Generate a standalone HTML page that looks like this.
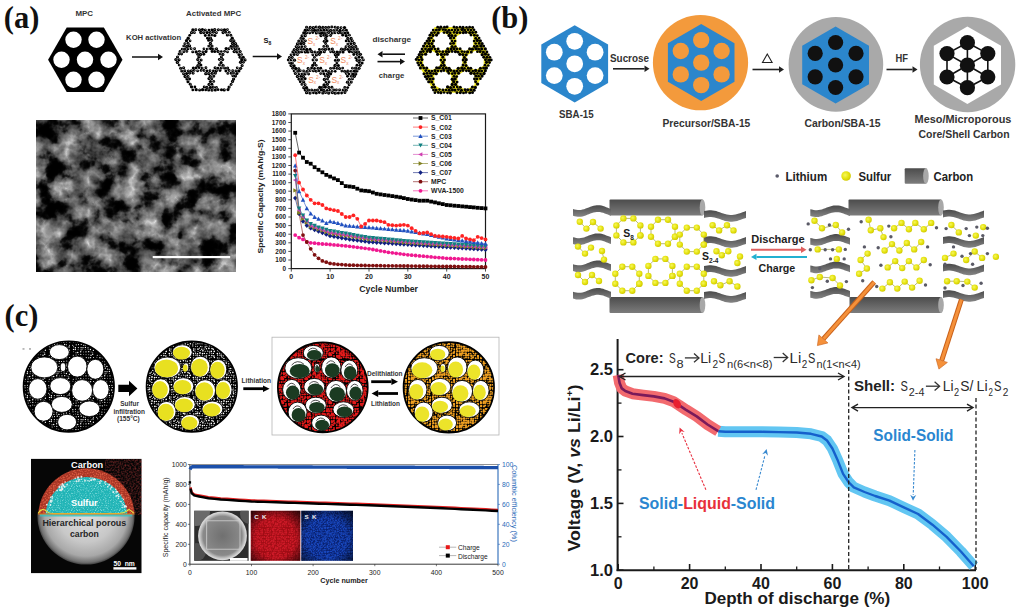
<!DOCTYPE html>
<html><head><meta charset="utf-8"><style>
html,body{margin:0;padding:0;background:#fff;width:1021px;height:613px;overflow:hidden;}
svg{display:block}
</style></head><body>
<svg width="1021" height="613" viewBox="0 0 1021 613">
<defs><pattern id="pdots" width="3.2" height="5.54" patternUnits="userSpaceOnUse"><g fill="#000"><circle cx="1.6" cy="1.38" r="1.45"/><circle cx="0" cy="4.15" r="1.45"/><circle cx="3.2" cy="4.15" r="1.45"/></g><g fill="#fff"><circle cx="1.6" cy="1.38" r="0.35"/><circle cx="0" cy="4.15" r="0.35"/><circle cx="3.2" cy="4.15" r="0.35"/></g></pattern><pattern id="ydots" width="3.2" height="5.54" patternUnits="userSpaceOnUse"><rect width="3.2" height="5.54" fill="#e8e000"/><g fill="#000"><circle cx="1.6" cy="1.38" r="1.3"/><circle cx="0" cy="4.15" r="1.3"/><circle cx="3.2" cy="4.15" r="1.3"/></g></pattern><filter id="sem" x="0" y="0" width="100%" height="100%" color-interpolation-filters="sRGB"><feTurbulence type="fractalNoise" baseFrequency="0.05" numOctaves="4" seed="11" result="n"/><feTurbulence type="turbulence" baseFrequency="0.045" numOctaves="3" seed="12" result="t"/><feColorMatrix in="n" type="matrix" values="1 0 0 0 0  1 0 0 0 0  1 0 0 0 0  0 0 0 0 1" result="ng"/><feComponentTransfer in="ng" result="base"><feFuncR type="table" tableValues="0 0 0 0 0 0 0.01 0.03 0.1 0.2 0.27 0.32 0.37 0.42 0.47 0.52 0.52 0.52 0.52 0.52 0.52"/><feFuncG type="table" tableValues="0 0 0 0 0 0 0.01 0.03 0.1 0.2 0.27 0.32 0.37 0.42 0.47 0.52 0.52 0.52 0.52 0.52 0.52"/><feFuncB type="table" tableValues="0 0 0 0 0 0 0.01 0.03 0.1 0.2 0.27 0.32 0.37 0.42 0.47 0.52 0.52 0.52 0.52 0.52 0.52"/></feComponentTransfer><feColorMatrix in="t" type="matrix" values="1 0 0 0 0  1 0 0 0 0  1 0 0 0 0  0 0 0 0 1" result="tg"/><feComponentTransfer in="tg" result="ridge"><feFuncR type="table" tableValues="0.5 0.25 0.1 0 0 0"/><feFuncG type="table" tableValues="0.5 0.25 0.1 0 0 0"/><feFuncB type="table" tableValues="0.5 0.25 0.1 0 0 0"/></feComponentTransfer><feComposite in="base" in2="ridge" operator="arithmetic" k1="1.3" k2="1" k3="0" k4="0"/><feGaussianBlur stdDeviation="0.5"/></filter><pattern id="specW" width="24" height="24" patternUnits="userSpaceOnUse"><rect width="24" height="24" fill="#000"/><circle cx="0.8" cy="1.7" r="0.65" fill="#fff"/><circle cx="1.0" cy="3.7" r="0.55" fill="#fff"/><circle cx="1.4" cy="6.6" r="0.45" fill="#fff"/><circle cx="0.7" cy="9.2" r="0.55" fill="#fff"/><circle cx="1.6" cy="10.7" r="0.55" fill="#fff"/><circle cx="1.5" cy="13.4" r="0.70" fill="#fff"/><circle cx="1.7" cy="15.7" r="0.43" fill="#fff"/><circle cx="1.3" cy="19.3" r="0.53" fill="#fff"/><circle cx="0.9" cy="21.2" r="0.43" fill="#fff"/><circle cx="3.4" cy="1.2" r="0.57" fill="#fff"/><circle cx="3.4" cy="3.4" r="0.49" fill="#fff"/><circle cx="3.7" cy="6.0" r="0.43" fill="#fff"/><circle cx="4.2" cy="8.8" r="0.61" fill="#fff"/><circle cx="3.4" cy="11.8" r="0.68" fill="#fff"/><circle cx="3.3" cy="13.5" r="0.64" fill="#fff"/><circle cx="4.0" cy="16.8" r="0.55" fill="#fff"/><circle cx="4.1" cy="19.0" r="0.51" fill="#fff"/><circle cx="3.9" cy="21.7" r="0.67" fill="#fff"/><circle cx="6.3" cy="1.4" r="0.43" fill="#fff"/><circle cx="5.9" cy="4.1" r="0.54" fill="#fff"/><circle cx="5.9" cy="6.3" r="0.63" fill="#fff"/><circle cx="6.5" cy="8.6" r="0.55" fill="#fff"/><circle cx="6.3" cy="11.6" r="0.58" fill="#fff"/><circle cx="6.1" cy="13.7" r="0.43" fill="#fff"/><circle cx="5.7" cy="16.5" r="0.71" fill="#fff"/><circle cx="6.4" cy="18.6" r="0.47" fill="#fff"/><circle cx="6.3" cy="21.8" r="0.65" fill="#fff"/><circle cx="8.8" cy="1.7" r="0.49" fill="#fff"/><circle cx="8.8" cy="4.3" r="0.59" fill="#fff"/><circle cx="8.7" cy="6.0" r="0.58" fill="#fff"/><circle cx="9.3" cy="8.2" r="0.66" fill="#fff"/><circle cx="9.1" cy="11.7" r="0.64" fill="#fff"/><circle cx="9.1" cy="13.8" r="0.59" fill="#fff"/><circle cx="8.7" cy="15.7" r="0.68" fill="#fff"/><circle cx="8.8" cy="18.4" r="0.57" fill="#fff"/><circle cx="8.7" cy="21.1" r="0.52" fill="#fff"/><circle cx="11.3" cy="1.4" r="0.60" fill="#fff"/><circle cx="11.2" cy="3.2" r="0.49" fill="#fff"/><circle cx="10.9" cy="6.4" r="0.68" fill="#fff"/><circle cx="11.6" cy="9.1" r="0.66" fill="#fff"/><circle cx="11.0" cy="11.7" r="0.62" fill="#fff"/><circle cx="10.7" cy="13.2" r="0.42" fill="#fff"/><circle cx="11.6" cy="15.9" r="0.45" fill="#fff"/><circle cx="11.4" cy="18.6" r="0.44" fill="#fff"/><circle cx="10.8" cy="21.3" r="0.47" fill="#fff"/><circle cx="13.5" cy="1.5" r="0.56" fill="#fff"/><circle cx="13.5" cy="3.7" r="0.43" fill="#fff"/><circle cx="13.6" cy="6.2" r="0.48" fill="#fff"/><circle cx="13.3" cy="9.2" r="0.57" fill="#fff"/><circle cx="13.4" cy="11.4" r="0.67" fill="#fff"/><circle cx="13.2" cy="13.2" r="0.46" fill="#fff"/><circle cx="14.0" cy="15.8" r="0.63" fill="#fff"/><circle cx="14.0" cy="18.8" r="0.49" fill="#fff"/><circle cx="14.3" cy="21.6" r="0.57" fill="#fff"/><circle cx="15.9" cy="1.4" r="0.54" fill="#fff"/><circle cx="16.3" cy="3.5" r="0.61" fill="#fff"/><circle cx="15.7" cy="6.0" r="0.71" fill="#fff"/><circle cx="16.7" cy="8.5" r="0.68" fill="#fff"/><circle cx="16.0" cy="11.8" r="0.64" fill="#fff"/><circle cx="16.1" cy="13.5" r="0.42" fill="#fff"/><circle cx="16.7" cy="15.7" r="0.67" fill="#fff"/><circle cx="16.8" cy="18.8" r="0.47" fill="#fff"/><circle cx="16.7" cy="21.8" r="0.63" fill="#fff"/><circle cx="18.8" cy="1.1" r="0.52" fill="#fff"/><circle cx="18.4" cy="4.0" r="0.55" fill="#fff"/><circle cx="18.4" cy="5.8" r="0.62" fill="#fff"/><circle cx="18.5" cy="8.7" r="0.52" fill="#fff"/><circle cx="19.2" cy="11.7" r="0.43" fill="#fff"/><circle cx="18.4" cy="13.5" r="0.72" fill="#fff"/><circle cx="19.1" cy="16.1" r="0.48" fill="#fff"/><circle cx="19.0" cy="19.2" r="0.70" fill="#fff"/><circle cx="18.6" cy="21.7" r="0.63" fill="#fff"/><circle cx="21.2" cy="1.8" r="0.49" fill="#fff"/><circle cx="21.5" cy="3.3" r="0.47" fill="#fff"/><circle cx="21.7" cy="5.9" r="0.65" fill="#fff"/><circle cx="21.4" cy="9.2" r="0.53" fill="#fff"/><circle cx="21.1" cy="11.0" r="0.68" fill="#fff"/><circle cx="21.4" cy="14.3" r="0.69" fill="#fff"/><circle cx="20.8" cy="16.3" r="0.45" fill="#fff"/><circle cx="20.7" cy="18.2" r="0.68" fill="#fff"/><circle cx="21.6" cy="21.6" r="0.52" fill="#fff"/></pattern><pattern id="specR" width="24" height="24" patternUnits="userSpaceOnUse"><rect width="24" height="24" fill="#000"/><circle cx="1.7" cy="1.7" r="0.87" fill="#e41a1a"/><circle cx="0.7" cy="3.9" r="1.28" fill="#e41a1a"/><circle cx="1.4" cy="5.5" r="1.20" fill="#e41a1a"/><circle cx="1.3" cy="8.1" r="0.94" fill="#e41a1a"/><circle cx="1.1" cy="10.2" r="1.27" fill="#e41a1a"/><circle cx="1.7" cy="13.2" r="1.17" fill="#e41a1a"/><circle cx="1.1" cy="14.7" r="0.86" fill="#e41a1a"/><circle cx="0.6" cy="17.2" r="1.03" fill="#e41a1a"/><circle cx="1.0" cy="20.0" r="1.16" fill="#e41a1a"/><circle cx="1.2" cy="21.5" r="0.85" fill="#e41a1a"/><circle cx="3.2" cy="0.7" r="1.15" fill="#e41a1a"/><circle cx="4.0" cy="3.7" r="0.95" fill="#e41a1a"/><circle cx="3.9" cy="6.1" r="1.28" fill="#e41a1a"/><circle cx="3.9" cy="8.4" r="1.31" fill="#e41a1a"/><circle cx="3.3" cy="10.9" r="1.42" fill="#e41a1a"/><circle cx="3.0" cy="13.0" r="1.27" fill="#e41a1a"/><circle cx="3.4" cy="15.0" r="1.13" fill="#e41a1a"/><circle cx="4.0" cy="17.3" r="1.34" fill="#e41a1a"/><circle cx="3.3" cy="20.0" r="1.38" fill="#e41a1a"/><circle cx="3.4" cy="21.9" r="1.39" fill="#e41a1a"/><circle cx="6.0" cy="1.1" r="0.97" fill="#e41a1a"/><circle cx="5.5" cy="3.7" r="0.94" fill="#e41a1a"/><circle cx="6.2" cy="5.5" r="1.39" fill="#e41a1a"/><circle cx="5.5" cy="8.6" r="1.26" fill="#e41a1a"/><circle cx="5.8" cy="10.4" r="1.23" fill="#e41a1a"/><circle cx="5.9" cy="12.4" r="0.96" fill="#e41a1a"/><circle cx="5.8" cy="15.5" r="1.21" fill="#e41a1a"/><circle cx="5.2" cy="17.6" r="1.28" fill="#e41a1a"/><circle cx="6.2" cy="19.2" r="1.29" fill="#e41a1a"/><circle cx="5.2" cy="22.0" r="1.00" fill="#e41a1a"/><circle cx="7.7" cy="1.6" r="0.90" fill="#e41a1a"/><circle cx="8.1" cy="3.9" r="0.99" fill="#e41a1a"/><circle cx="7.7" cy="6.2" r="1.09" fill="#e41a1a"/><circle cx="8.3" cy="7.5" r="1.06" fill="#e41a1a"/><circle cx="7.7" cy="10.6" r="0.89" fill="#e41a1a"/><circle cx="8.6" cy="12.1" r="1.28" fill="#e41a1a"/><circle cx="7.5" cy="14.7" r="1.33" fill="#e41a1a"/><circle cx="7.6" cy="16.9" r="1.25" fill="#e41a1a"/><circle cx="7.9" cy="19.0" r="1.43" fill="#e41a1a"/><circle cx="7.6" cy="21.3" r="1.05" fill="#e41a1a"/><circle cx="10.5" cy="1.4" r="0.91" fill="#e41a1a"/><circle cx="10.2" cy="2.9" r="1.11" fill="#e41a1a"/><circle cx="10.7" cy="6.0" r="1.38" fill="#e41a1a"/><circle cx="10.7" cy="8.5" r="1.26" fill="#e41a1a"/><circle cx="10.3" cy="10.0" r="1.24" fill="#e41a1a"/><circle cx="10.1" cy="12.2" r="1.11" fill="#e41a1a"/><circle cx="10.8" cy="14.5" r="1.19" fill="#e41a1a"/><circle cx="10.2" cy="17.3" r="0.93" fill="#e41a1a"/><circle cx="10.9" cy="19.3" r="1.20" fill="#e41a1a"/><circle cx="10.3" cy="21.3" r="1.17" fill="#e41a1a"/><circle cx="12.2" cy="0.6" r="0.86" fill="#e41a1a"/><circle cx="12.2" cy="3.0" r="1.22" fill="#e41a1a"/><circle cx="12.7" cy="6.3" r="1.40" fill="#e41a1a"/><circle cx="13.2" cy="7.7" r="1.11" fill="#e41a1a"/><circle cx="12.4" cy="10.5" r="1.21" fill="#e41a1a"/><circle cx="13.0" cy="12.9" r="0.99" fill="#e41a1a"/><circle cx="12.6" cy="15.0" r="0.84" fill="#e41a1a"/><circle cx="12.1" cy="17.1" r="0.91" fill="#e41a1a"/><circle cx="12.9" cy="19.2" r="0.90" fill="#e41a1a"/><circle cx="12.3" cy="21.5" r="0.97" fill="#e41a1a"/><circle cx="15.0" cy="1.1" r="1.03" fill="#e41a1a"/><circle cx="15.1" cy="3.1" r="1.38" fill="#e41a1a"/><circle cx="15.5" cy="6.0" r="1.10" fill="#e41a1a"/><circle cx="15.0" cy="8.1" r="0.87" fill="#e41a1a"/><circle cx="14.9" cy="10.4" r="0.95" fill="#e41a1a"/><circle cx="14.5" cy="13.0" r="1.06" fill="#e41a1a"/><circle cx="15.0" cy="15.5" r="1.21" fill="#e41a1a"/><circle cx="14.7" cy="17.8" r="1.06" fill="#e41a1a"/><circle cx="14.4" cy="19.8" r="0.90" fill="#e41a1a"/><circle cx="14.7" cy="22.3" r="1.24" fill="#e41a1a"/><circle cx="16.7" cy="1.1" r="1.09" fill="#e41a1a"/><circle cx="17.2" cy="3.1" r="1.19" fill="#e41a1a"/><circle cx="16.7" cy="5.5" r="1.06" fill="#e41a1a"/><circle cx="17.8" cy="7.5" r="1.29" fill="#e41a1a"/><circle cx="16.9" cy="10.4" r="1.08" fill="#e41a1a"/><circle cx="17.2" cy="13.0" r="1.08" fill="#e41a1a"/><circle cx="16.8" cy="14.5" r="0.89" fill="#e41a1a"/><circle cx="17.7" cy="17.4" r="1.42" fill="#e41a1a"/><circle cx="17.5" cy="19.0" r="1.24" fill="#e41a1a"/><circle cx="17.6" cy="22.1" r="1.14" fill="#e41a1a"/><circle cx="19.4" cy="1.1" r="1.32" fill="#e41a1a"/><circle cx="19.3" cy="3.5" r="1.13" fill="#e41a1a"/><circle cx="20.1" cy="6.1" r="1.40" fill="#e41a1a"/><circle cx="20.0" cy="7.8" r="0.98" fill="#e41a1a"/><circle cx="19.5" cy="10.1" r="1.10" fill="#e41a1a"/><circle cx="19.8" cy="13.2" r="1.19" fill="#e41a1a"/><circle cx="19.9" cy="14.5" r="1.05" fill="#e41a1a"/><circle cx="20.1" cy="16.8" r="1.09" fill="#e41a1a"/><circle cx="19.0" cy="19.1" r="1.38" fill="#e41a1a"/><circle cx="20.1" cy="22.0" r="0.92" fill="#e41a1a"/><circle cx="21.6" cy="0.8" r="1.24" fill="#e41a1a"/><circle cx="22.1" cy="3.4" r="1.15" fill="#e41a1a"/><circle cx="21.4" cy="5.8" r="1.41" fill="#e41a1a"/><circle cx="22.2" cy="7.6" r="1.15" fill="#e41a1a"/><circle cx="22.1" cy="10.1" r="1.38" fill="#e41a1a"/><circle cx="21.8" cy="12.9" r="1.08" fill="#e41a1a"/><circle cx="22.4" cy="15.3" r="1.18" fill="#e41a1a"/><circle cx="21.4" cy="17.2" r="0.86" fill="#e41a1a"/><circle cx="22.0" cy="20.0" r="0.95" fill="#e41a1a"/><circle cx="21.9" cy="21.8" r="1.08" fill="#e41a1a"/></pattern><pattern id="specO" width="24" height="24" patternUnits="userSpaceOnUse"><rect width="24" height="24" fill="#000"/><circle cx="0.8" cy="1.2" r="0.97" fill="#f0a020"/><circle cx="1.3" cy="3.6" r="0.81" fill="#f0a020"/><circle cx="0.6" cy="6.2" r="0.91" fill="#f0a020"/><circle cx="0.8" cy="8.6" r="1.03" fill="#f0a020"/><circle cx="1.6" cy="10.3" r="1.12" fill="#f0a020"/><circle cx="0.7" cy="12.8" r="1.25" fill="#f0a020"/><circle cx="1.2" cy="15.2" r="1.14" fill="#f0a020"/><circle cx="0.6" cy="17.6" r="1.10" fill="#f0a020"/><circle cx="0.9" cy="19.0" r="1.25" fill="#f0a020"/><circle cx="1.1" cy="22.1" r="1.25" fill="#f0a020"/><circle cx="3.7" cy="1.7" r="0.99" fill="#f0a020"/><circle cx="3.8" cy="3.4" r="1.28" fill="#f0a020"/><circle cx="3.9" cy="5.3" r="0.84" fill="#f0a020"/><circle cx="3.1" cy="8.6" r="1.01" fill="#f0a020"/><circle cx="3.6" cy="10.1" r="1.05" fill="#f0a020"/><circle cx="3.3" cy="12.5" r="1.09" fill="#f0a020"/><circle cx="3.6" cy="15.4" r="1.15" fill="#f0a020"/><circle cx="4.0" cy="17.7" r="1.32" fill="#f0a020"/><circle cx="3.7" cy="19.1" r="1.24" fill="#f0a020"/><circle cx="4.0" cy="22.3" r="1.08" fill="#f0a020"/><circle cx="6.0" cy="0.8" r="1.23" fill="#f0a020"/><circle cx="5.8" cy="3.2" r="0.80" fill="#f0a020"/><circle cx="6.2" cy="6.3" r="0.82" fill="#f0a020"/><circle cx="6.1" cy="7.9" r="0.85" fill="#f0a020"/><circle cx="5.5" cy="10.7" r="1.25" fill="#f0a020"/><circle cx="5.2" cy="12.8" r="0.79" fill="#f0a020"/><circle cx="6.0" cy="14.7" r="1.25" fill="#f0a020"/><circle cx="6.3" cy="17.3" r="1.32" fill="#f0a020"/><circle cx="5.5" cy="19.0" r="1.10" fill="#f0a020"/><circle cx="5.2" cy="21.5" r="0.99" fill="#f0a020"/><circle cx="8.2" cy="0.7" r="0.79" fill="#f0a020"/><circle cx="8.5" cy="3.2" r="1.30" fill="#f0a020"/><circle cx="8.5" cy="5.6" r="1.02" fill="#f0a020"/><circle cx="8.1" cy="8.2" r="1.10" fill="#f0a020"/><circle cx="8.1" cy="10.5" r="1.29" fill="#f0a020"/><circle cx="8.1" cy="12.6" r="1.17" fill="#f0a020"/><circle cx="7.7" cy="14.7" r="1.31" fill="#f0a020"/><circle cx="8.1" cy="17.3" r="0.78" fill="#f0a020"/><circle cx="7.9" cy="19.6" r="0.78" fill="#f0a020"/><circle cx="8.2" cy="22.0" r="0.80" fill="#f0a020"/><circle cx="10.5" cy="1.1" r="1.14" fill="#f0a020"/><circle cx="10.2" cy="3.7" r="1.18" fill="#f0a020"/><circle cx="9.8" cy="5.2" r="1.14" fill="#f0a020"/><circle cx="10.9" cy="7.8" r="1.02" fill="#f0a020"/><circle cx="10.5" cy="10.1" r="0.97" fill="#f0a020"/><circle cx="10.1" cy="12.5" r="1.10" fill="#f0a020"/><circle cx="10.1" cy="14.8" r="1.19" fill="#f0a020"/><circle cx="9.8" cy="17.3" r="1.17" fill="#f0a020"/><circle cx="10.1" cy="19.2" r="1.21" fill="#f0a020"/><circle cx="10.0" cy="21.5" r="1.01" fill="#f0a020"/><circle cx="12.9" cy="0.7" r="0.95" fill="#f0a020"/><circle cx="12.5" cy="3.9" r="1.01" fill="#f0a020"/><circle cx="13.1" cy="5.4" r="0.96" fill="#f0a020"/><circle cx="12.8" cy="8.5" r="1.02" fill="#f0a020"/><circle cx="12.3" cy="9.9" r="1.06" fill="#f0a020"/><circle cx="12.3" cy="13.0" r="1.23" fill="#f0a020"/><circle cx="12.3" cy="14.7" r="1.21" fill="#f0a020"/><circle cx="12.8" cy="17.6" r="0.96" fill="#f0a020"/><circle cx="12.2" cy="19.3" r="1.21" fill="#f0a020"/><circle cx="12.4" cy="21.7" r="1.00" fill="#f0a020"/><circle cx="14.9" cy="1.0" r="1.28" fill="#f0a020"/><circle cx="14.5" cy="2.9" r="1.29" fill="#f0a020"/><circle cx="15.4" cy="6.3" r="1.01" fill="#f0a020"/><circle cx="15.5" cy="8.6" r="0.89" fill="#f0a020"/><circle cx="15.2" cy="10.8" r="1.13" fill="#f0a020"/><circle cx="15.0" cy="12.4" r="0.96" fill="#f0a020"/><circle cx="14.6" cy="14.4" r="1.09" fill="#f0a020"/><circle cx="14.7" cy="17.6" r="0.79" fill="#f0a020"/><circle cx="15.4" cy="19.8" r="1.28" fill="#f0a020"/><circle cx="15.4" cy="22.3" r="1.09" fill="#f0a020"/><circle cx="16.7" cy="1.4" r="0.86" fill="#f0a020"/><circle cx="17.0" cy="3.6" r="1.06" fill="#f0a020"/><circle cx="17.1" cy="6.3" r="1.11" fill="#f0a020"/><circle cx="17.1" cy="7.8" r="1.24" fill="#f0a020"/><circle cx="17.2" cy="10.7" r="0.96" fill="#f0a020"/><circle cx="16.9" cy="12.7" r="1.22" fill="#f0a020"/><circle cx="16.9" cy="15.3" r="1.28" fill="#f0a020"/><circle cx="17.6" cy="17.6" r="0.77" fill="#f0a020"/><circle cx="17.4" cy="20.0" r="0.80" fill="#f0a020"/><circle cx="17.0" cy="21.6" r="1.06" fill="#f0a020"/><circle cx="19.5" cy="1.1" r="1.20" fill="#f0a020"/><circle cx="19.0" cy="2.9" r="0.84" fill="#f0a020"/><circle cx="19.1" cy="5.2" r="1.31" fill="#f0a020"/><circle cx="20.0" cy="7.6" r="1.05" fill="#f0a020"/><circle cx="19.3" cy="10.1" r="0.96" fill="#f0a020"/><circle cx="19.7" cy="12.8" r="0.97" fill="#f0a020"/><circle cx="19.2" cy="14.7" r="0.84" fill="#f0a020"/><circle cx="19.6" cy="17.5" r="0.98" fill="#f0a020"/><circle cx="19.0" cy="19.2" r="0.98" fill="#f0a020"/><circle cx="19.7" cy="22.2" r="0.98" fill="#f0a020"/><circle cx="22.2" cy="1.3" r="1.01" fill="#f0a020"/><circle cx="21.7" cy="3.4" r="1.16" fill="#f0a020"/><circle cx="21.8" cy="6.0" r="1.02" fill="#f0a020"/><circle cx="21.5" cy="8.1" r="1.15" fill="#f0a020"/><circle cx="21.3" cy="10.3" r="1.00" fill="#f0a020"/><circle cx="22.3" cy="13.2" r="0.98" fill="#f0a020"/><circle cx="22.3" cy="15.3" r="0.91" fill="#f0a020"/><circle cx="21.8" cy="16.8" r="1.22" fill="#f0a020"/><circle cx="22.0" cy="20.0" r="1.21" fill="#f0a020"/><circle cx="22.1" cy="22.1" r="1.08" fill="#f0a020"/></pattern><pattern id="specW2" width="24" height="24" patternUnits="userSpaceOnUse"><rect width="24" height="24" fill="#000"/><circle cx="0.8" cy="0.7" r="0.65" fill="#fff"/><circle cx="0.7" cy="2.9" r="0.65" fill="#fff"/><circle cx="1.7" cy="6.1" r="0.78" fill="#fff"/><circle cx="0.8" cy="8.1" r="0.60" fill="#fff"/><circle cx="0.8" cy="9.9" r="0.58" fill="#fff"/><circle cx="1.7" cy="13.0" r="0.79" fill="#fff"/><circle cx="1.5" cy="14.6" r="0.62" fill="#fff"/><circle cx="1.3" cy="17.5" r="0.81" fill="#fff"/><circle cx="1.6" cy="19.1" r="0.72" fill="#fff"/><circle cx="1.4" cy="21.9" r="0.57" fill="#fff"/><circle cx="3.4" cy="0.7" r="0.84" fill="#fff"/><circle cx="3.9" cy="3.5" r="0.61" fill="#fff"/><circle cx="3.9" cy="5.8" r="0.82" fill="#fff"/><circle cx="3.9" cy="8.1" r="0.65" fill="#fff"/><circle cx="3.6" cy="10.3" r="0.56" fill="#fff"/><circle cx="3.2" cy="13.0" r="0.52" fill="#fff"/><circle cx="2.9" cy="15.1" r="0.60" fill="#fff"/><circle cx="3.5" cy="17.2" r="0.63" fill="#fff"/><circle cx="4.0" cy="19.2" r="0.65" fill="#fff"/><circle cx="3.1" cy="22.0" r="0.60" fill="#fff"/><circle cx="5.6" cy="1.4" r="0.62" fill="#fff"/><circle cx="5.8" cy="3.9" r="0.54" fill="#fff"/><circle cx="5.2" cy="5.4" r="0.78" fill="#fff"/><circle cx="5.9" cy="7.7" r="0.62" fill="#fff"/><circle cx="5.4" cy="10.3" r="0.52" fill="#fff"/><circle cx="6.0" cy="13.1" r="0.85" fill="#fff"/><circle cx="6.0" cy="15.5" r="0.51" fill="#fff"/><circle cx="5.5" cy="17.8" r="0.78" fill="#fff"/><circle cx="5.6" cy="20.1" r="0.73" fill="#fff"/><circle cx="6.1" cy="21.6" r="0.57" fill="#fff"/><circle cx="8.0" cy="0.7" r="0.64" fill="#fff"/><circle cx="8.6" cy="3.2" r="0.51" fill="#fff"/><circle cx="7.5" cy="5.4" r="0.79" fill="#fff"/><circle cx="7.9" cy="7.8" r="0.54" fill="#fff"/><circle cx="8.6" cy="10.3" r="0.58" fill="#fff"/><circle cx="7.5" cy="12.1" r="0.56" fill="#fff"/><circle cx="8.3" cy="14.5" r="0.52" fill="#fff"/><circle cx="8.0" cy="16.9" r="0.86" fill="#fff"/><circle cx="7.6" cy="19.6" r="0.78" fill="#fff"/><circle cx="7.9" cy="22.4" r="0.68" fill="#fff"/><circle cx="10.0" cy="1.0" r="0.52" fill="#fff"/><circle cx="10.3" cy="3.1" r="0.82" fill="#fff"/><circle cx="10.7" cy="5.7" r="0.52" fill="#fff"/><circle cx="10.1" cy="7.7" r="0.58" fill="#fff"/><circle cx="10.0" cy="10.8" r="0.56" fill="#fff"/><circle cx="9.8" cy="13.2" r="0.71" fill="#fff"/><circle cx="10.9" cy="14.8" r="0.83" fill="#fff"/><circle cx="10.5" cy="17.6" r="0.77" fill="#fff"/><circle cx="10.3" cy="19.1" r="0.58" fill="#fff"/><circle cx="10.8" cy="22.3" r="0.84" fill="#fff"/><circle cx="12.5" cy="1.3" r="0.79" fill="#fff"/><circle cx="12.8" cy="3.8" r="0.69" fill="#fff"/><circle cx="12.8" cy="6.0" r="0.60" fill="#fff"/><circle cx="13.2" cy="8.6" r="0.53" fill="#fff"/><circle cx="13.2" cy="10.9" r="0.74" fill="#fff"/><circle cx="12.1" cy="13.1" r="0.55" fill="#fff"/><circle cx="13.2" cy="15.2" r="0.53" fill="#fff"/><circle cx="12.3" cy="17.4" r="0.71" fill="#fff"/><circle cx="12.9" cy="20.1" r="0.58" fill="#fff"/><circle cx="12.1" cy="22.4" r="0.51" fill="#fff"/><circle cx="15.4" cy="0.7" r="0.80" fill="#fff"/><circle cx="15.3" cy="3.9" r="0.70" fill="#fff"/><circle cx="15.4" cy="5.4" r="0.75" fill="#fff"/><circle cx="14.7" cy="8.5" r="0.78" fill="#fff"/><circle cx="14.9" cy="10.4" r="0.51" fill="#fff"/><circle cx="14.4" cy="12.8" r="0.68" fill="#fff"/><circle cx="15.4" cy="15.1" r="0.55" fill="#fff"/><circle cx="14.8" cy="17.6" r="0.69" fill="#fff"/><circle cx="14.4" cy="20.0" r="0.80" fill="#fff"/><circle cx="14.5" cy="21.9" r="0.64" fill="#fff"/><circle cx="17.6" cy="0.9" r="0.59" fill="#fff"/><circle cx="17.2" cy="4.0" r="0.54" fill="#fff"/><circle cx="16.8" cy="5.9" r="0.82" fill="#fff"/><circle cx="17.3" cy="8.0" r="0.81" fill="#fff"/><circle cx="17.6" cy="9.8" r="0.82" fill="#fff"/><circle cx="16.9" cy="12.4" r="0.81" fill="#fff"/><circle cx="17.2" cy="15.3" r="0.56" fill="#fff"/><circle cx="17.7" cy="16.9" r="0.56" fill="#fff"/><circle cx="17.2" cy="19.4" r="0.70" fill="#fff"/><circle cx="17.7" cy="22.1" r="0.51" fill="#fff"/><circle cx="19.3" cy="1.2" r="0.68" fill="#fff"/><circle cx="19.8" cy="3.4" r="0.53" fill="#fff"/><circle cx="19.2" cy="6.2" r="0.63" fill="#fff"/><circle cx="19.9" cy="8.6" r="0.73" fill="#fff"/><circle cx="19.8" cy="10.5" r="0.62" fill="#fff"/><circle cx="20.0" cy="12.6" r="0.83" fill="#fff"/><circle cx="19.3" cy="15.4" r="0.79" fill="#fff"/><circle cx="19.7" cy="17.2" r="0.55" fill="#fff"/><circle cx="19.9" cy="19.4" r="0.74" fill="#fff"/><circle cx="19.1" cy="21.3" r="0.56" fill="#fff"/><circle cx="22.2" cy="0.8" r="0.83" fill="#fff"/><circle cx="21.7" cy="3.5" r="0.63" fill="#fff"/><circle cx="22.0" cy="5.3" r="0.65" fill="#fff"/><circle cx="22.4" cy="7.7" r="0.74" fill="#fff"/><circle cx="21.6" cy="10.1" r="0.51" fill="#fff"/><circle cx="21.3" cy="13.2" r="0.80" fill="#fff"/><circle cx="22.2" cy="15.3" r="0.85" fill="#fff"/><circle cx="21.4" cy="17.4" r="0.68" fill="#fff"/><circle cx="21.9" cy="20.1" r="0.78" fill="#fff"/><circle cx="22.4" cy="21.4" r="0.74" fill="#fff"/></pattern><radialGradient id="sph" cx="0.5" cy="0.5" r="0.5" fx="0.5" fy="0.42"><stop offset="0" stop-color="#e2e2e2"/><stop offset="0.6" stop-color="#c8c8c8"/><stop offset="0.85" stop-color="#a8a8a8"/><stop offset="0.96" stop-color="#707070"/><stop offset="1" stop-color="#404040"/></radialGradient><clipPath id="tophalf"><rect x="30" y="440" width="115" height="74"/></clipPath><clipPath id="bothalf"><rect x="30" y="514" width="115" height="70"/></clipPath><pattern id="specT" width="24" height="24" patternUnits="userSpaceOnUse"><rect width="24" height="24" fill="#20b4b6"/><circle cx="1.1" cy="1.3" r="0.55" fill="#8ae0e0"/><circle cx="1.5" cy="3.3" r="0.58" fill="#8ae0e0"/><circle cx="0.4" cy="5.0" r="0.59" fill="#8ae0e0"/><circle cx="1.2" cy="7.5" r="0.38" fill="#8ae0e0"/><circle cx="1.0" cy="8.7" r="0.49" fill="#8ae0e0"/><circle cx="1.1" cy="10.4" r="0.40" fill="#8ae0e0"/><circle cx="0.7" cy="13.5" r="0.54" fill="#8ae0e0"/><circle cx="0.6" cy="15.4" r="0.38" fill="#8ae0e0"/><circle cx="1.1" cy="16.6" r="0.35" fill="#8ae0e0"/><circle cx="1.4" cy="18.7" r="0.40" fill="#8ae0e0"/><circle cx="1.6" cy="21.4" r="0.42" fill="#8ae0e0"/><circle cx="1.6" cy="23.0" r="0.52" fill="#8ae0e0"/><circle cx="2.6" cy="1.5" r="0.52" fill="#8ae0e0"/><circle cx="3.6" cy="3.5" r="0.42" fill="#8ae0e0"/><circle cx="2.8" cy="4.6" r="0.39" fill="#8ae0e0"/><circle cx="2.5" cy="6.8" r="0.50" fill="#8ae0e0"/><circle cx="2.4" cy="9.2" r="0.43" fill="#8ae0e0"/><circle cx="2.8" cy="11.4" r="0.47" fill="#8ae0e0"/><circle cx="2.8" cy="13.0" r="0.53" fill="#8ae0e0"/><circle cx="2.5" cy="15.6" r="0.36" fill="#8ae0e0"/><circle cx="3.3" cy="17.4" r="0.35" fill="#8ae0e0"/><circle cx="3.3" cy="18.8" r="0.49" fill="#8ae0e0"/><circle cx="2.4" cy="20.5" r="0.40" fill="#8ae0e0"/><circle cx="3.5" cy="22.6" r="0.54" fill="#8ae0e0"/><circle cx="5.5" cy="1.5" r="0.44" fill="#8ae0e0"/><circle cx="4.8" cy="3.0" r="0.54" fill="#8ae0e0"/><circle cx="4.5" cy="5.3" r="0.55" fill="#8ae0e0"/><circle cx="5.4" cy="6.4" r="0.59" fill="#8ae0e0"/><circle cx="4.5" cy="8.8" r="0.50" fill="#8ae0e0"/><circle cx="5.5" cy="10.8" r="0.58" fill="#8ae0e0"/><circle cx="5.1" cy="12.8" r="0.43" fill="#8ae0e0"/><circle cx="4.6" cy="14.5" r="0.39" fill="#8ae0e0"/><circle cx="5.2" cy="17.6" r="0.39" fill="#8ae0e0"/><circle cx="4.5" cy="19.6" r="0.48" fill="#8ae0e0"/><circle cx="4.9" cy="20.7" r="0.50" fill="#8ae0e0"/><circle cx="5.4" cy="22.9" r="0.46" fill="#8ae0e0"/><circle cx="6.5" cy="1.5" r="0.36" fill="#8ae0e0"/><circle cx="7.0" cy="3.4" r="0.38" fill="#8ae0e0"/><circle cx="7.3" cy="5.5" r="0.51" fill="#8ae0e0"/><circle cx="7.3" cy="6.5" r="0.46" fill="#8ae0e0"/><circle cx="6.6" cy="9.4" r="0.42" fill="#8ae0e0"/><circle cx="6.9" cy="11.6" r="0.56" fill="#8ae0e0"/><circle cx="7.6" cy="12.9" r="0.47" fill="#8ae0e0"/><circle cx="7.3" cy="15.0" r="0.42" fill="#8ae0e0"/><circle cx="6.9" cy="16.6" r="0.44" fill="#8ae0e0"/><circle cx="7.6" cy="19.6" r="0.51" fill="#8ae0e0"/><circle cx="7.0" cy="20.8" r="0.37" fill="#8ae0e0"/><circle cx="6.7" cy="23.3" r="0.57" fill="#8ae0e0"/><circle cx="8.8" cy="1.3" r="0.54" fill="#8ae0e0"/><circle cx="9.2" cy="3.2" r="0.54" fill="#8ae0e0"/><circle cx="8.8" cy="5.2" r="0.42" fill="#8ae0e0"/><circle cx="9.0" cy="7.3" r="0.52" fill="#8ae0e0"/><circle cx="8.8" cy="9.5" r="0.51" fill="#8ae0e0"/><circle cx="9.1" cy="10.4" r="0.49" fill="#8ae0e0"/><circle cx="8.7" cy="13.2" r="0.47" fill="#8ae0e0"/><circle cx="9.4" cy="15.2" r="0.55" fill="#8ae0e0"/><circle cx="8.8" cy="17.2" r="0.53" fill="#8ae0e0"/><circle cx="9.4" cy="18.8" r="0.56" fill="#8ae0e0"/><circle cx="9.4" cy="21.2" r="0.59" fill="#8ae0e0"/><circle cx="9.5" cy="23.0" r="0.48" fill="#8ae0e0"/><circle cx="10.6" cy="1.4" r="0.58" fill="#8ae0e0"/><circle cx="11.0" cy="3.2" r="0.53" fill="#8ae0e0"/><circle cx="11.3" cy="4.6" r="0.55" fill="#8ae0e0"/><circle cx="11.1" cy="7.2" r="0.46" fill="#8ae0e0"/><circle cx="11.1" cy="9.3" r="0.51" fill="#8ae0e0"/><circle cx="11.3" cy="10.4" r="0.39" fill="#8ae0e0"/><circle cx="10.9" cy="13.2" r="0.40" fill="#8ae0e0"/><circle cx="11.2" cy="15.2" r="0.36" fill="#8ae0e0"/><circle cx="11.0" cy="16.7" r="0.36" fill="#8ae0e0"/><circle cx="10.6" cy="18.8" r="0.40" fill="#8ae0e0"/><circle cx="10.6" cy="20.4" r="0.47" fill="#8ae0e0"/><circle cx="10.9" cy="23.1" r="0.50" fill="#8ae0e0"/><circle cx="12.7" cy="1.5" r="0.35" fill="#8ae0e0"/><circle cx="12.9" cy="2.7" r="0.45" fill="#8ae0e0"/><circle cx="12.5" cy="5.4" r="0.44" fill="#8ae0e0"/><circle cx="12.4" cy="7.1" r="0.37" fill="#8ae0e0"/><circle cx="13.1" cy="8.8" r="0.50" fill="#8ae0e0"/><circle cx="13.5" cy="11.4" r="0.45" fill="#8ae0e0"/><circle cx="13.4" cy="13.2" r="0.44" fill="#8ae0e0"/><circle cx="12.6" cy="15.1" r="0.49" fill="#8ae0e0"/><circle cx="13.5" cy="17.6" r="0.50" fill="#8ae0e0"/><circle cx="12.8" cy="19.5" r="0.35" fill="#8ae0e0"/><circle cx="12.5" cy="21.1" r="0.50" fill="#8ae0e0"/><circle cx="12.6" cy="23.2" r="0.57" fill="#8ae0e0"/><circle cx="14.9" cy="0.9" r="0.41" fill="#8ae0e0"/><circle cx="14.7" cy="3.6" r="0.44" fill="#8ae0e0"/><circle cx="15.6" cy="5.5" r="0.50" fill="#8ae0e0"/><circle cx="14.7" cy="7.6" r="0.47" fill="#8ae0e0"/><circle cx="14.9" cy="8.8" r="0.60" fill="#8ae0e0"/><circle cx="15.0" cy="10.7" r="0.47" fill="#8ae0e0"/><circle cx="14.5" cy="13.1" r="0.46" fill="#8ae0e0"/><circle cx="14.8" cy="15.3" r="0.56" fill="#8ae0e0"/><circle cx="14.4" cy="17.0" r="0.42" fill="#8ae0e0"/><circle cx="15.5" cy="19.3" r="0.41" fill="#8ae0e0"/><circle cx="14.7" cy="20.6" r="0.60" fill="#8ae0e0"/><circle cx="14.8" cy="23.1" r="0.47" fill="#8ae0e0"/><circle cx="17.2" cy="1.1" r="0.54" fill="#8ae0e0"/><circle cx="16.5" cy="3.3" r="0.43" fill="#8ae0e0"/><circle cx="17.0" cy="4.8" r="0.42" fill="#8ae0e0"/><circle cx="17.0" cy="7.0" r="0.44" fill="#8ae0e0"/><circle cx="17.3" cy="9.1" r="0.36" fill="#8ae0e0"/><circle cx="16.7" cy="10.9" r="0.58" fill="#8ae0e0"/><circle cx="17.5" cy="13.1" r="0.35" fill="#8ae0e0"/><circle cx="17.3" cy="14.9" r="0.49" fill="#8ae0e0"/><circle cx="17.2" cy="17.2" r="0.47" fill="#8ae0e0"/><circle cx="17.5" cy="18.9" r="0.45" fill="#8ae0e0"/><circle cx="17.4" cy="20.6" r="0.42" fill="#8ae0e0"/><circle cx="17.4" cy="22.5" r="0.56" fill="#8ae0e0"/><circle cx="19.2" cy="0.9" r="0.42" fill="#8ae0e0"/><circle cx="19.3" cy="3.5" r="0.39" fill="#8ae0e0"/><circle cx="19.0" cy="5.1" r="0.47" fill="#8ae0e0"/><circle cx="18.8" cy="6.6" r="0.50" fill="#8ae0e0"/><circle cx="19.4" cy="8.5" r="0.41" fill="#8ae0e0"/><circle cx="19.4" cy="11.4" r="0.52" fill="#8ae0e0"/><circle cx="18.4" cy="13.3" r="0.59" fill="#8ae0e0"/><circle cx="19.6" cy="15.2" r="0.36" fill="#8ae0e0"/><circle cx="19.4" cy="16.7" r="0.51" fill="#8ae0e0"/><circle cx="19.5" cy="19.3" r="0.38" fill="#8ae0e0"/><circle cx="18.8" cy="21.5" r="0.39" fill="#8ae0e0"/><circle cx="19.1" cy="22.9" r="0.39" fill="#8ae0e0"/><circle cx="21.1" cy="0.5" r="0.38" fill="#8ae0e0"/><circle cx="20.9" cy="2.5" r="0.36" fill="#8ae0e0"/><circle cx="21.1" cy="5.3" r="0.57" fill="#8ae0e0"/><circle cx="20.6" cy="6.9" r="0.43" fill="#8ae0e0"/><circle cx="21.1" cy="9.0" r="0.58" fill="#8ae0e0"/><circle cx="20.8" cy="10.5" r="0.52" fill="#8ae0e0"/><circle cx="20.6" cy="13.2" r="0.48" fill="#8ae0e0"/><circle cx="21.5" cy="15.1" r="0.51" fill="#8ae0e0"/><circle cx="20.7" cy="17.1" r="0.41" fill="#8ae0e0"/><circle cx="21.3" cy="19.0" r="0.38" fill="#8ae0e0"/><circle cx="20.7" cy="20.8" r="0.53" fill="#8ae0e0"/><circle cx="20.6" cy="23.3" r="0.51" fill="#8ae0e0"/><circle cx="22.5" cy="1.2" r="0.37" fill="#8ae0e0"/><circle cx="22.5" cy="3.1" r="0.41" fill="#8ae0e0"/><circle cx="23.5" cy="5.0" r="0.43" fill="#8ae0e0"/><circle cx="23.4" cy="6.4" r="0.53" fill="#8ae0e0"/><circle cx="22.5" cy="8.6" r="0.59" fill="#8ae0e0"/><circle cx="23.2" cy="10.7" r="0.38" fill="#8ae0e0"/><circle cx="23.6" cy="13.2" r="0.56" fill="#8ae0e0"/><circle cx="22.6" cy="15.1" r="0.44" fill="#8ae0e0"/><circle cx="22.7" cy="16.8" r="0.50" fill="#8ae0e0"/><circle cx="22.8" cy="18.9" r="0.38" fill="#8ae0e0"/><circle cx="23.4" cy="21.2" r="0.55" fill="#8ae0e0"/><circle cx="22.9" cy="23.4" r="0.48" fill="#8ae0e0"/></pattern><pattern id="specRed" width="24" height="24" patternUnits="userSpaceOnUse"><rect width="24" height="24" fill="#a83424"/><circle cx="1.4" cy="1.4" r="0.66" fill="#d85a40"/><circle cx="0.7" cy="2.4" r="0.72" fill="#d85a40"/><circle cx="1.0" cy="5.3" r="0.62" fill="#d85a40"/><circle cx="1.3" cy="6.7" r="0.77" fill="#d85a40"/><circle cx="1.3" cy="8.9" r="0.68" fill="#d85a40"/><circle cx="1.2" cy="10.6" r="0.68" fill="#d85a40"/><circle cx="1.4" cy="12.7" r="0.77" fill="#d85a40"/><circle cx="1.2" cy="15.4" r="0.61" fill="#d85a40"/><circle cx="0.5" cy="17.4" r="0.77" fill="#d85a40"/><circle cx="0.9" cy="18.5" r="0.56" fill="#d85a40"/><circle cx="1.2" cy="20.7" r="0.82" fill="#d85a40"/><circle cx="1.1" cy="22.6" r="0.72" fill="#d85a40"/><circle cx="2.8" cy="1.5" r="0.81" fill="#d85a40"/><circle cx="3.0" cy="3.2" r="0.73" fill="#d85a40"/><circle cx="3.4" cy="5.6" r="0.50" fill="#d85a40"/><circle cx="2.8" cy="7.1" r="0.60" fill="#d85a40"/><circle cx="3.1" cy="8.5" r="0.80" fill="#d85a40"/><circle cx="3.0" cy="10.5" r="0.72" fill="#d85a40"/><circle cx="2.8" cy="12.6" r="0.66" fill="#d85a40"/><circle cx="2.6" cy="14.7" r="0.79" fill="#d85a40"/><circle cx="3.2" cy="16.4" r="0.76" fill="#d85a40"/><circle cx="2.4" cy="18.8" r="0.81" fill="#d85a40"/><circle cx="3.1" cy="20.8" r="0.62" fill="#d85a40"/><circle cx="2.9" cy="22.6" r="0.84" fill="#d85a40"/><circle cx="4.5" cy="0.9" r="0.75" fill="#d85a40"/><circle cx="4.9" cy="3.6" r="0.58" fill="#d85a40"/><circle cx="5.6" cy="5.5" r="0.72" fill="#d85a40"/><circle cx="5.5" cy="6.9" r="0.78" fill="#d85a40"/><circle cx="5.4" cy="9.0" r="0.65" fill="#d85a40"/><circle cx="5.2" cy="10.9" r="0.52" fill="#d85a40"/><circle cx="5.3" cy="12.7" r="0.66" fill="#d85a40"/><circle cx="5.3" cy="14.6" r="0.50" fill="#d85a40"/><circle cx="4.5" cy="17.1" r="0.62" fill="#d85a40"/><circle cx="4.7" cy="18.9" r="0.81" fill="#d85a40"/><circle cx="4.7" cy="20.9" r="0.80" fill="#d85a40"/><circle cx="5.1" cy="22.7" r="0.66" fill="#d85a40"/><circle cx="7.0" cy="0.6" r="0.62" fill="#d85a40"/><circle cx="6.8" cy="3.4" r="0.60" fill="#d85a40"/><circle cx="7.2" cy="5.6" r="0.81" fill="#d85a40"/><circle cx="6.9" cy="7.1" r="0.60" fill="#d85a40"/><circle cx="6.9" cy="9.0" r="0.77" fill="#d85a40"/><circle cx="7.5" cy="10.7" r="0.49" fill="#d85a40"/><circle cx="6.9" cy="12.5" r="0.50" fill="#d85a40"/><circle cx="7.3" cy="14.5" r="0.74" fill="#d85a40"/><circle cx="6.8" cy="17.5" r="0.79" fill="#d85a40"/><circle cx="6.5" cy="18.6" r="0.82" fill="#d85a40"/><circle cx="7.1" cy="20.9" r="0.76" fill="#d85a40"/><circle cx="7.4" cy="23.0" r="0.65" fill="#d85a40"/><circle cx="8.5" cy="0.8" r="0.54" fill="#d85a40"/><circle cx="9.2" cy="3.1" r="0.54" fill="#d85a40"/><circle cx="9.2" cy="4.5" r="0.53" fill="#d85a40"/><circle cx="9.2" cy="7.0" r="0.80" fill="#d85a40"/><circle cx="9.2" cy="9.2" r="0.53" fill="#d85a40"/><circle cx="9.4" cy="10.5" r="0.71" fill="#d85a40"/><circle cx="9.5" cy="13.5" r="0.80" fill="#d85a40"/><circle cx="8.9" cy="15.2" r="0.77" fill="#d85a40"/><circle cx="8.6" cy="17.5" r="0.81" fill="#d85a40"/><circle cx="8.9" cy="19.3" r="0.65" fill="#d85a40"/><circle cx="8.7" cy="21.3" r="0.51" fill="#d85a40"/><circle cx="9.4" cy="23.6" r="0.59" fill="#d85a40"/><circle cx="11.5" cy="0.5" r="0.79" fill="#d85a40"/><circle cx="10.7" cy="3.6" r="0.64" fill="#d85a40"/><circle cx="11.5" cy="4.4" r="0.52" fill="#d85a40"/><circle cx="11.4" cy="7.2" r="0.68" fill="#d85a40"/><circle cx="10.4" cy="8.6" r="0.62" fill="#d85a40"/><circle cx="10.5" cy="11.6" r="0.76" fill="#d85a40"/><circle cx="11.5" cy="13.2" r="0.61" fill="#d85a40"/><circle cx="10.5" cy="15.3" r="0.53" fill="#d85a40"/><circle cx="11.1" cy="17.0" r="0.66" fill="#d85a40"/><circle cx="10.5" cy="18.5" r="0.67" fill="#d85a40"/><circle cx="10.4" cy="21.0" r="0.54" fill="#d85a40"/><circle cx="10.7" cy="22.6" r="0.69" fill="#d85a40"/><circle cx="12.9" cy="0.7" r="0.57" fill="#d85a40"/><circle cx="13.1" cy="3.5" r="0.64" fill="#d85a40"/><circle cx="12.6" cy="4.8" r="0.57" fill="#d85a40"/><circle cx="13.1" cy="7.3" r="0.69" fill="#d85a40"/><circle cx="12.6" cy="8.8" r="0.62" fill="#d85a40"/><circle cx="12.9" cy="10.9" r="0.84" fill="#d85a40"/><circle cx="13.1" cy="13.2" r="0.74" fill="#d85a40"/><circle cx="13.2" cy="15.4" r="0.62" fill="#d85a40"/><circle cx="13.2" cy="17.6" r="0.55" fill="#d85a40"/><circle cx="13.2" cy="18.9" r="0.51" fill="#d85a40"/><circle cx="12.4" cy="21.3" r="0.53" fill="#d85a40"/><circle cx="13.3" cy="22.5" r="0.62" fill="#d85a40"/><circle cx="14.4" cy="1.1" r="0.77" fill="#d85a40"/><circle cx="14.7" cy="3.1" r="0.81" fill="#d85a40"/><circle cx="14.8" cy="5.0" r="0.74" fill="#d85a40"/><circle cx="15.4" cy="6.6" r="0.72" fill="#d85a40"/><circle cx="14.5" cy="8.5" r="0.83" fill="#d85a40"/><circle cx="14.5" cy="11.5" r="0.75" fill="#d85a40"/><circle cx="15.2" cy="13.3" r="0.72" fill="#d85a40"/><circle cx="14.7" cy="14.9" r="0.56" fill="#d85a40"/><circle cx="15.4" cy="17.3" r="0.77" fill="#d85a40"/><circle cx="14.7" cy="19.1" r="0.58" fill="#d85a40"/><circle cx="15.3" cy="21.3" r="0.84" fill="#d85a40"/><circle cx="15.2" cy="23.2" r="0.76" fill="#d85a40"/><circle cx="16.5" cy="1.1" r="0.50" fill="#d85a40"/><circle cx="16.8" cy="2.5" r="0.82" fill="#d85a40"/><circle cx="16.4" cy="5.5" r="0.82" fill="#d85a40"/><circle cx="16.9" cy="7.4" r="0.51" fill="#d85a40"/><circle cx="16.6" cy="8.4" r="0.51" fill="#d85a40"/><circle cx="16.4" cy="11.4" r="0.52" fill="#d85a40"/><circle cx="17.1" cy="12.7" r="0.54" fill="#d85a40"/><circle cx="16.9" cy="14.6" r="0.83" fill="#d85a40"/><circle cx="16.9" cy="17.1" r="0.69" fill="#d85a40"/><circle cx="17.2" cy="19.0" r="0.58" fill="#d85a40"/><circle cx="16.6" cy="21.5" r="0.56" fill="#d85a40"/><circle cx="16.9" cy="23.4" r="0.69" fill="#d85a40"/><circle cx="19.5" cy="1.4" r="0.67" fill="#d85a40"/><circle cx="18.5" cy="3.1" r="0.66" fill="#d85a40"/><circle cx="19.4" cy="5.0" r="0.73" fill="#d85a40"/><circle cx="19.4" cy="7.0" r="0.78" fill="#d85a40"/><circle cx="19.5" cy="8.6" r="0.81" fill="#d85a40"/><circle cx="19.4" cy="11.4" r="0.61" fill="#d85a40"/><circle cx="18.7" cy="12.6" r="0.62" fill="#d85a40"/><circle cx="19.4" cy="14.8" r="0.49" fill="#d85a40"/><circle cx="18.8" cy="16.5" r="0.71" fill="#d85a40"/><circle cx="19.3" cy="19.5" r="0.52" fill="#d85a40"/><circle cx="18.9" cy="20.6" r="0.81" fill="#d85a40"/><circle cx="19.4" cy="23.0" r="0.82" fill="#d85a40"/><circle cx="21.0" cy="1.3" r="0.66" fill="#d85a40"/><circle cx="20.8" cy="3.6" r="0.78" fill="#d85a40"/><circle cx="21.1" cy="5.4" r="0.72" fill="#d85a40"/><circle cx="21.4" cy="6.5" r="0.54" fill="#d85a40"/><circle cx="20.5" cy="9.1" r="0.74" fill="#d85a40"/><circle cx="20.6" cy="11.0" r="0.53" fill="#d85a40"/><circle cx="21.2" cy="13.3" r="0.52" fill="#d85a40"/><circle cx="21.6" cy="15.2" r="0.53" fill="#d85a40"/><circle cx="20.8" cy="16.6" r="0.74" fill="#d85a40"/><circle cx="21.5" cy="18.6" r="0.55" fill="#d85a40"/><circle cx="21.2" cy="21.4" r="0.75" fill="#d85a40"/><circle cx="20.9" cy="22.5" r="0.70" fill="#d85a40"/><circle cx="22.9" cy="1.4" r="0.69" fill="#d85a40"/><circle cx="23.3" cy="3.6" r="0.71" fill="#d85a40"/><circle cx="23.5" cy="4.7" r="0.49" fill="#d85a40"/><circle cx="23.5" cy="6.4" r="0.84" fill="#d85a40"/><circle cx="22.9" cy="8.5" r="0.59" fill="#d85a40"/><circle cx="23.3" cy="10.9" r="0.71" fill="#d85a40"/><circle cx="22.5" cy="13.4" r="0.62" fill="#d85a40"/><circle cx="23.4" cy="14.6" r="0.72" fill="#d85a40"/><circle cx="23.0" cy="16.9" r="0.50" fill="#d85a40"/><circle cx="23.0" cy="19.4" r="0.53" fill="#d85a40"/><circle cx="22.9" cy="20.4" r="0.84" fill="#d85a40"/><circle cx="23.6" cy="23.2" r="0.66" fill="#d85a40"/></pattern><filter id="redn" x="0" y="0" width="100%" height="100%"><feTurbulence type="fractalNoise" baseFrequency="0.6" numOctaves="1" seed="5"/><feColorMatrix type="matrix" values="0 0 0 0 0.55  0 0 0 0 0.05  0 0 0 0 0.05  1.6 0 0 0 -0.6"/></filter><radialGradient id="semc" cx="0.5" cy="0.5" r="0.5"><stop offset="0" stop-color="#707070"/><stop offset="0.8" stop-color="#8a8a8a"/><stop offset="0.93" stop-color="#c8c8c8"/><stop offset="1" stop-color="#e0e0e0"/></radialGradient><radialGradient id="vig" cx="0.5" cy="0.55" r="0.72"><stop offset="0.55" stop-color="#000" stop-opacity="0"/><stop offset="1" stop-color="#000" stop-opacity="0.75"/></radialGradient><clipPath id="semin"><rect x="194.2" y="510.8" width="54.4" height="50"/></clipPath><pattern id="specCK" width="24" height="24" patternUnits="userSpaceOnUse"><rect width="24" height="24" fill="#a00c14"/><circle cx="0.6" cy="1.5" r="0.61" fill="#d01a28"/><circle cx="1.1" cy="2.2" r="0.66" fill="#d01a28"/><circle cx="1.5" cy="4.2" r="0.82" fill="#d01a28"/><circle cx="0.9" cy="6.2" r="0.76" fill="#d01a28"/><circle cx="0.5" cy="8.5" r="0.60" fill="#d01a28"/><circle cx="0.6" cy="9.3" r="0.67" fill="#d01a28"/><circle cx="0.8" cy="12.2" r="0.71" fill="#d01a28"/><circle cx="0.4" cy="13.2" r="0.96" fill="#d01a28"/><circle cx="0.4" cy="15.4" r="0.71" fill="#d01a28"/><circle cx="1.1" cy="16.9" r="0.84" fill="#d01a28"/><circle cx="0.9" cy="19.1" r="0.92" fill="#d01a28"/><circle cx="1.0" cy="20.3" r="0.59" fill="#d01a28"/><circle cx="1.4" cy="22.5" r="0.64" fill="#d01a28"/><circle cx="3.2" cy="1.0" r="0.85" fill="#d01a28"/><circle cx="3.2" cy="2.4" r="0.70" fill="#d01a28"/><circle cx="3.2" cy="4.1" r="0.87" fill="#d01a28"/><circle cx="2.2" cy="6.5" r="0.84" fill="#d01a28"/><circle cx="3.2" cy="8.5" r="0.76" fill="#d01a28"/><circle cx="2.3" cy="9.5" r="0.77" fill="#d01a28"/><circle cx="2.7" cy="11.2" r="0.92" fill="#d01a28"/><circle cx="2.7" cy="13.7" r="0.65" fill="#d01a28"/><circle cx="2.4" cy="14.7" r="0.70" fill="#d01a28"/><circle cx="2.4" cy="17.0" r="0.71" fill="#d01a28"/><circle cx="3.1" cy="19.4" r="0.63" fill="#d01a28"/><circle cx="2.6" cy="20.3" r="0.83" fill="#d01a28"/><circle cx="3.3" cy="22.1" r="0.87" fill="#d01a28"/><circle cx="4.3" cy="0.3" r="0.87" fill="#d01a28"/><circle cx="4.3" cy="2.3" r="0.73" fill="#d01a28"/><circle cx="4.2" cy="4.4" r="0.74" fill="#d01a28"/><circle cx="4.4" cy="6.4" r="0.68" fill="#d01a28"/><circle cx="4.0" cy="7.6" r="0.60" fill="#d01a28"/><circle cx="4.5" cy="9.7" r="0.88" fill="#d01a28"/><circle cx="4.5" cy="11.9" r="0.95" fill="#d01a28"/><circle cx="4.0" cy="12.9" r="0.62" fill="#d01a28"/><circle cx="4.4" cy="15.4" r="0.86" fill="#d01a28"/><circle cx="4.3" cy="17.7" r="0.56" fill="#d01a28"/><circle cx="4.9" cy="18.6" r="0.91" fill="#d01a28"/><circle cx="3.9" cy="21.3" r="0.86" fill="#d01a28"/><circle cx="5.1" cy="22.6" r="0.63" fill="#d01a28"/><circle cx="6.9" cy="0.8" r="0.59" fill="#d01a28"/><circle cx="6.4" cy="2.7" r="0.75" fill="#d01a28"/><circle cx="5.9" cy="4.0" r="0.79" fill="#d01a28"/><circle cx="6.2" cy="5.9" r="0.74" fill="#d01a28"/><circle cx="6.6" cy="8.4" r="0.75" fill="#d01a28"/><circle cx="6.2" cy="9.7" r="0.65" fill="#d01a28"/><circle cx="5.9" cy="11.6" r="0.60" fill="#d01a28"/><circle cx="6.6" cy="13.7" r="0.80" fill="#d01a28"/><circle cx="5.7" cy="15.1" r="0.73" fill="#d01a28"/><circle cx="5.8" cy="17.7" r="0.86" fill="#d01a28"/><circle cx="6.3" cy="19.1" r="0.64" fill="#d01a28"/><circle cx="6.0" cy="20.7" r="0.86" fill="#d01a28"/><circle cx="6.5" cy="21.9" r="0.81" fill="#d01a28"/><circle cx="8.6" cy="1.2" r="0.93" fill="#d01a28"/><circle cx="8.7" cy="2.4" r="0.68" fill="#d01a28"/><circle cx="8.2" cy="5.1" r="0.71" fill="#d01a28"/><circle cx="8.6" cy="6.7" r="0.77" fill="#d01a28"/><circle cx="8.3" cy="8.6" r="0.87" fill="#d01a28"/><circle cx="7.9" cy="10.3" r="0.64" fill="#d01a28"/><circle cx="7.9" cy="12.3" r="0.90" fill="#d01a28"/><circle cx="7.9" cy="13.2" r="0.81" fill="#d01a28"/><circle cx="8.5" cy="15.5" r="0.93" fill="#d01a28"/><circle cx="8.4" cy="17.5" r="0.80" fill="#d01a28"/><circle cx="7.9" cy="18.8" r="0.76" fill="#d01a28"/><circle cx="8.1" cy="21.1" r="0.67" fill="#d01a28"/><circle cx="7.6" cy="22.8" r="0.67" fill="#d01a28"/><circle cx="9.8" cy="0.4" r="0.89" fill="#d01a28"/><circle cx="9.6" cy="2.4" r="0.88" fill="#d01a28"/><circle cx="9.9" cy="4.2" r="0.92" fill="#d01a28"/><circle cx="9.8" cy="6.1" r="0.95" fill="#d01a28"/><circle cx="10.2" cy="8.4" r="0.66" fill="#d01a28"/><circle cx="10.3" cy="10.0" r="0.89" fill="#d01a28"/><circle cx="9.7" cy="12.0" r="0.88" fill="#d01a28"/><circle cx="9.8" cy="13.7" r="0.87" fill="#d01a28"/><circle cx="10.5" cy="15.8" r="0.87" fill="#d01a28"/><circle cx="9.5" cy="17.2" r="0.83" fill="#d01a28"/><circle cx="9.4" cy="18.9" r="0.91" fill="#d01a28"/><circle cx="10.4" cy="21.2" r="0.60" fill="#d01a28"/><circle cx="10.0" cy="22.9" r="0.82" fill="#d01a28"/><circle cx="11.5" cy="0.3" r="0.93" fill="#d01a28"/><circle cx="12.1" cy="2.9" r="0.71" fill="#d01a28"/><circle cx="12.1" cy="4.9" r="0.85" fill="#d01a28"/><circle cx="11.8" cy="6.1" r="0.68" fill="#d01a28"/><circle cx="11.5" cy="7.9" r="0.77" fill="#d01a28"/><circle cx="11.2" cy="10.2" r="0.70" fill="#d01a28"/><circle cx="11.3" cy="11.4" r="0.72" fill="#d01a28"/><circle cx="11.6" cy="13.8" r="0.60" fill="#d01a28"/><circle cx="11.4" cy="15.1" r="0.63" fill="#d01a28"/><circle cx="12.0" cy="16.6" r="0.58" fill="#d01a28"/><circle cx="11.8" cy="19.2" r="0.89" fill="#d01a28"/><circle cx="11.8" cy="20.5" r="0.91" fill="#d01a28"/><circle cx="12.0" cy="22.5" r="0.79" fill="#d01a28"/><circle cx="14.0" cy="1.5" r="0.93" fill="#d01a28"/><circle cx="13.1" cy="2.5" r="0.72" fill="#d01a28"/><circle cx="13.1" cy="4.8" r="0.58" fill="#d01a28"/><circle cx="14.0" cy="6.4" r="0.81" fill="#d01a28"/><circle cx="13.4" cy="8.6" r="0.79" fill="#d01a28"/><circle cx="14.0" cy="10.4" r="0.84" fill="#d01a28"/><circle cx="14.1" cy="11.7" r="0.71" fill="#d01a28"/><circle cx="13.9" cy="13.5" r="0.68" fill="#d01a28"/><circle cx="13.7" cy="15.3" r="0.61" fill="#d01a28"/><circle cx="13.9" cy="17.1" r="0.95" fill="#d01a28"/><circle cx="13.5" cy="19.4" r="0.68" fill="#d01a28"/><circle cx="13.2" cy="20.7" r="0.87" fill="#d01a28"/><circle cx="13.9" cy="22.7" r="0.61" fill="#d01a28"/><circle cx="15.2" cy="0.3" r="0.71" fill="#d01a28"/><circle cx="15.8" cy="2.5" r="0.84" fill="#d01a28"/><circle cx="15.4" cy="4.1" r="0.84" fill="#d01a28"/><circle cx="14.8" cy="5.9" r="0.79" fill="#d01a28"/><circle cx="14.9" cy="8.7" r="0.73" fill="#d01a28"/><circle cx="15.5" cy="10.5" r="0.60" fill="#d01a28"/><circle cx="15.9" cy="11.1" r="0.80" fill="#d01a28"/><circle cx="15.5" cy="14.1" r="0.70" fill="#d01a28"/><circle cx="15.8" cy="15.5" r="0.75" fill="#d01a28"/><circle cx="14.9" cy="16.8" r="0.71" fill="#d01a28"/><circle cx="15.1" cy="18.7" r="0.88" fill="#d01a28"/><circle cx="15.1" cy="20.9" r="0.58" fill="#d01a28"/><circle cx="14.9" cy="22.8" r="0.92" fill="#d01a28"/><circle cx="16.9" cy="0.3" r="0.65" fill="#d01a28"/><circle cx="16.9" cy="2.5" r="0.78" fill="#d01a28"/><circle cx="16.9" cy="4.7" r="0.87" fill="#d01a28"/><circle cx="17.4" cy="6.6" r="0.79" fill="#d01a28"/><circle cx="16.8" cy="8.5" r="0.68" fill="#d01a28"/><circle cx="17.5" cy="9.8" r="0.81" fill="#d01a28"/><circle cx="17.1" cy="11.9" r="0.70" fill="#d01a28"/><circle cx="17.2" cy="13.8" r="0.70" fill="#d01a28"/><circle cx="17.2" cy="15.2" r="0.75" fill="#d01a28"/><circle cx="17.0" cy="17.2" r="0.84" fill="#d01a28"/><circle cx="16.7" cy="18.5" r="0.89" fill="#d01a28"/><circle cx="16.6" cy="21.1" r="0.86" fill="#d01a28"/><circle cx="16.8" cy="22.7" r="0.66" fill="#d01a28"/><circle cx="19.4" cy="0.5" r="0.61" fill="#d01a28"/><circle cx="18.3" cy="3.0" r="0.64" fill="#d01a28"/><circle cx="18.7" cy="5.1" r="0.85" fill="#d01a28"/><circle cx="19.2" cy="6.4" r="0.82" fill="#d01a28"/><circle cx="18.3" cy="8.5" r="0.69" fill="#d01a28"/><circle cx="19.3" cy="9.8" r="0.92" fill="#d01a28"/><circle cx="18.3" cy="12.3" r="0.60" fill="#d01a28"/><circle cx="18.9" cy="13.5" r="0.95" fill="#d01a28"/><circle cx="19.2" cy="15.9" r="0.92" fill="#d01a28"/><circle cx="18.8" cy="16.7" r="0.62" fill="#d01a28"/><circle cx="19.2" cy="19.4" r="0.83" fill="#d01a28"/><circle cx="18.7" cy="20.8" r="0.82" fill="#d01a28"/><circle cx="18.6" cy="22.7" r="0.64" fill="#d01a28"/><circle cx="20.1" cy="0.4" r="0.76" fill="#d01a28"/><circle cx="20.9" cy="2.4" r="0.72" fill="#d01a28"/><circle cx="20.9" cy="4.2" r="0.77" fill="#d01a28"/><circle cx="20.8" cy="6.2" r="0.64" fill="#d01a28"/><circle cx="20.9" cy="8.3" r="0.64" fill="#d01a28"/><circle cx="21.1" cy="10.1" r="0.91" fill="#d01a28"/><circle cx="21.0" cy="11.7" r="0.85" fill="#d01a28"/><circle cx="20.5" cy="13.7" r="0.59" fill="#d01a28"/><circle cx="20.5" cy="15.3" r="0.91" fill="#d01a28"/><circle cx="20.9" cy="17.6" r="0.91" fill="#d01a28"/><circle cx="21.3" cy="19.0" r="0.81" fill="#d01a28"/><circle cx="20.7" cy="20.4" r="0.88" fill="#d01a28"/><circle cx="20.8" cy="22.1" r="0.66" fill="#d01a28"/><circle cx="22.2" cy="1.2" r="0.80" fill="#d01a28"/><circle cx="22.1" cy="2.9" r="0.79" fill="#d01a28"/><circle cx="22.2" cy="4.4" r="0.96" fill="#d01a28"/><circle cx="22.1" cy="6.0" r="0.80" fill="#d01a28"/><circle cx="22.9" cy="8.6" r="0.72" fill="#d01a28"/><circle cx="22.8" cy="9.4" r="0.71" fill="#d01a28"/><circle cx="22.9" cy="11.9" r="0.74" fill="#d01a28"/><circle cx="22.6" cy="13.5" r="0.78" fill="#d01a28"/><circle cx="23.0" cy="15.9" r="0.64" fill="#d01a28"/><circle cx="22.8" cy="17.6" r="0.80" fill="#d01a28"/><circle cx="22.5" cy="18.7" r="0.75" fill="#d01a28"/><circle cx="22.6" cy="20.8" r="0.61" fill="#d01a28"/><circle cx="23.1" cy="22.2" r="0.78" fill="#d01a28"/></pattern><pattern id="specSK" width="24" height="24" patternUnits="userSpaceOnUse"><rect width="24" height="24" fill="#082070"/><circle cx="0.8" cy="0.6" r="0.58" fill="#1848c0"/><circle cx="1.2" cy="1.8" r="0.71" fill="#1848c0"/><circle cx="1.3" cy="3.5" r="0.73" fill="#1848c0"/><circle cx="0.9" cy="5.0" r="0.67" fill="#1848c0"/><circle cx="1.0" cy="7.1" r="0.80" fill="#1848c0"/><circle cx="0.4" cy="8.5" r="0.57" fill="#1848c0"/><circle cx="0.8" cy="10.9" r="0.75" fill="#1848c0"/><circle cx="1.1" cy="11.9" r="0.80" fill="#1848c0"/><circle cx="0.3" cy="13.3" r="0.78" fill="#1848c0"/><circle cx="1.1" cy="15.1" r="0.56" fill="#1848c0"/><circle cx="0.5" cy="16.5" r="0.63" fill="#1848c0"/><circle cx="1.2" cy="18.0" r="0.86" fill="#1848c0"/><circle cx="1.3" cy="19.5" r="0.67" fill="#1848c0"/><circle cx="0.8" cy="21.0" r="0.68" fill="#1848c0"/><circle cx="1.3" cy="22.7" r="0.75" fill="#1848c0"/><circle cx="1.9" cy="0.9" r="0.86" fill="#1848c0"/><circle cx="2.0" cy="1.8" r="0.56" fill="#1848c0"/><circle cx="2.4" cy="3.4" r="0.56" fill="#1848c0"/><circle cx="2.4" cy="6.1" r="0.68" fill="#1848c0"/><circle cx="2.3" cy="7.4" r="0.56" fill="#1848c0"/><circle cx="2.5" cy="8.4" r="0.75" fill="#1848c0"/><circle cx="2.9" cy="9.9" r="0.73" fill="#1848c0"/><circle cx="2.5" cy="11.6" r="0.63" fill="#1848c0"/><circle cx="3.0" cy="14.2" r="0.57" fill="#1848c0"/><circle cx="2.6" cy="15.7" r="0.61" fill="#1848c0"/><circle cx="2.5" cy="16.3" r="0.66" fill="#1848c0"/><circle cx="2.6" cy="18.5" r="0.82" fill="#1848c0"/><circle cx="1.9" cy="19.8" r="0.85" fill="#1848c0"/><circle cx="2.5" cy="21.5" r="0.68" fill="#1848c0"/><circle cx="3.0" cy="23.3" r="0.53" fill="#1848c0"/><circle cx="4.4" cy="0.6" r="0.69" fill="#1848c0"/><circle cx="3.7" cy="2.3" r="0.65" fill="#1848c0"/><circle cx="3.5" cy="4.2" r="0.56" fill="#1848c0"/><circle cx="4.3" cy="5.0" r="0.82" fill="#1848c0"/><circle cx="4.4" cy="7.2" r="0.79" fill="#1848c0"/><circle cx="3.7" cy="9.1" r="0.68" fill="#1848c0"/><circle cx="3.7" cy="11.0" r="0.68" fill="#1848c0"/><circle cx="3.8" cy="12.4" r="0.66" fill="#1848c0"/><circle cx="4.2" cy="13.2" r="0.84" fill="#1848c0"/><circle cx="3.7" cy="14.7" r="0.89" fill="#1848c0"/><circle cx="3.6" cy="17.3" r="0.89" fill="#1848c0"/><circle cx="4.1" cy="17.8" r="0.55" fill="#1848c0"/><circle cx="3.7" cy="19.9" r="0.75" fill="#1848c0"/><circle cx="4.6" cy="21.4" r="0.58" fill="#1848c0"/><circle cx="4.1" cy="22.8" r="0.56" fill="#1848c0"/><circle cx="5.7" cy="1.0" r="0.55" fill="#1848c0"/><circle cx="5.5" cy="2.6" r="0.81" fill="#1848c0"/><circle cx="5.5" cy="4.5" r="0.59" fill="#1848c0"/><circle cx="5.9" cy="5.9" r="0.86" fill="#1848c0"/><circle cx="5.6" cy="6.7" r="0.54" fill="#1848c0"/><circle cx="5.6" cy="8.4" r="0.76" fill="#1848c0"/><circle cx="5.1" cy="10.7" r="0.61" fill="#1848c0"/><circle cx="5.0" cy="11.6" r="0.70" fill="#1848c0"/><circle cx="5.7" cy="13.5" r="0.59" fill="#1848c0"/><circle cx="5.6" cy="15.7" r="0.73" fill="#1848c0"/><circle cx="6.1" cy="16.2" r="0.90" fill="#1848c0"/><circle cx="6.1" cy="18.5" r="0.72" fill="#1848c0"/><circle cx="5.6" cy="20.5" r="0.55" fill="#1848c0"/><circle cx="5.8" cy="21.7" r="0.64" fill="#1848c0"/><circle cx="5.9" cy="23.5" r="0.56" fill="#1848c0"/><circle cx="7.4" cy="0.7" r="0.71" fill="#1848c0"/><circle cx="7.4" cy="1.9" r="0.75" fill="#1848c0"/><circle cx="7.0" cy="4.5" r="0.61" fill="#1848c0"/><circle cx="7.6" cy="5.9" r="0.76" fill="#1848c0"/><circle cx="7.7" cy="6.6" r="0.75" fill="#1848c0"/><circle cx="7.3" cy="9.0" r="0.68" fill="#1848c0"/><circle cx="6.7" cy="10.0" r="0.75" fill="#1848c0"/><circle cx="6.8" cy="11.5" r="0.66" fill="#1848c0"/><circle cx="7.2" cy="13.6" r="0.53" fill="#1848c0"/><circle cx="7.5" cy="15.0" r="0.82" fill="#1848c0"/><circle cx="6.6" cy="17.3" r="0.75" fill="#1848c0"/><circle cx="7.8" cy="19.0" r="0.84" fill="#1848c0"/><circle cx="6.7" cy="19.8" r="0.61" fill="#1848c0"/><circle cx="7.5" cy="21.2" r="0.61" fill="#1848c0"/><circle cx="6.7" cy="22.7" r="0.88" fill="#1848c0"/><circle cx="9.4" cy="0.6" r="0.80" fill="#1848c0"/><circle cx="8.8" cy="2.4" r="0.66" fill="#1848c0"/><circle cx="9.0" cy="3.7" r="0.62" fill="#1848c0"/><circle cx="8.8" cy="5.2" r="0.69" fill="#1848c0"/><circle cx="9.3" cy="6.6" r="0.56" fill="#1848c0"/><circle cx="9.2" cy="8.3" r="0.62" fill="#1848c0"/><circle cx="9.2" cy="10.5" r="0.61" fill="#1848c0"/><circle cx="8.3" cy="11.7" r="0.64" fill="#1848c0"/><circle cx="9.2" cy="14.2" r="0.82" fill="#1848c0"/><circle cx="9.3" cy="15.7" r="0.85" fill="#1848c0"/><circle cx="9.3" cy="17.4" r="0.56" fill="#1848c0"/><circle cx="8.6" cy="18.1" r="0.75" fill="#1848c0"/><circle cx="8.8" cy="19.8" r="0.84" fill="#1848c0"/><circle cx="8.7" cy="21.3" r="0.63" fill="#1848c0"/><circle cx="8.8" cy="23.3" r="0.74" fill="#1848c0"/><circle cx="10.3" cy="0.4" r="0.68" fill="#1848c0"/><circle cx="10.2" cy="2.0" r="0.73" fill="#1848c0"/><circle cx="10.0" cy="4.3" r="0.77" fill="#1848c0"/><circle cx="10.0" cy="5.8" r="0.65" fill="#1848c0"/><circle cx="10.3" cy="7.3" r="0.81" fill="#1848c0"/><circle cx="10.9" cy="9.1" r="0.60" fill="#1848c0"/><circle cx="10.5" cy="10.2" r="0.53" fill="#1848c0"/><circle cx="10.5" cy="12.0" r="0.85" fill="#1848c0"/><circle cx="10.2" cy="14.0" r="0.72" fill="#1848c0"/><circle cx="9.9" cy="15.5" r="0.63" fill="#1848c0"/><circle cx="10.4" cy="16.3" r="0.53" fill="#1848c0"/><circle cx="10.9" cy="17.9" r="0.58" fill="#1848c0"/><circle cx="10.0" cy="19.5" r="0.83" fill="#1848c0"/><circle cx="11.0" cy="21.8" r="0.67" fill="#1848c0"/><circle cx="10.9" cy="23.2" r="0.58" fill="#1848c0"/><circle cx="12.2" cy="0.6" r="0.63" fill="#1848c0"/><circle cx="11.8" cy="2.3" r="0.59" fill="#1848c0"/><circle cx="12.1" cy="4.4" r="0.74" fill="#1848c0"/><circle cx="11.4" cy="5.8" r="0.53" fill="#1848c0"/><circle cx="12.0" cy="7.6" r="0.78" fill="#1848c0"/><circle cx="12.5" cy="9.1" r="0.63" fill="#1848c0"/><circle cx="11.6" cy="10.3" r="0.78" fill="#1848c0"/><circle cx="11.7" cy="11.8" r="0.81" fill="#1848c0"/><circle cx="11.8" cy="13.7" r="0.73" fill="#1848c0"/><circle cx="12.5" cy="14.6" r="0.59" fill="#1848c0"/><circle cx="12.3" cy="17.0" r="0.56" fill="#1848c0"/><circle cx="11.6" cy="18.1" r="0.73" fill="#1848c0"/><circle cx="12.5" cy="19.7" r="0.60" fill="#1848c0"/><circle cx="12.2" cy="21.5" r="0.84" fill="#1848c0"/><circle cx="12.6" cy="23.7" r="0.79" fill="#1848c0"/><circle cx="13.6" cy="0.3" r="0.83" fill="#1848c0"/><circle cx="13.5" cy="2.4" r="0.76" fill="#1848c0"/><circle cx="14.2" cy="4.1" r="0.87" fill="#1848c0"/><circle cx="14.2" cy="5.1" r="0.66" fill="#1848c0"/><circle cx="14.1" cy="7.5" r="0.89" fill="#1848c0"/><circle cx="13.2" cy="8.8" r="0.87" fill="#1848c0"/><circle cx="13.6" cy="10.6" r="0.89" fill="#1848c0"/><circle cx="13.2" cy="11.5" r="0.85" fill="#1848c0"/><circle cx="13.7" cy="13.2" r="0.84" fill="#1848c0"/><circle cx="13.3" cy="14.8" r="0.64" fill="#1848c0"/><circle cx="13.0" cy="16.7" r="0.82" fill="#1848c0"/><circle cx="13.5" cy="19.0" r="0.54" fill="#1848c0"/><circle cx="13.2" cy="19.6" r="0.74" fill="#1848c0"/><circle cx="13.2" cy="21.8" r="0.72" fill="#1848c0"/><circle cx="13.7" cy="23.6" r="0.82" fill="#1848c0"/><circle cx="15.7" cy="0.4" r="0.67" fill="#1848c0"/><circle cx="15.8" cy="2.3" r="0.63" fill="#1848c0"/><circle cx="15.2" cy="3.6" r="0.84" fill="#1848c0"/><circle cx="15.4" cy="5.1" r="0.89" fill="#1848c0"/><circle cx="15.2" cy="6.9" r="0.75" fill="#1848c0"/><circle cx="15.7" cy="8.6" r="0.53" fill="#1848c0"/><circle cx="14.8" cy="9.9" r="0.72" fill="#1848c0"/><circle cx="15.0" cy="12.4" r="0.60" fill="#1848c0"/><circle cx="14.6" cy="13.6" r="0.57" fill="#1848c0"/><circle cx="15.0" cy="14.9" r="0.59" fill="#1848c0"/><circle cx="15.4" cy="17.3" r="0.66" fill="#1848c0"/><circle cx="15.4" cy="18.2" r="0.87" fill="#1848c0"/><circle cx="15.3" cy="19.4" r="0.80" fill="#1848c0"/><circle cx="14.9" cy="21.1" r="0.53" fill="#1848c0"/><circle cx="15.6" cy="23.5" r="0.66" fill="#1848c0"/><circle cx="16.9" cy="1.0" r="0.55" fill="#1848c0"/><circle cx="17.0" cy="2.7" r="0.88" fill="#1848c0"/><circle cx="16.3" cy="4.1" r="0.72" fill="#1848c0"/><circle cx="17.2" cy="5.4" r="0.77" fill="#1848c0"/><circle cx="17.3" cy="7.0" r="0.72" fill="#1848c0"/><circle cx="17.3" cy="8.2" r="0.89" fill="#1848c0"/><circle cx="16.6" cy="10.3" r="0.63" fill="#1848c0"/><circle cx="17.2" cy="12.0" r="0.81" fill="#1848c0"/><circle cx="16.3" cy="14.1" r="0.83" fill="#1848c0"/><circle cx="17.0" cy="14.9" r="0.62" fill="#1848c0"/><circle cx="16.7" cy="16.3" r="0.88" fill="#1848c0"/><circle cx="16.7" cy="18.9" r="0.59" fill="#1848c0"/><circle cx="17.0" cy="20.4" r="0.77" fill="#1848c0"/><circle cx="16.7" cy="21.0" r="0.69" fill="#1848c0"/><circle cx="16.7" cy="23.7" r="0.89" fill="#1848c0"/><circle cx="18.9" cy="1.4" r="0.59" fill="#1848c0"/><circle cx="17.8" cy="2.2" r="0.53" fill="#1848c0"/><circle cx="17.9" cy="4.1" r="0.60" fill="#1848c0"/><circle cx="18.5" cy="5.5" r="0.63" fill="#1848c0"/><circle cx="19.0" cy="6.8" r="0.86" fill="#1848c0"/><circle cx="18.4" cy="9.0" r="0.58" fill="#1848c0"/><circle cx="18.7" cy="10.9" r="0.60" fill="#1848c0"/><circle cx="18.4" cy="12.2" r="0.70" fill="#1848c0"/><circle cx="18.7" cy="13.8" r="0.64" fill="#1848c0"/><circle cx="18.6" cy="15.5" r="0.70" fill="#1848c0"/><circle cx="18.5" cy="17.0" r="0.70" fill="#1848c0"/><circle cx="17.9" cy="18.3" r="0.82" fill="#1848c0"/><circle cx="18.7" cy="19.5" r="0.70" fill="#1848c0"/><circle cx="18.5" cy="21.6" r="0.58" fill="#1848c0"/><circle cx="18.6" cy="23.4" r="0.73" fill="#1848c0"/><circle cx="20.5" cy="0.9" r="0.53" fill="#1848c0"/><circle cx="19.7" cy="2.6" r="0.55" fill="#1848c0"/><circle cx="20.6" cy="4.2" r="0.81" fill="#1848c0"/><circle cx="19.6" cy="5.0" r="0.85" fill="#1848c0"/><circle cx="20.0" cy="7.1" r="0.72" fill="#1848c0"/><circle cx="20.3" cy="8.6" r="0.81" fill="#1848c0"/><circle cx="19.6" cy="11.0" r="0.79" fill="#1848c0"/><circle cx="19.8" cy="12.0" r="0.86" fill="#1848c0"/><circle cx="19.8" cy="13.8" r="0.87" fill="#1848c0"/><circle cx="20.6" cy="14.9" r="0.82" fill="#1848c0"/><circle cx="20.1" cy="17.2" r="0.55" fill="#1848c0"/><circle cx="19.9" cy="18.3" r="0.83" fill="#1848c0"/><circle cx="19.9" cy="19.5" r="0.60" fill="#1848c0"/><circle cx="20.4" cy="22.1" r="0.74" fill="#1848c0"/><circle cx="19.5" cy="23.5" r="0.85" fill="#1848c0"/><circle cx="21.3" cy="0.8" r="0.63" fill="#1848c0"/><circle cx="21.1" cy="2.7" r="0.58" fill="#1848c0"/><circle cx="21.1" cy="4.5" r="0.56" fill="#1848c0"/><circle cx="21.9" cy="6.0" r="0.62" fill="#1848c0"/><circle cx="21.4" cy="6.9" r="0.79" fill="#1848c0"/><circle cx="22.2" cy="9.1" r="0.71" fill="#1848c0"/><circle cx="21.6" cy="10.3" r="0.79" fill="#1848c0"/><circle cx="21.3" cy="11.7" r="0.79" fill="#1848c0"/><circle cx="21.3" cy="14.2" r="0.80" fill="#1848c0"/><circle cx="21.2" cy="14.6" r="0.75" fill="#1848c0"/><circle cx="21.2" cy="16.8" r="0.75" fill="#1848c0"/><circle cx="22.0" cy="18.3" r="0.73" fill="#1848c0"/><circle cx="22.0" cy="19.6" r="0.65" fill="#1848c0"/><circle cx="22.0" cy="21.4" r="0.87" fill="#1848c0"/><circle cx="21.1" cy="22.7" r="0.66" fill="#1848c0"/><circle cx="23.2" cy="0.6" r="0.61" fill="#1848c0"/><circle cx="23.1" cy="2.9" r="0.88" fill="#1848c0"/><circle cx="23.4" cy="3.7" r="0.74" fill="#1848c0"/><circle cx="22.8" cy="5.1" r="0.82" fill="#1848c0"/><circle cx="22.9" cy="6.8" r="0.83" fill="#1848c0"/><circle cx="22.7" cy="8.5" r="0.58" fill="#1848c0"/><circle cx="23.7" cy="10.6" r="0.59" fill="#1848c0"/><circle cx="22.7" cy="12.5" r="0.57" fill="#1848c0"/><circle cx="23.5" cy="13.8" r="0.75" fill="#1848c0"/><circle cx="23.2" cy="15.1" r="0.63" fill="#1848c0"/><circle cx="23.4" cy="16.4" r="0.70" fill="#1848c0"/><circle cx="22.9" cy="18.2" r="0.86" fill="#1848c0"/><circle cx="23.3" cy="20.2" r="0.77" fill="#1848c0"/><circle cx="22.6" cy="21.9" r="0.85" fill="#1848c0"/><circle cx="23.5" cy="23.2" r="0.84" fill="#1848c0"/></pattern><linearGradient id="cyl" x1="0" y1="0" x2="0" y2="1"><stop offset="0" stop-color="#4c4c4c"/><stop offset="1" stop-color="#7c7c7c"/></linearGradient><linearGradient id="wav" x1="0" y1="0" x2="0" y2="1"><stop offset="0" stop-color="#4a4a4a"/><stop offset="1" stop-color="#858585"/></linearGradient><radialGradient id="ball" cx="0.4" cy="0.4" r="0.65"><stop offset="0" stop-color="#f6f660"/><stop offset="0.55" stop-color="#e6e412"/><stop offset="1" stop-color="#cec600"/></radialGradient></defs>
<rect width="1021" height="613" fill="#fff"/>
<text x="3.8" y="27.7" font-size="30.5" font-weight="bold" font-family="Liberation Serif, serif" fill="#111">(a)</text>
<text x="75.4" y="16.4" font-size="7.6" font-weight="bold" fill="#333" textLength="17.6" lengthAdjust="spacingAndGlyphs" font-family="Liberation Sans, sans-serif" >MPC</text>
<polygon points="122.5,59.8 103.9,92.0 66.7,92.0 48.1,59.8 66.7,27.6 103.9,27.6" fill="#000"/>
<circle cx="73.5" cy="39.8" r="8.2" fill="#fff"/>
<circle cx="96.5" cy="39.8" r="8.2" fill="#fff"/>
<circle cx="61.5" cy="59.8" r="8.2" fill="#fff"/>
<circle cx="85" cy="59.8" r="8.2" fill="#fff"/>
<circle cx="108.5" cy="59.8" r="8.2" fill="#fff"/>
<circle cx="73.5" cy="79.8" r="8.2" fill="#fff"/>
<circle cx="96.5" cy="79.8" r="8.2" fill="#fff"/>
<text x="126.1" y="40.4" font-size="7.6" font-weight="bold" fill="#333" textLength="55.1" lengthAdjust="spacingAndGlyphs" font-family="Liberation Sans, sans-serif" >KOH activation</text>
<line x1="132" y1="57" x2="158.0" y2="57.0" stroke="#111" stroke-width="1.5"/>
<polygon points="163,57 158.0,60.2 158.0,53.8" fill="#111"/>
<text x="186.1" y="16.4" font-size="7.6" font-weight="bold" fill="#333" textLength="55.1" lengthAdjust="spacingAndGlyphs" font-family="Liberation Sans, sans-serif" >Activated MPC</text>
<g fill="#000"><circle cx="192.9" cy="29.9" r="1.70"/><circle cx="195.8" cy="29.7" r="1.48"/><circle cx="199.5" cy="29.8" r="1.59"/><circle cx="202.4" cy="29.5" r="1.59"/><circle cx="205.3" cy="29.9" r="1.52"/><circle cx="208.9" cy="30.1" r="1.36"/><circle cx="211.8" cy="30.0" r="1.41"/><circle cx="214.7" cy="29.7" r="1.69"/><circle cx="218.4" cy="29.8" r="1.51"/><circle cx="221.5" cy="29.9" r="1.42"/><circle cx="224.5" cy="29.8" r="1.67"/><circle cx="227.4" cy="29.7" r="1.39"/><circle cx="191.5" cy="32.7" r="1.58"/><circle cx="194.4" cy="32.7" r="1.39"/><circle cx="200.9" cy="32.5" r="1.69"/><circle cx="203.7" cy="32.8" r="1.46"/><circle cx="207.1" cy="32.6" r="1.70"/><circle cx="210.2" cy="32.5" r="1.51"/><circle cx="213.4" cy="32.3" r="1.49"/><circle cx="216.4" cy="32.7" r="1.48"/><circle cx="223.1" cy="32.6" r="1.61"/><circle cx="225.8" cy="32.3" r="1.47"/><circle cx="229.2" cy="32.3" r="1.40"/><circle cx="189.7" cy="35.3" r="1.38"/><circle cx="205.3" cy="35.5" r="1.46"/><circle cx="209.0" cy="35.3" r="1.39"/><circle cx="212.0" cy="35.1" r="1.42"/><circle cx="214.8" cy="35.5" r="1.60"/><circle cx="227.4" cy="35.0" r="1.62"/><circle cx="230.8" cy="35.3" r="1.44"/><circle cx="188.2" cy="38.2" r="1.69"/><circle cx="207.5" cy="38.2" r="1.49"/><circle cx="210.5" cy="38.2" r="1.58"/><circle cx="232.2" cy="38.2" r="1.63"/><circle cx="186.5" cy="40.7" r="1.64"/><circle cx="190.1" cy="40.8" r="1.36"/><circle cx="208.6" cy="40.4" r="1.45"/><circle cx="211.7" cy="40.5" r="1.45"/><circle cx="230.7" cy="40.6" r="1.61"/><circle cx="233.8" cy="40.9" r="1.66"/><circle cx="184.8" cy="43.7" r="1.36"/><circle cx="188.0" cy="43.3" r="1.52"/><circle cx="210.4" cy="43.5" r="1.68"/><circle cx="232.5" cy="43.5" r="1.65"/><circle cx="235.5" cy="43.7" r="1.59"/><circle cx="183.7" cy="46.0" r="1.36"/><circle cx="186.7" cy="46.4" r="1.65"/><circle cx="189.5" cy="45.9" r="1.70"/><circle cx="208.8" cy="46.1" r="1.45"/><circle cx="211.9" cy="46.1" r="1.65"/><circle cx="230.9" cy="46.4" r="1.35"/><circle cx="233.8" cy="46.2" r="1.59"/><circle cx="237.0" cy="46.2" r="1.66"/><circle cx="182.2" cy="49.2" r="1.37"/><circle cx="184.8" cy="49.1" r="1.65"/><circle cx="187.9" cy="48.9" r="1.47"/><circle cx="191.1" cy="48.7" r="1.42"/><circle cx="194.6" cy="48.7" r="1.43"/><circle cx="203.9" cy="48.8" r="1.36"/><circle cx="207.2" cy="49.1" r="1.43"/><circle cx="210.6" cy="48.6" r="1.63"/><circle cx="213.2" cy="49.1" r="1.40"/><circle cx="216.5" cy="48.8" r="1.56"/><circle cx="226.2" cy="48.6" r="1.68"/><circle cx="229.0" cy="48.7" r="1.44"/><circle cx="232.2" cy="48.6" r="1.44"/><circle cx="235.4" cy="48.9" r="1.66"/><circle cx="238.7" cy="49.1" r="1.49"/><circle cx="180.0" cy="51.4" r="1.41"/><circle cx="183.8" cy="51.8" r="1.40"/><circle cx="186.8" cy="51.4" r="1.38"/><circle cx="192.7" cy="51.9" r="1.46"/><circle cx="196.2" cy="51.9" r="1.67"/><circle cx="199.4" cy="51.3" r="1.42"/><circle cx="202.8" cy="51.8" r="1.42"/><circle cx="205.9" cy="51.6" r="1.65"/><circle cx="212.0" cy="51.5" r="1.39"/><circle cx="214.7" cy="51.5" r="1.56"/><circle cx="218.0" cy="51.4" r="1.65"/><circle cx="221.3" cy="51.5" r="1.37"/><circle cx="224.6" cy="51.3" r="1.38"/><circle cx="227.5" cy="51.9" r="1.40"/><circle cx="234.2" cy="51.6" r="1.67"/><circle cx="237.0" cy="51.9" r="1.55"/><circle cx="240.2" cy="51.5" r="1.50"/><circle cx="179.1" cy="54.0" r="1.46"/><circle cx="181.6" cy="54.0" r="1.48"/><circle cx="197.8" cy="54.3" r="1.50"/><circle cx="200.5" cy="54.5" r="1.65"/><circle cx="203.8" cy="54.2" r="1.46"/><circle cx="220.0" cy="54.1" r="1.47"/><circle cx="222.9" cy="54.4" r="1.56"/><circle cx="238.9" cy="54.7" r="1.44"/><circle cx="241.6" cy="54.5" r="1.36"/><circle cx="177.5" cy="57.0" r="1.59"/><circle cx="198.9" cy="56.9" r="1.66"/><circle cx="221.4" cy="57.0" r="1.51"/><circle cx="240.1" cy="57.2" r="1.61"/><circle cx="243.3" cy="57.3" r="1.50"/><circle cx="175.8" cy="59.6" r="1.56"/><circle cx="179.0" cy="59.8" r="1.63"/><circle cx="197.7" cy="59.6" r="1.54"/><circle cx="201.1" cy="60.0" r="1.52"/><circle cx="219.4" cy="59.6" r="1.48"/><circle cx="222.7" cy="59.5" r="1.52"/><circle cx="241.8" cy="59.7" r="1.64"/><circle cx="245.0" cy="59.9" r="1.60"/><circle cx="177.4" cy="62.4" r="1.68"/><circle cx="199.2" cy="62.8" r="1.69"/><circle cx="221.1" cy="62.6" r="1.61"/><circle cx="240.6" cy="62.3" r="1.69"/><circle cx="243.4" cy="62.3" r="1.40"/><circle cx="179.1" cy="65.1" r="1.37"/><circle cx="197.9" cy="65.5" r="1.62"/><circle cx="200.8" cy="65.0" r="1.60"/><circle cx="219.5" cy="65.0" r="1.43"/><circle cx="223.0" cy="65.2" r="1.57"/><circle cx="242.1" cy="65.5" r="1.55"/><circle cx="180.6" cy="68.3" r="1.50"/><circle cx="183.6" cy="67.7" r="1.54"/><circle cx="193.3" cy="68.0" r="1.52"/><circle cx="196.1" cy="67.7" r="1.56"/><circle cx="199.2" cy="67.7" r="1.39"/><circle cx="202.2" cy="68.1" r="1.38"/><circle cx="205.9" cy="67.8" r="1.46"/><circle cx="215.1" cy="67.8" r="1.57"/><circle cx="218.0" cy="68.3" r="1.46"/><circle cx="221.3" cy="68.0" r="1.44"/><circle cx="224.6" cy="68.0" r="1.55"/><circle cx="227.6" cy="68.1" r="1.62"/><circle cx="237.2" cy="67.8" r="1.37"/><circle cx="240.6" cy="68.3" r="1.64"/><circle cx="181.8" cy="71.0" r="1.59"/><circle cx="184.8" cy="70.8" r="1.56"/><circle cx="188.4" cy="71.0" r="1.51"/><circle cx="191.4" cy="70.8" r="1.59"/><circle cx="194.2" cy="70.4" r="1.36"/><circle cx="197.6" cy="70.9" r="1.41"/><circle cx="201.1" cy="70.4" r="1.47"/><circle cx="204.0" cy="70.5" r="1.40"/><circle cx="207.0" cy="71.0" r="1.44"/><circle cx="210.0" cy="70.8" r="1.45"/><circle cx="213.4" cy="70.9" r="1.41"/><circle cx="216.3" cy="70.8" r="1.64"/><circle cx="220.0" cy="70.6" r="1.47"/><circle cx="225.9" cy="71.0" r="1.48"/><circle cx="229.1" cy="70.5" r="1.44"/><circle cx="232.7" cy="70.7" r="1.39"/><circle cx="235.8" cy="70.9" r="1.35"/><circle cx="238.8" cy="70.9" r="1.70"/><circle cx="183.6" cy="73.7" r="1.50"/><circle cx="186.6" cy="73.6" r="1.57"/><circle cx="189.6" cy="73.2" r="1.45"/><circle cx="193.1" cy="73.2" r="1.44"/><circle cx="205.8" cy="73.7" r="1.67"/><circle cx="208.8" cy="73.7" r="1.62"/><circle cx="212.1" cy="73.3" r="1.63"/><circle cx="215.4" cy="73.1" r="1.55"/><circle cx="227.8" cy="73.4" r="1.38"/><circle cx="231.1" cy="73.1" r="1.56"/><circle cx="233.6" cy="73.1" r="1.37"/><circle cx="236.9" cy="73.5" r="1.57"/><circle cx="185.1" cy="76.5" r="1.65"/><circle cx="188.1" cy="76.5" r="1.42"/><circle cx="210.3" cy="76.3" r="1.54"/><circle cx="213.8" cy="76.1" r="1.54"/><circle cx="232.7" cy="75.8" r="1.38"/><circle cx="235.4" cy="76.0" r="1.65"/><circle cx="186.9" cy="78.9" r="1.54"/><circle cx="189.6" cy="78.9" r="1.49"/><circle cx="209.0" cy="78.6" r="1.59"/><circle cx="211.8" cy="78.8" r="1.45"/><circle cx="233.6" cy="79.1" r="1.66"/><circle cx="188.0" cy="81.8" r="1.56"/><circle cx="210.4" cy="81.5" r="1.56"/><circle cx="213.7" cy="81.4" r="1.41"/><circle cx="232.5" cy="81.4" r="1.61"/><circle cx="190.2" cy="84.2" r="1.49"/><circle cx="209.0" cy="84.4" r="1.60"/><circle cx="211.9" cy="84.2" r="1.47"/><circle cx="231.1" cy="84.5" r="1.45"/><circle cx="191.5" cy="86.8" r="1.66"/><circle cx="194.9" cy="87.0" r="1.38"/><circle cx="204.2" cy="87.0" r="1.44"/><circle cx="206.8" cy="87.4" r="1.69"/><circle cx="210.4" cy="87.4" r="1.55"/><circle cx="213.2" cy="87.2" r="1.64"/><circle cx="216.4" cy="87.4" r="1.43"/><circle cx="229.1" cy="87.1" r="1.60"/><circle cx="192.8" cy="89.9" r="1.36"/><circle cx="196.2" cy="89.7" r="1.62"/><circle cx="199.6" cy="89.9" r="1.50"/><circle cx="202.6" cy="89.7" r="1.66"/><circle cx="205.7" cy="90.0" r="1.37"/><circle cx="208.7" cy="89.9" r="1.58"/><circle cx="212.0" cy="90.1" r="1.70"/><circle cx="215.3" cy="90.0" r="1.56"/><circle cx="218.1" cy="89.7" r="1.36"/><circle cx="221.5" cy="89.8" r="1.56"/><circle cx="224.2" cy="89.9" r="1.60"/><circle cx="228.0" cy="89.6" r="1.59"/></g>
<g fill="#fff"><circle cx="196.0" cy="29.5" r="0.4"/><circle cx="199.7" cy="29.6" r="0.4"/><circle cx="205.5" cy="29.7" r="0.4"/><circle cx="214.9" cy="29.5" r="0.4"/><circle cx="218.6" cy="29.6" r="0.4"/><circle cx="221.7" cy="29.7" r="0.4"/><circle cx="227.6" cy="29.5" r="0.4"/><circle cx="191.7" cy="32.5" r="0.4"/><circle cx="194.6" cy="32.5" r="0.4"/><circle cx="201.1" cy="32.3" r="0.4"/><circle cx="203.9" cy="32.6" r="0.4"/><circle cx="210.4" cy="32.3" r="0.4"/><circle cx="213.6" cy="32.1" r="0.4"/><circle cx="216.6" cy="32.5" r="0.4"/><circle cx="223.3" cy="32.4" r="0.4"/><circle cx="226.0" cy="32.1" r="0.4"/><circle cx="229.4" cy="32.1" r="0.4"/><circle cx="212.2" cy="34.9" r="0.4"/><circle cx="227.6" cy="34.8" r="0.4"/><circle cx="231.0" cy="35.1" r="0.4"/><circle cx="210.7" cy="38.0" r="0.4"/><circle cx="190.3" cy="40.6" r="0.4"/><circle cx="211.9" cy="40.3" r="0.4"/><circle cx="230.9" cy="40.4" r="0.4"/><circle cx="234.0" cy="40.7" r="0.4"/><circle cx="185.0" cy="43.5" r="0.4"/><circle cx="188.2" cy="43.1" r="0.4"/><circle cx="210.6" cy="43.3" r="0.4"/><circle cx="232.7" cy="43.3" r="0.4"/><circle cx="235.7" cy="43.5" r="0.4"/><circle cx="183.9" cy="45.8" r="0.4"/><circle cx="186.9" cy="46.2" r="0.4"/><circle cx="189.7" cy="45.7" r="0.4"/><circle cx="209.0" cy="45.9" r="0.4"/><circle cx="212.1" cy="45.9" r="0.4"/><circle cx="234.0" cy="46.0" r="0.4"/><circle cx="237.2" cy="46.0" r="0.4"/><circle cx="182.4" cy="49.0" r="0.4"/><circle cx="185.0" cy="48.9" r="0.4"/><circle cx="188.1" cy="48.7" r="0.4"/><circle cx="191.3" cy="48.5" r="0.4"/><circle cx="194.8" cy="48.5" r="0.4"/><circle cx="204.1" cy="48.6" r="0.4"/><circle cx="207.4" cy="48.9" r="0.4"/><circle cx="213.4" cy="48.9" r="0.4"/><circle cx="216.7" cy="48.6" r="0.4"/><circle cx="229.2" cy="48.5" r="0.4"/><circle cx="232.4" cy="48.4" r="0.4"/><circle cx="235.6" cy="48.7" r="0.4"/><circle cx="238.9" cy="48.9" r="0.4"/><circle cx="180.2" cy="51.2" r="0.4"/><circle cx="184.0" cy="51.6" r="0.4"/><circle cx="187.0" cy="51.2" r="0.4"/><circle cx="192.9" cy="51.7" r="0.4"/><circle cx="199.6" cy="51.1" r="0.4"/><circle cx="203.0" cy="51.6" r="0.4"/><circle cx="218.2" cy="51.2" r="0.4"/><circle cx="224.8" cy="51.1" r="0.4"/><circle cx="227.7" cy="51.7" r="0.4"/><circle cx="234.4" cy="51.4" r="0.4"/><circle cx="237.2" cy="51.7" r="0.4"/><circle cx="240.4" cy="51.3" r="0.4"/><circle cx="179.3" cy="53.8" r="0.4"/><circle cx="181.8" cy="53.8" r="0.4"/><circle cx="198.0" cy="54.1" r="0.4"/><circle cx="200.7" cy="54.3" r="0.4"/><circle cx="220.2" cy="53.9" r="0.4"/><circle cx="223.1" cy="54.2" r="0.4"/><circle cx="241.8" cy="54.3" r="0.4"/><circle cx="177.7" cy="56.8" r="0.4"/><circle cx="199.1" cy="56.7" r="0.4"/><circle cx="221.6" cy="56.8" r="0.4"/><circle cx="240.3" cy="57.0" r="0.4"/><circle cx="176.0" cy="59.4" r="0.4"/><circle cx="179.2" cy="59.6" r="0.4"/><circle cx="197.9" cy="59.4" r="0.4"/><circle cx="201.3" cy="59.8" r="0.4"/><circle cx="219.6" cy="59.4" r="0.4"/><circle cx="222.9" cy="59.3" r="0.4"/><circle cx="245.2" cy="59.7" r="0.4"/><circle cx="177.6" cy="62.2" r="0.4"/><circle cx="199.4" cy="62.6" r="0.4"/><circle cx="240.8" cy="62.1" r="0.4"/><circle cx="243.6" cy="62.1" r="0.4"/><circle cx="179.3" cy="64.9" r="0.4"/><circle cx="198.1" cy="65.3" r="0.4"/><circle cx="219.7" cy="64.8" r="0.4"/><circle cx="223.2" cy="65.0" r="0.4"/><circle cx="242.3" cy="65.3" r="0.4"/><circle cx="180.8" cy="68.1" r="0.4"/><circle cx="183.8" cy="67.5" r="0.4"/><circle cx="202.4" cy="67.9" r="0.4"/><circle cx="206.1" cy="67.6" r="0.4"/><circle cx="215.3" cy="67.6" r="0.4"/><circle cx="221.5" cy="67.8" r="0.4"/><circle cx="224.8" cy="67.8" r="0.4"/><circle cx="227.8" cy="67.9" r="0.4"/><circle cx="237.4" cy="67.6" r="0.4"/><circle cx="240.8" cy="68.1" r="0.4"/><circle cx="182.0" cy="70.8" r="0.4"/><circle cx="185.0" cy="70.6" r="0.4"/><circle cx="188.6" cy="70.8" r="0.4"/><circle cx="191.6" cy="70.6" r="0.4"/><circle cx="194.4" cy="70.2" r="0.4"/><circle cx="197.8" cy="70.7" r="0.4"/><circle cx="201.3" cy="70.2" r="0.4"/><circle cx="204.2" cy="70.3" r="0.4"/><circle cx="210.2" cy="70.6" r="0.4"/><circle cx="216.5" cy="70.6" r="0.4"/><circle cx="229.3" cy="70.3" r="0.4"/><circle cx="232.9" cy="70.5" r="0.4"/><circle cx="236.0" cy="70.7" r="0.4"/><circle cx="183.8" cy="73.5" r="0.4"/><circle cx="189.8" cy="73.0" r="0.4"/><circle cx="193.3" cy="73.0" r="0.4"/><circle cx="206.0" cy="73.5" r="0.4"/><circle cx="209.0" cy="73.5" r="0.4"/><circle cx="212.3" cy="73.1" r="0.4"/><circle cx="215.6" cy="72.9" r="0.4"/><circle cx="228.0" cy="73.2" r="0.4"/><circle cx="231.3" cy="72.9" r="0.4"/><circle cx="233.8" cy="72.9" r="0.4"/><circle cx="185.3" cy="76.3" r="0.4"/><circle cx="188.3" cy="76.3" r="0.4"/><circle cx="210.5" cy="76.1" r="0.4"/><circle cx="214.0" cy="75.9" r="0.4"/><circle cx="232.9" cy="75.6" r="0.4"/><circle cx="235.6" cy="75.8" r="0.4"/><circle cx="187.1" cy="78.7" r="0.4"/><circle cx="209.2" cy="78.4" r="0.4"/><circle cx="212.0" cy="78.6" r="0.4"/><circle cx="233.8" cy="78.9" r="0.4"/><circle cx="213.9" cy="81.2" r="0.4"/><circle cx="232.7" cy="81.2" r="0.4"/><circle cx="190.4" cy="84.0" r="0.4"/><circle cx="209.2" cy="84.2" r="0.4"/><circle cx="231.3" cy="84.3" r="0.4"/><circle cx="204.4" cy="86.8" r="0.4"/><circle cx="207.0" cy="87.2" r="0.4"/><circle cx="213.4" cy="87.0" r="0.4"/><circle cx="216.6" cy="87.2" r="0.4"/><circle cx="229.3" cy="86.9" r="0.4"/><circle cx="199.8" cy="89.7" r="0.4"/><circle cx="208.9" cy="89.7" r="0.4"/><circle cx="212.2" cy="89.9" r="0.4"/><circle cx="224.4" cy="89.7" r="0.4"/></g>
<text x="267.5" y="43" font-size="7.5" font-weight="bold" text-anchor="middle" fill="#111" font-family="Liberation Sans, sans-serif" >S<tspan font-size="5" dy="2">8</tspan></text>
<line x1="252.7" y1="56.5" x2="277.0" y2="56.5" stroke="#111" stroke-width="1.5"/>
<polygon points="282,56.5 277.0,59.7 277.0,53.3" fill="#111"/>
<g fill="#000"><circle cx="306.6" cy="27.2" r="1.45"/><circle cx="310.2" cy="27.4" r="1.58"/><circle cx="313.3" cy="27.7" r="1.70"/><circle cx="316.1" cy="27.1" r="1.52"/><circle cx="319.5" cy="27.3" r="1.69"/><circle cx="322.9" cy="27.3" r="1.58"/><circle cx="325.7" cy="27.5" r="1.43"/><circle cx="328.6" cy="27.3" r="1.56"/><circle cx="331.8" cy="27.1" r="1.48"/><circle cx="335.1" cy="27.2" r="1.47"/><circle cx="338.0" cy="27.4" r="1.51"/><circle cx="341.1" cy="27.7" r="1.37"/><circle cx="344.5" cy="27.6" r="1.68"/><circle cx="305.3" cy="30.3" r="1.69"/><circle cx="308.3" cy="29.8" r="1.66"/><circle cx="311.7" cy="30.3" r="1.41"/><circle cx="314.6" cy="30.3" r="1.65"/><circle cx="317.7" cy="30.2" r="1.66"/><circle cx="321.0" cy="29.9" r="1.65"/><circle cx="324.1" cy="30.2" r="1.46"/><circle cx="327.2" cy="30.0" r="1.60"/><circle cx="330.6" cy="30.4" r="1.63"/><circle cx="333.7" cy="30.3" r="1.37"/><circle cx="336.7" cy="30.0" r="1.39"/><circle cx="340.0" cy="30.4" r="1.70"/><circle cx="343.3" cy="30.3" r="1.41"/><circle cx="346.4" cy="30.3" r="1.45"/><circle cx="303.7" cy="32.9" r="1.54"/><circle cx="306.5" cy="32.8" r="1.64"/><circle cx="309.7" cy="32.9" r="1.40"/><circle cx="312.8" cy="32.6" r="1.47"/><circle cx="316.3" cy="32.9" r="1.57"/><circle cx="319.7" cy="32.9" r="1.57"/><circle cx="322.4" cy="32.9" r="1.68"/><circle cx="325.4" cy="33.0" r="1.42"/><circle cx="328.6" cy="32.5" r="1.62"/><circle cx="332.1" cy="33.0" r="1.56"/><circle cx="335.0" cy="32.8" r="1.44"/><circle cx="338.5" cy="32.7" r="1.60"/><circle cx="341.4" cy="33.0" r="1.47"/><circle cx="344.8" cy="33.0" r="1.61"/><circle cx="347.7" cy="32.8" r="1.56"/><circle cx="302.0" cy="35.9" r="1.53"/><circle cx="305.2" cy="35.7" r="1.59"/><circle cx="321.0" cy="35.6" r="1.66"/><circle cx="324.4" cy="35.2" r="1.64"/><circle cx="326.9" cy="35.8" r="1.69"/><circle cx="330.6" cy="35.5" r="1.44"/><circle cx="342.7" cy="35.2" r="1.41"/><circle cx="346.2" cy="35.7" r="1.59"/><circle cx="349.4" cy="35.2" r="1.39"/><circle cx="300.8" cy="38.4" r="1.37"/><circle cx="303.4" cy="38.6" r="1.47"/><circle cx="325.7" cy="38.4" r="1.62"/><circle cx="347.8" cy="38.4" r="1.59"/><circle cx="351.1" cy="38.4" r="1.59"/><circle cx="298.8" cy="41.1" r="1.57"/><circle cx="302.1" cy="41.0" r="1.63"/><circle cx="305.4" cy="40.8" r="1.41"/><circle cx="324.3" cy="41.2" r="1.57"/><circle cx="327.0" cy="41.0" r="1.48"/><circle cx="346.2" cy="40.9" r="1.44"/><circle cx="349.1" cy="40.9" r="1.50"/><circle cx="352.3" cy="40.7" r="1.53"/><circle cx="297.4" cy="43.9" r="1.60"/><circle cx="300.7" cy="43.7" r="1.61"/><circle cx="303.7" cy="43.5" r="1.67"/><circle cx="325.6" cy="43.5" r="1.39"/><circle cx="347.8" cy="44.1" r="1.43"/><circle cx="350.9" cy="43.8" r="1.49"/><circle cx="354.1" cy="43.4" r="1.64"/><circle cx="296.1" cy="46.7" r="1.46"/><circle cx="298.6" cy="46.7" r="1.50"/><circle cx="301.8" cy="46.7" r="1.42"/><circle cx="305.1" cy="46.6" r="1.47"/><circle cx="323.8" cy="46.4" r="1.38"/><circle cx="327.2" cy="46.2" r="1.66"/><circle cx="346.0" cy="46.7" r="1.42"/><circle cx="349.3" cy="46.5" r="1.59"/><circle cx="352.4" cy="46.6" r="1.53"/><circle cx="355.7" cy="46.4" r="1.54"/><circle cx="294.3" cy="49.5" r="1.54"/><circle cx="297.4" cy="49.4" r="1.64"/><circle cx="300.7" cy="48.9" r="1.40"/><circle cx="303.6" cy="49.2" r="1.36"/><circle cx="306.8" cy="49.4" r="1.69"/><circle cx="310.1" cy="49.3" r="1.53"/><circle cx="319.4" cy="49.5" r="1.43"/><circle cx="322.5" cy="49.3" r="1.40"/><circle cx="325.5" cy="49.3" r="1.66"/><circle cx="328.9" cy="49.1" r="1.53"/><circle cx="332.3" cy="49.1" r="1.59"/><circle cx="341.5" cy="49.2" r="1.62"/><circle cx="344.7" cy="49.2" r="1.68"/><circle cx="347.7" cy="49.4" r="1.45"/><circle cx="350.8" cy="48.9" r="1.54"/><circle cx="353.9" cy="49.0" r="1.70"/><circle cx="357.3" cy="49.1" r="1.54"/><circle cx="293.0" cy="51.9" r="1.66"/><circle cx="296.1" cy="52.0" r="1.60"/><circle cx="299.2" cy="52.1" r="1.69"/><circle cx="301.9" cy="51.7" r="1.51"/><circle cx="305.4" cy="51.9" r="1.69"/><circle cx="308.0" cy="51.9" r="1.58"/><circle cx="311.7" cy="51.7" r="1.67"/><circle cx="315.0" cy="52.0" r="1.60"/><circle cx="318.1" cy="52.3" r="1.40"/><circle cx="320.7" cy="52.2" r="1.65"/><circle cx="324.3" cy="51.8" r="1.57"/><circle cx="330.6" cy="51.8" r="1.35"/><circle cx="333.5" cy="51.8" r="1.67"/><circle cx="337.0" cy="52.1" r="1.60"/><circle cx="339.7" cy="52.1" r="1.55"/><circle cx="343.0" cy="51.9" r="1.65"/><circle cx="349.4" cy="51.6" r="1.63"/><circle cx="352.4" cy="51.9" r="1.44"/><circle cx="355.6" cy="51.9" r="1.58"/><circle cx="358.6" cy="52.1" r="1.51"/><circle cx="291.0" cy="54.8" r="1.42"/><circle cx="294.1" cy="54.6" r="1.50"/><circle cx="297.4" cy="54.7" r="1.39"/><circle cx="312.8" cy="54.8" r="1.41"/><circle cx="316.4" cy="54.9" r="1.56"/><circle cx="319.4" cy="54.5" r="1.44"/><circle cx="335.4" cy="54.8" r="1.68"/><circle cx="338.2" cy="54.6" r="1.50"/><circle cx="353.8" cy="54.6" r="1.48"/><circle cx="357.2" cy="54.4" r="1.48"/><circle cx="360.4" cy="54.3" r="1.64"/><circle cx="289.4" cy="57.5" r="1.45"/><circle cx="292.3" cy="57.5" r="1.43"/><circle cx="314.4" cy="57.3" r="1.39"/><circle cx="336.5" cy="57.0" r="1.52"/><circle cx="355.9" cy="57.7" r="1.56"/><circle cx="359.0" cy="57.1" r="1.53"/><circle cx="362.0" cy="57.6" r="1.41"/><circle cx="288.2" cy="60.0" r="1.38"/><circle cx="291.1" cy="59.9" r="1.35"/><circle cx="294.5" cy="60.2" r="1.58"/><circle cx="313.0" cy="60.0" r="1.44"/><circle cx="316.5" cy="60.0" r="1.44"/><circle cx="335.3" cy="60.4" r="1.47"/><circle cx="338.4" cy="60.1" r="1.65"/><circle cx="357.2" cy="60.2" r="1.68"/><circle cx="360.2" cy="60.4" r="1.37"/><circle cx="363.4" cy="59.9" r="1.37"/><circle cx="289.7" cy="62.9" r="1.42"/><circle cx="292.3" cy="63.0" r="1.55"/><circle cx="314.5" cy="63.1" r="1.65"/><circle cx="336.9" cy="63.0" r="1.42"/><circle cx="359.1" cy="62.6" r="1.41"/><circle cx="362.1" cy="63.0" r="1.54"/><circle cx="291.1" cy="65.6" r="1.64"/><circle cx="294.1" cy="65.8" r="1.61"/><circle cx="312.8" cy="65.3" r="1.67"/><circle cx="316.2" cy="65.3" r="1.35"/><circle cx="335.1" cy="65.4" r="1.69"/><circle cx="338.4" cy="65.4" r="1.50"/><circle cx="357.0" cy="65.3" r="1.46"/><circle cx="360.2" cy="65.3" r="1.62"/><circle cx="292.7" cy="68.3" r="1.46"/><circle cx="295.7" cy="68.5" r="1.67"/><circle cx="298.7" cy="68.6" r="1.46"/><circle cx="308.1" cy="68.6" r="1.49"/><circle cx="311.6" cy="68.0" r="1.47"/><circle cx="314.5" cy="68.5" r="1.45"/><circle cx="318.0" cy="68.3" r="1.51"/><circle cx="320.7" cy="68.3" r="1.47"/><circle cx="330.6" cy="68.4" r="1.44"/><circle cx="333.7" cy="68.0" r="1.62"/><circle cx="337.0" cy="68.2" r="1.51"/><circle cx="339.6" cy="68.5" r="1.56"/><circle cx="342.7" cy="68.1" r="1.40"/><circle cx="352.4" cy="68.2" r="1.37"/><circle cx="355.6" cy="68.1" r="1.61"/><circle cx="359.0" cy="68.3" r="1.64"/><circle cx="294.1" cy="71.1" r="1.39"/><circle cx="297.7" cy="71.1" r="1.53"/><circle cx="300.2" cy="70.8" r="1.49"/><circle cx="303.6" cy="71.0" r="1.38"/><circle cx="307.0" cy="71.2" r="1.57"/><circle cx="310.1" cy="70.7" r="1.42"/><circle cx="313.4" cy="70.9" r="1.46"/><circle cx="316.2" cy="71.2" r="1.47"/><circle cx="319.1" cy="70.8" r="1.39"/><circle cx="322.8" cy="71.0" r="1.55"/><circle cx="325.8" cy="70.8" r="1.47"/><circle cx="328.7" cy="71.4" r="1.51"/><circle cx="332.0" cy="71.3" r="1.41"/><circle cx="335.2" cy="71.3" r="1.36"/><circle cx="341.8" cy="71.1" r="1.36"/><circle cx="344.6" cy="71.3" r="1.50"/><circle cx="347.9" cy="71.2" r="1.69"/><circle cx="351.1" cy="71.3" r="1.42"/><circle cx="354.3" cy="71.1" r="1.65"/><circle cx="356.9" cy="70.9" r="1.65"/><circle cx="295.4" cy="73.5" r="1.56"/><circle cx="299.0" cy="73.9" r="1.42"/><circle cx="302.1" cy="74.1" r="1.50"/><circle cx="305.0" cy="73.9" r="1.63"/><circle cx="308.6" cy="74.0" r="1.48"/><circle cx="320.7" cy="73.6" r="1.38"/><circle cx="323.9" cy="73.8" r="1.54"/><circle cx="327.5" cy="73.8" r="1.63"/><circle cx="330.6" cy="73.8" r="1.64"/><circle cx="346.2" cy="73.6" r="1.35"/><circle cx="349.1" cy="74.1" r="1.38"/><circle cx="352.7" cy="74.1" r="1.61"/><circle cx="355.7" cy="74.0" r="1.65"/><circle cx="297.4" cy="76.5" r="1.63"/><circle cx="300.7" cy="76.4" r="1.39"/><circle cx="303.4" cy="76.5" r="1.59"/><circle cx="325.4" cy="76.1" r="1.37"/><circle cx="328.5" cy="76.4" r="1.67"/><circle cx="347.5" cy="76.2" r="1.45"/><circle cx="351.2" cy="76.3" r="1.36"/><circle cx="354.3" cy="76.3" r="1.70"/><circle cx="299.0" cy="79.2" r="1.48"/><circle cx="302.0" cy="79.1" r="1.69"/><circle cx="305.2" cy="78.8" r="1.45"/><circle cx="324.4" cy="79.4" r="1.66"/><circle cx="327.5" cy="79.0" r="1.45"/><circle cx="349.3" cy="79.3" r="1.53"/><circle cx="352.5" cy="78.9" r="1.41"/><circle cx="300.3" cy="81.7" r="1.43"/><circle cx="303.7" cy="81.9" r="1.63"/><circle cx="325.9" cy="82.0" r="1.37"/><circle cx="329.0" cy="82.0" r="1.44"/><circle cx="347.5" cy="82.2" r="1.67"/><circle cx="351.2" cy="82.1" r="1.59"/><circle cx="301.9" cy="84.4" r="1.40"/><circle cx="305.1" cy="84.7" r="1.47"/><circle cx="324.1" cy="84.9" r="1.70"/><circle cx="327.4" cy="84.3" r="1.59"/><circle cx="349.1" cy="84.8" r="1.47"/><circle cx="303.8" cy="87.7" r="1.60"/><circle cx="306.5" cy="87.7" r="1.66"/><circle cx="319.7" cy="87.4" r="1.60"/><circle cx="322.4" cy="87.2" r="1.55"/><circle cx="325.4" cy="87.1" r="1.62"/><circle cx="328.8" cy="87.4" r="1.55"/><circle cx="331.9" cy="87.3" r="1.44"/><circle cx="344.8" cy="87.4" r="1.44"/><circle cx="347.7" cy="87.6" r="1.44"/><circle cx="305.2" cy="90.0" r="1.59"/><circle cx="308.5" cy="90.1" r="1.61"/><circle cx="311.7" cy="90.0" r="1.50"/><circle cx="314.9" cy="90.2" r="1.57"/><circle cx="317.5" cy="90.1" r="1.53"/><circle cx="321.2" cy="89.8" r="1.65"/><circle cx="323.8" cy="90.4" r="1.68"/><circle cx="327.2" cy="90.3" r="1.37"/><circle cx="330.1" cy="90.2" r="1.37"/><circle cx="333.7" cy="90.1" r="1.48"/><circle cx="336.4" cy="90.0" r="1.42"/><circle cx="339.6" cy="89.9" r="1.49"/><circle cx="343.2" cy="90.0" r="1.62"/><circle cx="346.3" cy="90.3" r="1.48"/><circle cx="306.6" cy="92.7" r="1.65"/><circle cx="310.0" cy="93.1" r="1.67"/><circle cx="313.4" cy="92.8" r="1.40"/><circle cx="316.3" cy="93.2" r="1.39"/><circle cx="319.3" cy="92.5" r="1.41"/><circle cx="322.8" cy="93.0" r="1.58"/><circle cx="325.6" cy="92.7" r="1.38"/><circle cx="328.7" cy="93.1" r="1.67"/><circle cx="332.3" cy="92.6" r="1.58"/><circle cx="335.2" cy="93.2" r="1.61"/><circle cx="338.4" cy="93.1" r="1.52"/><circle cx="341.6" cy="93.0" r="1.43"/><circle cx="344.9" cy="92.5" r="1.51"/></g>
<g fill="#fff"><circle cx="306.8" cy="27.0" r="0.4"/><circle cx="310.4" cy="27.2" r="0.4"/><circle cx="313.5" cy="27.5" r="0.4"/><circle cx="316.3" cy="26.9" r="0.4"/><circle cx="319.7" cy="27.1" r="0.4"/><circle cx="323.1" cy="27.1" r="0.4"/><circle cx="325.9" cy="27.3" r="0.4"/><circle cx="328.8" cy="27.1" r="0.4"/><circle cx="332.0" cy="26.9" r="0.4"/><circle cx="335.3" cy="27.0" r="0.4"/><circle cx="338.2" cy="27.2" r="0.4"/><circle cx="341.3" cy="27.5" r="0.4"/><circle cx="308.5" cy="29.6" r="0.4"/><circle cx="311.9" cy="30.1" r="0.4"/><circle cx="317.9" cy="30.0" r="0.4"/><circle cx="321.2" cy="29.7" r="0.4"/><circle cx="327.4" cy="29.8" r="0.4"/><circle cx="330.8" cy="30.2" r="0.4"/><circle cx="333.9" cy="30.1" r="0.4"/><circle cx="336.9" cy="29.8" r="0.4"/><circle cx="343.5" cy="30.1" r="0.4"/><circle cx="306.7" cy="32.6" r="0.4"/><circle cx="309.9" cy="32.7" r="0.4"/><circle cx="316.5" cy="32.7" r="0.4"/><circle cx="319.9" cy="32.7" r="0.4"/><circle cx="325.6" cy="32.8" r="0.4"/><circle cx="328.8" cy="32.3" r="0.4"/><circle cx="332.3" cy="32.8" r="0.4"/><circle cx="335.2" cy="32.6" r="0.4"/><circle cx="338.7" cy="32.5" r="0.4"/><circle cx="341.6" cy="32.8" r="0.4"/><circle cx="302.2" cy="35.7" r="0.4"/><circle cx="305.4" cy="35.5" r="0.4"/><circle cx="321.2" cy="35.4" r="0.4"/><circle cx="324.6" cy="35.0" r="0.4"/><circle cx="327.1" cy="35.6" r="0.4"/><circle cx="330.8" cy="35.3" r="0.4"/><circle cx="349.6" cy="35.0" r="0.4"/><circle cx="301.0" cy="38.2" r="0.4"/><circle cx="325.9" cy="38.2" r="0.4"/><circle cx="348.0" cy="38.2" r="0.4"/><circle cx="351.3" cy="38.2" r="0.4"/><circle cx="299.0" cy="40.9" r="0.4"/><circle cx="302.3" cy="40.8" r="0.4"/><circle cx="305.6" cy="40.6" r="0.4"/><circle cx="324.5" cy="41.0" r="0.4"/><circle cx="349.3" cy="40.7" r="0.4"/><circle cx="352.5" cy="40.5" r="0.4"/><circle cx="297.6" cy="43.7" r="0.4"/><circle cx="303.9" cy="43.3" r="0.4"/><circle cx="325.8" cy="43.3" r="0.4"/><circle cx="348.0" cy="43.9" r="0.4"/><circle cx="354.3" cy="43.2" r="0.4"/><circle cx="296.3" cy="46.5" r="0.4"/><circle cx="298.8" cy="46.5" r="0.4"/><circle cx="305.3" cy="46.4" r="0.4"/><circle cx="324.0" cy="46.2" r="0.4"/><circle cx="327.4" cy="46.0" r="0.4"/><circle cx="346.2" cy="46.5" r="0.4"/><circle cx="349.5" cy="46.3" r="0.4"/><circle cx="352.6" cy="46.4" r="0.4"/><circle cx="355.9" cy="46.2" r="0.4"/><circle cx="294.5" cy="49.3" r="0.4"/><circle cx="297.6" cy="49.2" r="0.4"/><circle cx="300.9" cy="48.7" r="0.4"/><circle cx="322.7" cy="49.1" r="0.4"/><circle cx="325.7" cy="49.1" r="0.4"/><circle cx="332.5" cy="48.9" r="0.4"/><circle cx="341.7" cy="49.0" r="0.4"/><circle cx="344.9" cy="49.0" r="0.4"/><circle cx="351.0" cy="48.7" r="0.4"/><circle cx="354.1" cy="48.8" r="0.4"/><circle cx="357.5" cy="48.9" r="0.4"/><circle cx="293.2" cy="51.7" r="0.4"/><circle cx="296.3" cy="51.8" r="0.4"/><circle cx="299.4" cy="51.9" r="0.4"/><circle cx="302.1" cy="51.5" r="0.4"/><circle cx="305.6" cy="51.7" r="0.4"/><circle cx="308.2" cy="51.7" r="0.4"/><circle cx="311.9" cy="51.5" r="0.4"/><circle cx="315.2" cy="51.8" r="0.4"/><circle cx="318.3" cy="52.1" r="0.4"/><circle cx="324.5" cy="51.6" r="0.4"/><circle cx="330.8" cy="51.6" r="0.4"/><circle cx="333.7" cy="51.6" r="0.4"/><circle cx="339.9" cy="51.9" r="0.4"/><circle cx="352.6" cy="51.7" r="0.4"/><circle cx="355.8" cy="51.7" r="0.4"/><circle cx="358.8" cy="51.9" r="0.4"/><circle cx="291.2" cy="54.6" r="0.4"/><circle cx="297.6" cy="54.5" r="0.4"/><circle cx="313.0" cy="54.6" r="0.4"/><circle cx="316.6" cy="54.7" r="0.4"/><circle cx="319.6" cy="54.3" r="0.4"/><circle cx="335.6" cy="54.6" r="0.4"/><circle cx="357.4" cy="54.2" r="0.4"/><circle cx="360.6" cy="54.1" r="0.4"/><circle cx="289.6" cy="57.3" r="0.4"/><circle cx="292.5" cy="57.3" r="0.4"/><circle cx="314.6" cy="57.1" r="0.4"/><circle cx="336.7" cy="56.8" r="0.4"/><circle cx="356.1" cy="57.5" r="0.4"/><circle cx="291.3" cy="59.7" r="0.4"/><circle cx="294.7" cy="60.0" r="0.4"/><circle cx="313.2" cy="59.8" r="0.4"/><circle cx="316.7" cy="59.8" r="0.4"/><circle cx="338.6" cy="59.9" r="0.4"/><circle cx="357.4" cy="60.0" r="0.4"/><circle cx="360.4" cy="60.2" r="0.4"/><circle cx="363.6" cy="59.7" r="0.4"/><circle cx="289.9" cy="62.7" r="0.4"/><circle cx="292.5" cy="62.8" r="0.4"/><circle cx="314.7" cy="62.9" r="0.4"/><circle cx="337.1" cy="62.8" r="0.4"/><circle cx="291.3" cy="65.4" r="0.4"/><circle cx="316.4" cy="65.1" r="0.4"/><circle cx="335.3" cy="65.2" r="0.4"/><circle cx="360.4" cy="65.1" r="0.4"/><circle cx="292.9" cy="68.1" r="0.4"/><circle cx="298.9" cy="68.4" r="0.4"/><circle cx="308.3" cy="68.4" r="0.4"/><circle cx="318.2" cy="68.1" r="0.4"/><circle cx="330.8" cy="68.2" r="0.4"/><circle cx="333.9" cy="67.8" r="0.4"/><circle cx="337.2" cy="68.0" r="0.4"/><circle cx="339.8" cy="68.3" r="0.4"/><circle cx="342.9" cy="67.9" r="0.4"/><circle cx="352.6" cy="68.0" r="0.4"/><circle cx="355.8" cy="67.9" r="0.4"/><circle cx="359.2" cy="68.1" r="0.4"/><circle cx="294.3" cy="70.9" r="0.4"/><circle cx="297.9" cy="70.9" r="0.4"/><circle cx="300.4" cy="70.6" r="0.4"/><circle cx="303.8" cy="70.8" r="0.4"/><circle cx="307.2" cy="71.0" r="0.4"/><circle cx="310.3" cy="70.5" r="0.4"/><circle cx="313.6" cy="70.7" r="0.4"/><circle cx="316.4" cy="71.0" r="0.4"/><circle cx="323.0" cy="70.8" r="0.4"/><circle cx="328.9" cy="71.2" r="0.4"/><circle cx="332.2" cy="71.1" r="0.4"/><circle cx="342.0" cy="70.9" r="0.4"/><circle cx="344.8" cy="71.1" r="0.4"/><circle cx="348.1" cy="71.0" r="0.4"/><circle cx="351.3" cy="71.1" r="0.4"/><circle cx="357.1" cy="70.7" r="0.4"/><circle cx="295.6" cy="73.3" r="0.4"/><circle cx="299.2" cy="73.7" r="0.4"/><circle cx="302.3" cy="73.9" r="0.4"/><circle cx="305.2" cy="73.7" r="0.4"/><circle cx="308.8" cy="73.8" r="0.4"/><circle cx="320.9" cy="73.4" r="0.4"/><circle cx="327.7" cy="73.6" r="0.4"/><circle cx="346.4" cy="73.4" r="0.4"/><circle cx="355.9" cy="73.8" r="0.4"/><circle cx="297.6" cy="76.3" r="0.4"/><circle cx="303.6" cy="76.3" r="0.4"/><circle cx="325.6" cy="75.9" r="0.4"/><circle cx="328.7" cy="76.2" r="0.4"/><circle cx="351.4" cy="76.1" r="0.4"/><circle cx="354.5" cy="76.1" r="0.4"/><circle cx="299.2" cy="79.0" r="0.4"/><circle cx="302.2" cy="78.9" r="0.4"/><circle cx="324.6" cy="79.2" r="0.4"/><circle cx="327.7" cy="78.8" r="0.4"/><circle cx="349.5" cy="79.1" r="0.4"/><circle cx="352.7" cy="78.7" r="0.4"/><circle cx="303.9" cy="81.7" r="0.4"/><circle cx="326.1" cy="81.8" r="0.4"/><circle cx="329.2" cy="81.8" r="0.4"/><circle cx="347.7" cy="82.0" r="0.4"/><circle cx="351.4" cy="81.9" r="0.4"/><circle cx="302.1" cy="84.2" r="0.4"/><circle cx="305.3" cy="84.5" r="0.4"/><circle cx="327.6" cy="84.1" r="0.4"/><circle cx="349.3" cy="84.6" r="0.4"/><circle cx="304.0" cy="87.5" r="0.4"/><circle cx="322.6" cy="87.0" r="0.4"/><circle cx="329.0" cy="87.2" r="0.4"/><circle cx="332.1" cy="87.1" r="0.4"/><circle cx="345.0" cy="87.2" r="0.4"/><circle cx="305.4" cy="89.8" r="0.4"/><circle cx="308.7" cy="89.9" r="0.4"/><circle cx="311.9" cy="89.8" r="0.4"/><circle cx="315.1" cy="90.0" r="0.4"/><circle cx="317.7" cy="89.9" r="0.4"/><circle cx="324.0" cy="90.2" r="0.4"/><circle cx="330.3" cy="90.0" r="0.4"/><circle cx="333.9" cy="89.9" r="0.4"/><circle cx="336.6" cy="89.8" r="0.4"/><circle cx="339.8" cy="89.7" r="0.4"/><circle cx="343.4" cy="89.8" r="0.4"/><circle cx="346.5" cy="90.1" r="0.4"/><circle cx="306.8" cy="92.5" r="0.4"/><circle cx="310.2" cy="92.9" r="0.4"/><circle cx="323.0" cy="92.8" r="0.4"/><circle cx="325.8" cy="92.5" r="0.4"/><circle cx="328.9" cy="92.9" r="0.4"/><circle cx="332.5" cy="92.4" r="0.4"/><circle cx="335.4" cy="93.0" r="0.4"/><circle cx="345.1" cy="92.3" r="0.4"/></g>
<text x="307.5" y="43.9" font-size="8.4" fill="#f08a5d" font-family="Liberation Sans, sans-serif">S<tspan font-size="4.6" dy="1.8">x</tspan><tspan font-size="4.6" dy="-5.6">2-</tspan></text>
<text x="330.2" y="43.9" font-size="8.4" fill="#f08a5d" font-family="Liberation Sans, sans-serif">S<tspan font-size="4.6" dy="1.8">x</tspan><tspan font-size="4.6" dy="-5.6">2-</tspan></text>
<text x="297.1" y="62.9" font-size="8.4" fill="#f08a5d" font-family="Liberation Sans, sans-serif">S<tspan font-size="4.6" dy="1.8">x</tspan><tspan font-size="4.6" dy="-5.6">2-</tspan></text>
<text x="319.2" y="62.9" font-size="8.4" fill="#f08a5d" font-family="Liberation Sans, sans-serif">S<tspan font-size="4.6" dy="1.8">x</tspan><tspan font-size="4.6" dy="-5.6">2-</tspan></text>
<text x="340.6" y="62.9" font-size="8.4" fill="#f08a5d" font-family="Liberation Sans, sans-serif">S<tspan font-size="4.6" dy="1.8">x</tspan><tspan font-size="4.6" dy="-5.6">2-</tspan></text>
<text x="308.2" y="82.5" font-size="8.4" fill="#f08a5d" font-family="Liberation Sans, sans-serif">S<tspan font-size="4.6" dy="1.8">x</tspan><tspan font-size="4.6" dy="-5.6">2-</tspan></text>
<text x="331.4" y="82.5" font-size="8.4" fill="#f08a5d" font-family="Liberation Sans, sans-serif">S<tspan font-size="4.6" dy="1.8">x</tspan><tspan font-size="4.6" dy="-5.6">2-</tspan></text>
<text x="372.4" y="42.3" font-size="7.6" font-weight="bold" fill="#333" textLength="38.7" lengthAdjust="spacingAndGlyphs" font-family="Liberation Sans, sans-serif" >discharge</text>
<line x1="405" y1="54.2" x2="382.5" y2="54.2" stroke="#111" stroke-width="1.6"/>
<polygon points="377.5,54.2 382.5,51.0 382.5,57.4" fill="#111"/>
<line x1="377.5" y1="61.6" x2="400.0" y2="61.6" stroke="#111" stroke-width="1.6"/>
<polygon points="405,61.6 400.0,64.8 400.0,58.4" fill="#111"/>
<text x="378.8" y="77.6" font-size="7.6" font-weight="bold" fill="#333" textLength="25.4" lengthAdjust="spacingAndGlyphs" font-family="Liberation Sans, sans-serif" >charge</text>
<polygon points="491.7,59.9 472.7,92.8 434.7,92.8 415.7,59.9 434.7,27.0 472.7,27.0" fill="#ebe21a"/>
<polygon points="449.8,46.0 442.1,50.4 434.4,46.0 434.4,37.0 442.1,32.6 449.8,37.0" fill="#fff" stroke="#fff" stroke-width="1.6" stroke-linejoin="round"/>
<polygon points="472.5,46.0 464.8,50.4 457.1,46.0 457.1,37.0 464.8,32.6 472.5,37.0" fill="#fff" stroke="#fff" stroke-width="1.6" stroke-linejoin="round"/>
<polygon points="439.4,65.0 431.7,69.4 424.0,65.0 424.0,56.0 431.7,51.6 439.4,56.0" fill="#fff" stroke="#fff" stroke-width="1.6" stroke-linejoin="round"/>
<polygon points="461.5,65.0 453.8,69.4 446.1,65.0 446.1,56.0 453.8,51.6 461.5,56.0" fill="#fff" stroke="#fff" stroke-width="1.6" stroke-linejoin="round"/>
<polygon points="482.9,65.0 475.2,69.4 467.5,65.0 467.5,56.0 475.2,51.6 482.9,56.0" fill="#fff" stroke="#fff" stroke-width="1.6" stroke-linejoin="round"/>
<polygon points="450.5,84.5 442.8,89.0 435.1,84.5 435.1,75.6 442.8,71.2 450.5,75.6" fill="#fff" stroke="#fff" stroke-width="1.6" stroke-linejoin="round"/>
<polygon points="473.7,84.5 466.0,89.0 458.3,84.5 458.3,75.6 466.0,71.2 473.7,75.6" fill="#fff" stroke="#fff" stroke-width="1.6" stroke-linejoin="round"/>
<g fill="#000"><circle cx="437.7" cy="27.2" r="1.41"/><circle cx="440.8" cy="27.2" r="1.67"/><circle cx="444.5" cy="27.2" r="1.49"/><circle cx="447.1" cy="27.0" r="1.46"/><circle cx="454.0" cy="27.1" r="1.50"/><circle cx="456.7" cy="27.5" r="1.42"/><circle cx="460.0" cy="27.2" r="1.42"/><circle cx="463.0" cy="27.5" r="1.63"/><circle cx="466.5" cy="27.4" r="1.38"/><circle cx="469.6" cy="27.3" r="1.43"/><circle cx="472.6" cy="27.5" r="1.46"/><circle cx="433.2" cy="30.1" r="1.40"/><circle cx="436.4" cy="30.0" r="1.56"/><circle cx="439.3" cy="29.6" r="1.57"/><circle cx="442.9" cy="29.6" r="1.35"/><circle cx="445.5" cy="30.1" r="1.49"/><circle cx="448.9" cy="30.2" r="1.56"/><circle cx="452.0" cy="30.0" r="1.35"/><circle cx="455.1" cy="30.0" r="1.41"/><circle cx="458.1" cy="29.9" r="1.46"/><circle cx="461.9" cy="29.6" r="1.63"/><circle cx="464.6" cy="30.1" r="1.51"/><circle cx="468.0" cy="29.8" r="1.43"/><circle cx="471.0" cy="30.1" r="1.47"/><circle cx="474.0" cy="29.8" r="1.38"/><circle cx="431.5" cy="32.9" r="1.49"/><circle cx="434.5" cy="32.6" r="1.35"/><circle cx="438.1" cy="32.9" r="1.67"/><circle cx="444.1" cy="32.6" r="1.46"/><circle cx="447.3" cy="32.4" r="1.57"/><circle cx="450.3" cy="32.9" r="1.37"/><circle cx="454.0" cy="32.4" r="1.38"/><circle cx="457.0" cy="32.6" r="1.62"/><circle cx="460.0" cy="32.7" r="1.38"/><circle cx="463.3" cy="32.6" r="1.69"/><circle cx="466.0" cy="32.3" r="1.59"/><circle cx="469.7" cy="32.6" r="1.60"/><circle cx="472.6" cy="32.5" r="1.51"/><circle cx="475.8" cy="32.3" r="1.46"/><circle cx="429.9" cy="35.2" r="1.43"/><circle cx="433.0" cy="35.4" r="1.57"/><circle cx="436.5" cy="35.1" r="1.62"/><circle cx="449.1" cy="35.5" r="1.67"/><circle cx="451.9" cy="35.6" r="1.63"/><circle cx="455.4" cy="35.7" r="1.40"/><circle cx="471.0" cy="35.1" r="1.43"/><circle cx="474.4" cy="35.3" r="1.46"/><circle cx="477.3" cy="35.6" r="1.44"/><circle cx="428.8" cy="38.4" r="1.55"/><circle cx="431.4" cy="38.0" r="1.37"/><circle cx="450.5" cy="38.0" r="1.58"/><circle cx="453.8" cy="37.9" r="1.39"/><circle cx="475.7" cy="38.3" r="1.50"/><circle cx="479.1" cy="38.1" r="1.39"/><circle cx="427.2" cy="41.1" r="1.69"/><circle cx="429.8" cy="40.7" r="1.39"/><circle cx="433.4" cy="40.8" r="1.61"/><circle cx="452.0" cy="40.9" r="1.36"/><circle cx="455.1" cy="41.0" r="1.36"/><circle cx="474.2" cy="41.1" r="1.43"/><circle cx="477.4" cy="40.5" r="1.65"/><circle cx="480.4" cy="40.8" r="1.58"/><circle cx="425.2" cy="43.6" r="1.48"/><circle cx="428.8" cy="43.6" r="1.51"/><circle cx="431.8" cy="43.6" r="1.57"/><circle cx="450.5" cy="43.7" r="1.42"/><circle cx="453.5" cy="43.3" r="1.55"/><circle cx="475.7" cy="43.5" r="1.37"/><circle cx="479.1" cy="43.4" r="1.45"/><circle cx="482.1" cy="43.6" r="1.52"/><circle cx="423.6" cy="46.1" r="1.65"/><circle cx="427.1" cy="46.3" r="1.40"/><circle cx="430.0" cy="46.4" r="1.37"/><circle cx="433.5" cy="46.5" r="1.68"/><circle cx="452.1" cy="46.5" r="1.62"/><circle cx="455.4" cy="46.5" r="1.36"/><circle cx="474.3" cy="46.5" r="1.48"/><circle cx="477.2" cy="46.3" r="1.43"/><circle cx="480.7" cy="45.9" r="1.58"/><circle cx="483.6" cy="46.0" r="1.55"/><circle cx="422.1" cy="49.0" r="1.50"/><circle cx="425.5" cy="49.0" r="1.45"/><circle cx="428.8" cy="49.3" r="1.62"/><circle cx="431.5" cy="48.8" r="1.61"/><circle cx="435.0" cy="49.1" r="1.42"/><circle cx="438.1" cy="49.0" r="1.48"/><circle cx="447.7" cy="48.7" r="1.55"/><circle cx="450.9" cy="49.1" r="1.55"/><circle cx="453.9" cy="48.7" r="1.63"/><circle cx="456.9" cy="49.0" r="1.46"/><circle cx="460.1" cy="48.7" r="1.53"/><circle cx="469.6" cy="48.9" r="1.53"/><circle cx="472.4" cy="49.2" r="1.62"/><circle cx="475.9" cy="48.7" r="1.64"/><circle cx="478.6" cy="49.0" r="1.52"/><circle cx="481.7" cy="48.9" r="1.66"/><circle cx="485.3" cy="48.9" r="1.64"/><circle cx="420.6" cy="52.1" r="1.69"/><circle cx="423.4" cy="51.5" r="1.43"/><circle cx="427.1" cy="51.5" r="1.41"/><circle cx="430.3" cy="51.5" r="1.69"/><circle cx="436.6" cy="51.5" r="1.62"/><circle cx="439.5" cy="51.5" r="1.37"/><circle cx="442.8" cy="51.8" r="1.46"/><circle cx="446.1" cy="51.5" r="1.51"/><circle cx="448.7" cy="51.6" r="1.66"/><circle cx="452.1" cy="51.5" r="1.43"/><circle cx="455.4" cy="51.6" r="1.66"/><circle cx="458.1" cy="52.0" r="1.57"/><circle cx="461.8" cy="51.6" r="1.37"/><circle cx="464.5" cy="51.8" r="1.36"/><circle cx="467.6" cy="51.9" r="1.66"/><circle cx="471.3" cy="52.0" r="1.54"/><circle cx="477.4" cy="51.7" r="1.36"/><circle cx="480.2" cy="51.5" r="1.51"/><circle cx="483.4" cy="52.0" r="1.55"/><circle cx="486.9" cy="52.0" r="1.43"/><circle cx="419.3" cy="54.7" r="1.68"/><circle cx="422.2" cy="54.6" r="1.45"/><circle cx="425.6" cy="54.2" r="1.66"/><circle cx="437.6" cy="54.3" r="1.60"/><circle cx="441.4" cy="54.5" r="1.65"/><circle cx="444.5" cy="54.6" r="1.48"/><circle cx="447.2" cy="54.2" r="1.54"/><circle cx="459.8" cy="54.3" r="1.59"/><circle cx="462.9" cy="54.6" r="1.69"/><circle cx="466.2" cy="54.8" r="1.56"/><circle cx="482.2" cy="54.7" r="1.63"/><circle cx="485.4" cy="54.2" r="1.60"/><circle cx="488.4" cy="54.8" r="1.35"/><circle cx="417.6" cy="57.4" r="1.38"/><circle cx="421.0" cy="57.2" r="1.44"/><circle cx="442.8" cy="57.2" r="1.45"/><circle cx="464.4" cy="57.5" r="1.49"/><circle cx="483.7" cy="57.3" r="1.46"/><circle cx="486.9" cy="57.3" r="1.56"/><circle cx="489.9" cy="57.3" r="1.42"/><circle cx="416.2" cy="59.6" r="1.49"/><circle cx="418.8" cy="60.1" r="1.38"/><circle cx="421.9" cy="59.6" r="1.65"/><circle cx="440.9" cy="60.1" r="1.46"/><circle cx="444.5" cy="60.1" r="1.48"/><circle cx="463.2" cy="59.9" r="1.53"/><circle cx="466.2" cy="59.7" r="1.64"/><circle cx="485.5" cy="59.7" r="1.47"/><circle cx="488.7" cy="60.1" r="1.61"/><circle cx="491.2" cy="60.1" r="1.49"/><circle cx="417.7" cy="62.8" r="1.42"/><circle cx="420.8" cy="62.7" r="1.52"/><circle cx="442.9" cy="62.5" r="1.67"/><circle cx="465.0" cy="62.3" r="1.50"/><circle cx="486.5" cy="62.3" r="1.58"/><circle cx="489.6" cy="62.6" r="1.40"/><circle cx="418.8" cy="65.1" r="1.43"/><circle cx="422.5" cy="65.3" r="1.51"/><circle cx="441.3" cy="65.4" r="1.51"/><circle cx="444.2" cy="65.4" r="1.59"/><circle cx="463.1" cy="65.1" r="1.55"/><circle cx="466.1" cy="65.5" r="1.53"/><circle cx="485.0" cy="65.2" r="1.42"/><circle cx="488.3" cy="65.5" r="1.36"/><circle cx="420.4" cy="67.9" r="1.53"/><circle cx="423.7" cy="68.0" r="1.46"/><circle cx="426.7" cy="68.1" r="1.56"/><circle cx="436.7" cy="67.8" r="1.59"/><circle cx="439.4" cy="67.8" r="1.66"/><circle cx="443.0" cy="68.3" r="1.57"/><circle cx="446.2" cy="68.1" r="1.59"/><circle cx="449.1" cy="68.3" r="1.65"/><circle cx="458.3" cy="68.3" r="1.65"/><circle cx="461.7" cy="68.1" r="1.59"/><circle cx="464.5" cy="68.3" r="1.39"/><circle cx="468.2" cy="68.2" r="1.45"/><circle cx="470.8" cy="68.2" r="1.51"/><circle cx="480.4" cy="68.3" r="1.56"/><circle cx="483.6" cy="67.9" r="1.51"/><circle cx="486.4" cy="67.9" r="1.64"/><circle cx="425.7" cy="70.6" r="1.42"/><circle cx="428.8" cy="71.1" r="1.40"/><circle cx="431.8" cy="71.1" r="1.44"/><circle cx="435.0" cy="70.7" r="1.63"/><circle cx="438.0" cy="70.8" r="1.39"/><circle cx="441.2" cy="71.0" r="1.45"/><circle cx="443.9" cy="70.5" r="1.44"/><circle cx="447.7" cy="71.0" r="1.66"/><circle cx="450.7" cy="70.6" r="1.49"/><circle cx="454.0" cy="71.1" r="1.70"/><circle cx="457.1" cy="71.0" r="1.62"/><circle cx="460.3" cy="70.8" r="1.36"/><circle cx="463.0" cy="70.5" r="1.45"/><circle cx="466.4" cy="70.7" r="1.44"/><circle cx="469.2" cy="70.7" r="1.53"/><circle cx="472.7" cy="71.1" r="1.37"/><circle cx="475.6" cy="70.5" r="1.68"/><circle cx="479.0" cy="70.9" r="1.63"/><circle cx="481.7" cy="71.1" r="1.47"/><circle cx="485.3" cy="70.7" r="1.61"/><circle cx="424.0" cy="73.7" r="1.53"/><circle cx="427.0" cy="73.3" r="1.56"/><circle cx="430.4" cy="73.3" r="1.56"/><circle cx="433.5" cy="73.6" r="1.47"/><circle cx="436.2" cy="73.7" r="1.67"/><circle cx="448.9" cy="73.3" r="1.35"/><circle cx="452.3" cy="73.7" r="1.36"/><circle cx="455.0" cy="73.4" r="1.42"/><circle cx="458.6" cy="73.3" r="1.55"/><circle cx="471.0" cy="73.3" r="1.68"/><circle cx="474.4" cy="73.6" r="1.52"/><circle cx="477.4" cy="73.4" r="1.38"/><circle cx="480.5" cy="73.8" r="1.38"/><circle cx="484.0" cy="73.5" r="1.70"/><circle cx="425.5" cy="76.6" r="1.67"/><circle cx="428.3" cy="76.3" r="1.69"/><circle cx="431.4" cy="76.0" r="1.41"/><circle cx="454.0" cy="76.3" r="1.39"/><circle cx="456.7" cy="76.6" r="1.47"/><circle cx="475.8" cy="76.0" r="1.57"/><circle cx="478.6" cy="76.2" r="1.36"/><circle cx="482.0" cy="76.0" r="1.68"/><circle cx="426.9" cy="79.1" r="1.44"/><circle cx="430.1" cy="79.1" r="1.69"/><circle cx="433.1" cy="78.8" r="1.53"/><circle cx="452.3" cy="79.3" r="1.69"/><circle cx="455.1" cy="78.9" r="1.68"/><circle cx="474.5" cy="79.0" r="1.46"/><circle cx="477.1" cy="78.9" r="1.40"/><circle cx="480.4" cy="78.7" r="1.36"/><circle cx="428.7" cy="81.8" r="1.56"/><circle cx="431.7" cy="81.9" r="1.59"/><circle cx="453.7" cy="81.7" r="1.59"/><circle cx="457.1" cy="82.1" r="1.43"/><circle cx="475.6" cy="81.7" r="1.48"/><circle cx="433.5" cy="84.6" r="1.47"/><circle cx="452.2" cy="84.5" r="1.66"/><circle cx="455.5" cy="84.4" r="1.61"/><circle cx="477.6" cy="84.1" r="1.69"/><circle cx="432.0" cy="87.4" r="1.45"/><circle cx="434.6" cy="87.2" r="1.43"/><circle cx="447.6" cy="87.0" r="1.67"/><circle cx="450.6" cy="87.5" r="1.54"/><circle cx="453.7" cy="87.0" r="1.37"/><circle cx="457.2" cy="87.0" r="1.38"/><circle cx="460.3" cy="87.2" r="1.55"/><circle cx="472.4" cy="87.0" r="1.53"/><circle cx="475.4" cy="87.4" r="1.58"/><circle cx="433.4" cy="90.1" r="1.40"/><circle cx="436.1" cy="90.1" r="1.64"/><circle cx="439.5" cy="89.6" r="1.36"/><circle cx="442.9" cy="90.0" r="1.48"/><circle cx="445.9" cy="90.1" r="1.35"/><circle cx="449.1" cy="90.2" r="1.65"/><circle cx="452.4" cy="89.9" r="1.56"/><circle cx="455.0" cy="90.1" r="1.58"/><circle cx="458.4" cy="89.6" r="1.41"/><circle cx="461.5" cy="90.2" r="1.52"/><circle cx="465.0" cy="89.7" r="1.44"/><circle cx="467.7" cy="89.8" r="1.63"/><circle cx="470.9" cy="89.8" r="1.59"/><circle cx="474.1" cy="90.2" r="1.59"/><circle cx="434.9" cy="92.7" r="1.37"/><circle cx="438.2" cy="92.5" r="1.43"/><circle cx="440.9" cy="92.7" r="1.58"/><circle cx="444.1" cy="92.5" r="1.35"/><circle cx="447.5" cy="92.8" r="1.39"/><circle cx="450.4" cy="92.8" r="1.60"/><circle cx="457.0" cy="92.8" r="1.46"/><circle cx="460.3" cy="92.6" r="1.57"/><circle cx="463.5" cy="92.9" r="1.41"/><circle cx="466.0" cy="92.4" r="1.39"/><circle cx="469.7" cy="92.7" r="1.52"/><circle cx="472.5" cy="92.6" r="1.50"/></g>
<rect x="36" y="120" width="199.5" height="152" filter="url(#sem)"/>
<rect x="152.7" y="256" width="77.5" height="2.2" fill="#fff"/>
<rect x="291.3" y="113.9" width="194.2" height="154.7" fill="none" stroke="#1a1a1a" stroke-width="1.2"/>
<line x1="288.3" y1="268.6" x2="291.3" y2="268.6" stroke="#222" stroke-width="0.8"/>
<text x="286" y="270.90000000000003" font-size="6.4" font-weight="bold" text-anchor="end" fill="#222" font-family="Liberation Sans, sans-serif" >0</text>
<line x1="288.3" y1="260.0" x2="291.3" y2="260.0" stroke="#222" stroke-width="0.8"/>
<text x="286" y="262.3055555555556" font-size="6.4" font-weight="bold" text-anchor="end" fill="#222" font-family="Liberation Sans, sans-serif" >100</text>
<line x1="288.3" y1="251.4" x2="291.3" y2="251.4" stroke="#222" stroke-width="0.8"/>
<text x="286" y="253.71111111111114" font-size="6.4" font-weight="bold" text-anchor="end" fill="#222" font-family="Liberation Sans, sans-serif" >200</text>
<line x1="288.3" y1="242.8" x2="291.3" y2="242.8" stroke="#222" stroke-width="0.8"/>
<text x="286" y="245.1166666666667" font-size="6.4" font-weight="bold" text-anchor="end" fill="#222" font-family="Liberation Sans, sans-serif" >300</text>
<line x1="288.3" y1="234.2" x2="291.3" y2="234.2" stroke="#222" stroke-width="0.8"/>
<text x="286" y="236.52222222222224" font-size="6.4" font-weight="bold" text-anchor="end" fill="#222" font-family="Liberation Sans, sans-serif" >400</text>
<line x1="288.3" y1="225.6" x2="291.3" y2="225.6" stroke="#222" stroke-width="0.8"/>
<text x="286" y="227.9277777777778" font-size="6.4" font-weight="bold" text-anchor="end" fill="#222" font-family="Liberation Sans, sans-serif" >500</text>
<line x1="288.3" y1="217.0" x2="291.3" y2="217.0" stroke="#222" stroke-width="0.8"/>
<text x="286" y="219.33333333333337" font-size="6.4" font-weight="bold" text-anchor="end" fill="#222" font-family="Liberation Sans, sans-serif" >600</text>
<line x1="288.3" y1="208.4" x2="291.3" y2="208.4" stroke="#222" stroke-width="0.8"/>
<text x="286" y="210.7388888888889" font-size="6.4" font-weight="bold" text-anchor="end" fill="#222" font-family="Liberation Sans, sans-serif" >700</text>
<line x1="288.3" y1="199.8" x2="291.3" y2="199.8" stroke="#222" stroke-width="0.8"/>
<text x="286" y="202.14444444444447" font-size="6.4" font-weight="bold" text-anchor="end" fill="#222" font-family="Liberation Sans, sans-serif" >800</text>
<line x1="288.3" y1="191.2" x2="291.3" y2="191.2" stroke="#222" stroke-width="0.8"/>
<text x="286" y="193.55" font-size="6.4" font-weight="bold" text-anchor="end" fill="#222" font-family="Liberation Sans, sans-serif" >900</text>
<line x1="288.3" y1="182.7" x2="291.3" y2="182.7" stroke="#222" stroke-width="0.8"/>
<text x="286" y="184.95555555555558" font-size="6.4" font-weight="bold" text-anchor="end" fill="#222" font-family="Liberation Sans, sans-serif" >1000</text>
<line x1="288.3" y1="174.1" x2="291.3" y2="174.1" stroke="#222" stroke-width="0.8"/>
<text x="286" y="176.36111111111114" font-size="6.4" font-weight="bold" text-anchor="end" fill="#222" font-family="Liberation Sans, sans-serif" >1100</text>
<line x1="288.3" y1="165.5" x2="291.3" y2="165.5" stroke="#222" stroke-width="0.8"/>
<text x="286" y="167.76666666666668" font-size="6.4" font-weight="bold" text-anchor="end" fill="#222" font-family="Liberation Sans, sans-serif" >1200</text>
<line x1="288.3" y1="156.9" x2="291.3" y2="156.9" stroke="#222" stroke-width="0.8"/>
<text x="286" y="159.17222222222225" font-size="6.4" font-weight="bold" text-anchor="end" fill="#222" font-family="Liberation Sans, sans-serif" >1300</text>
<line x1="288.3" y1="148.3" x2="291.3" y2="148.3" stroke="#222" stroke-width="0.8"/>
<text x="286" y="150.57777777777778" font-size="6.4" font-weight="bold" text-anchor="end" fill="#222" font-family="Liberation Sans, sans-serif" >1400</text>
<line x1="288.3" y1="139.7" x2="291.3" y2="139.7" stroke="#222" stroke-width="0.8"/>
<text x="286" y="141.98333333333335" font-size="6.4" font-weight="bold" text-anchor="end" fill="#222" font-family="Liberation Sans, sans-serif" >1500</text>
<line x1="288.3" y1="131.1" x2="291.3" y2="131.1" stroke="#222" stroke-width="0.8"/>
<text x="286" y="133.3888888888889" font-size="6.4" font-weight="bold" text-anchor="end" fill="#222" font-family="Liberation Sans, sans-serif" >1600</text>
<line x1="288.3" y1="122.5" x2="291.3" y2="122.5" stroke="#222" stroke-width="0.8"/>
<text x="286" y="124.79444444444447" font-size="6.4" font-weight="bold" text-anchor="end" fill="#222" font-family="Liberation Sans, sans-serif" >1700</text>
<line x1="288.3" y1="113.9" x2="291.3" y2="113.9" stroke="#222" stroke-width="0.8"/>
<text x="286" y="116.19999999999997" font-size="6.4" font-weight="bold" text-anchor="end" fill="#222" font-family="Liberation Sans, sans-serif" >1800</text>
<line x1="291.3" y1="268.6" x2="291.3" y2="271.6" stroke="#222" stroke-width="0.8"/>
<text x="291.3" y="279.4" font-size="7" font-weight="bold" text-anchor="middle" fill="#222" font-family="Liberation Sans, sans-serif" >0</text>
<line x1="330.1" y1="268.6" x2="330.1" y2="271.6" stroke="#222" stroke-width="0.8"/>
<text x="330.14" y="279.4" font-size="7" font-weight="bold" text-anchor="middle" fill="#222" font-family="Liberation Sans, sans-serif" >10</text>
<line x1="369.0" y1="268.6" x2="369.0" y2="271.6" stroke="#222" stroke-width="0.8"/>
<text x="368.98" y="279.4" font-size="7" font-weight="bold" text-anchor="middle" fill="#222" font-family="Liberation Sans, sans-serif" >20</text>
<line x1="407.8" y1="268.6" x2="407.8" y2="271.6" stroke="#222" stroke-width="0.8"/>
<text x="407.82" y="279.4" font-size="7" font-weight="bold" text-anchor="middle" fill="#222" font-family="Liberation Sans, sans-serif" >30</text>
<line x1="446.7" y1="268.6" x2="446.7" y2="271.6" stroke="#222" stroke-width="0.8"/>
<text x="446.66" y="279.4" font-size="7" font-weight="bold" text-anchor="middle" fill="#222" font-family="Liberation Sans, sans-serif" >40</text>
<line x1="485.5" y1="268.6" x2="485.5" y2="271.6" stroke="#222" stroke-width="0.8"/>
<text x="485.5" y="279.4" font-size="7" font-weight="bold" text-anchor="middle" fill="#222" font-family="Liberation Sans, sans-serif" >50</text>
<text x="359.3" y="292.4" font-size="8.4" font-weight="bold" fill="#222" textLength="58.7" lengthAdjust="spacingAndGlyphs" font-family="Liberation Sans, sans-serif" >Cycle Number</text>
<text transform="translate(263,253.4) rotate(-90)" font-size="7.8" font-weight="bold" fill="#222" textLength="114" lengthAdjust="spacingAndGlyphs" font-family="Liberation Sans, sans-serif">Specific Capacity (mAh/g-S)</text>
<polyline points="295.2,235.1 299.1,237.7 303.0,239.4 306.8,242.0 310.7,242.8 314.6,243.2 318.5,243.7 322.4,244.0 326.3,244.2 330.1,244.5 334.0,244.9 337.9,245.2 341.8,245.6 345.7,245.9 349.6,246.3 353.4,246.8 357.3,247.3 361.2,247.8 365.1,248.3 369.0,248.8 372.9,249.5 376.7,250.2 380.6,250.9 384.5,251.6 388.4,252.3 392.3,252.8 396.2,253.3 400.1,253.8 403.9,254.3 407.8,254.8 411.7,255.2 415.6,255.5 419.5,255.9 423.4,256.2 427.2,256.6 431.1,256.9 435.0,257.3 438.9,257.6 442.8,257.9 446.7,258.3 450.5,258.5 454.4,258.6 458.3,258.8 462.2,259.0 466.1,259.1 470.0,259.3 473.8,259.5 477.7,259.7 481.6,259.8 485.5,260.0" fill="none" stroke="#f01890" stroke-width="0.6"/>
<circle cx="295.2" cy="235.1" r="1.9" fill="#f01890"/>
<circle cx="299.1" cy="237.7" r="1.9" fill="#f01890"/>
<circle cx="303.0" cy="239.4" r="1.9" fill="#f01890"/>
<circle cx="306.8" cy="242.0" r="1.9" fill="#f01890"/>
<circle cx="310.7" cy="242.8" r="1.9" fill="#f01890"/>
<circle cx="314.6" cy="243.2" r="1.9" fill="#f01890"/>
<circle cx="318.5" cy="243.7" r="1.9" fill="#f01890"/>
<circle cx="322.4" cy="244.0" r="1.9" fill="#f01890"/>
<circle cx="326.3" cy="244.2" r="1.9" fill="#f01890"/>
<circle cx="330.1" cy="244.5" r="1.9" fill="#f01890"/>
<circle cx="334.0" cy="244.9" r="1.9" fill="#f01890"/>
<circle cx="337.9" cy="245.2" r="1.9" fill="#f01890"/>
<circle cx="341.8" cy="245.6" r="1.9" fill="#f01890"/>
<circle cx="345.7" cy="245.9" r="1.9" fill="#f01890"/>
<circle cx="349.6" cy="246.3" r="1.9" fill="#f01890"/>
<circle cx="353.4" cy="246.8" r="1.9" fill="#f01890"/>
<circle cx="357.3" cy="247.3" r="1.9" fill="#f01890"/>
<circle cx="361.2" cy="247.8" r="1.9" fill="#f01890"/>
<circle cx="365.1" cy="248.3" r="1.9" fill="#f01890"/>
<circle cx="369.0" cy="248.8" r="1.9" fill="#f01890"/>
<circle cx="372.9" cy="249.5" r="1.9" fill="#f01890"/>
<circle cx="376.7" cy="250.2" r="1.9" fill="#f01890"/>
<circle cx="380.6" cy="250.9" r="1.9" fill="#f01890"/>
<circle cx="384.5" cy="251.6" r="1.9" fill="#f01890"/>
<circle cx="388.4" cy="252.3" r="1.9" fill="#f01890"/>
<circle cx="392.3" cy="252.8" r="1.9" fill="#f01890"/>
<circle cx="396.2" cy="253.3" r="1.9" fill="#f01890"/>
<circle cx="400.1" cy="253.8" r="1.9" fill="#f01890"/>
<circle cx="403.9" cy="254.3" r="1.9" fill="#f01890"/>
<circle cx="407.8" cy="254.8" r="1.9" fill="#f01890"/>
<circle cx="411.7" cy="255.2" r="1.9" fill="#f01890"/>
<circle cx="415.6" cy="255.5" r="1.9" fill="#f01890"/>
<circle cx="419.5" cy="255.9" r="1.9" fill="#f01890"/>
<circle cx="423.4" cy="256.2" r="1.9" fill="#f01890"/>
<circle cx="427.2" cy="256.6" r="1.9" fill="#f01890"/>
<circle cx="431.1" cy="256.9" r="1.9" fill="#f01890"/>
<circle cx="435.0" cy="257.3" r="1.9" fill="#f01890"/>
<circle cx="438.9" cy="257.6" r="1.9" fill="#f01890"/>
<circle cx="442.8" cy="257.9" r="1.9" fill="#f01890"/>
<circle cx="446.7" cy="258.3" r="1.9" fill="#f01890"/>
<circle cx="450.5" cy="258.5" r="1.9" fill="#f01890"/>
<circle cx="454.4" cy="258.6" r="1.9" fill="#f01890"/>
<circle cx="458.3" cy="258.8" r="1.9" fill="#f01890"/>
<circle cx="462.2" cy="259.0" r="1.9" fill="#f01890"/>
<circle cx="466.1" cy="259.1" r="1.9" fill="#f01890"/>
<circle cx="470.0" cy="259.3" r="1.9" fill="#f01890"/>
<circle cx="473.8" cy="259.5" r="1.9" fill="#f01890"/>
<circle cx="477.7" cy="259.7" r="1.9" fill="#f01890"/>
<circle cx="481.6" cy="259.8" r="1.9" fill="#f01890"/>
<circle cx="485.5" cy="260.0" r="1.9" fill="#f01890"/>
<polyline points="295.2,170.6 299.1,213.6 303.0,235.1 306.8,242.0 310.7,248.8 314.6,254.8 318.5,258.3 322.4,260.9 326.3,262.2 330.1,263.4 334.0,263.9 337.9,264.3 341.8,264.6 345.7,264.9 349.6,265.2 353.4,265.2 357.3,265.3 361.2,265.4 365.1,265.5 369.0,265.6 372.9,265.6 376.7,265.7 380.6,265.7 384.5,265.8 388.4,265.8 392.3,265.8 396.2,265.9 400.1,265.9 403.9,266.0 407.8,266.0 411.7,266.1 415.6,266.1 419.5,266.2 423.4,266.2 427.2,266.2 431.1,266.3 435.0,266.3 438.9,266.4 442.8,266.4 446.7,266.5 450.5,266.5 454.4,266.5 458.3,266.6 462.2,266.6 466.1,266.7 470.0,266.7 473.8,266.8 477.7,266.8 481.6,266.8 485.5,266.9" fill="none" stroke="#801010" stroke-width="0.6"/>
<circle cx="295.2" cy="170.6" r="1.9" fill="#801010"/>
<circle cx="299.1" cy="213.6" r="1.9" fill="#801010"/>
<circle cx="303.0" cy="235.1" r="1.9" fill="#801010"/>
<circle cx="306.8" cy="242.0" r="1.9" fill="#801010"/>
<circle cx="310.7" cy="248.8" r="1.9" fill="#801010"/>
<circle cx="314.6" cy="254.8" r="1.9" fill="#801010"/>
<circle cx="318.5" cy="258.3" r="1.9" fill="#801010"/>
<circle cx="322.4" cy="260.9" r="1.9" fill="#801010"/>
<circle cx="326.3" cy="262.2" r="1.9" fill="#801010"/>
<circle cx="330.1" cy="263.4" r="1.9" fill="#801010"/>
<circle cx="334.0" cy="263.9" r="1.9" fill="#801010"/>
<circle cx="337.9" cy="264.3" r="1.9" fill="#801010"/>
<circle cx="341.8" cy="264.6" r="1.9" fill="#801010"/>
<circle cx="345.7" cy="264.9" r="1.9" fill="#801010"/>
<circle cx="349.6" cy="265.2" r="1.9" fill="#801010"/>
<circle cx="353.4" cy="265.2" r="1.9" fill="#801010"/>
<circle cx="357.3" cy="265.3" r="1.9" fill="#801010"/>
<circle cx="361.2" cy="265.4" r="1.9" fill="#801010"/>
<circle cx="365.1" cy="265.5" r="1.9" fill="#801010"/>
<circle cx="369.0" cy="265.6" r="1.9" fill="#801010"/>
<circle cx="372.9" cy="265.6" r="1.9" fill="#801010"/>
<circle cx="376.7" cy="265.7" r="1.9" fill="#801010"/>
<circle cx="380.6" cy="265.7" r="1.9" fill="#801010"/>
<circle cx="384.5" cy="265.8" r="1.9" fill="#801010"/>
<circle cx="388.4" cy="265.8" r="1.9" fill="#801010"/>
<circle cx="392.3" cy="265.8" r="1.9" fill="#801010"/>
<circle cx="396.2" cy="265.9" r="1.9" fill="#801010"/>
<circle cx="400.1" cy="265.9" r="1.9" fill="#801010"/>
<circle cx="403.9" cy="266.0" r="1.9" fill="#801010"/>
<circle cx="407.8" cy="266.0" r="1.9" fill="#801010"/>
<circle cx="411.7" cy="266.1" r="1.9" fill="#801010"/>
<circle cx="415.6" cy="266.1" r="1.9" fill="#801010"/>
<circle cx="419.5" cy="266.2" r="1.9" fill="#801010"/>
<circle cx="423.4" cy="266.2" r="1.9" fill="#801010"/>
<circle cx="427.2" cy="266.2" r="1.9" fill="#801010"/>
<circle cx="431.1" cy="266.3" r="1.9" fill="#801010"/>
<circle cx="435.0" cy="266.3" r="1.9" fill="#801010"/>
<circle cx="438.9" cy="266.4" r="1.9" fill="#801010"/>
<circle cx="442.8" cy="266.4" r="1.9" fill="#801010"/>
<circle cx="446.7" cy="266.5" r="1.9" fill="#801010"/>
<circle cx="450.5" cy="266.5" r="1.9" fill="#801010"/>
<circle cx="454.4" cy="266.5" r="1.9" fill="#801010"/>
<circle cx="458.3" cy="266.6" r="1.9" fill="#801010"/>
<circle cx="462.2" cy="266.6" r="1.9" fill="#801010"/>
<circle cx="466.1" cy="266.7" r="1.9" fill="#801010"/>
<circle cx="470.0" cy="266.7" r="1.9" fill="#801010"/>
<circle cx="473.8" cy="266.8" r="1.9" fill="#801010"/>
<circle cx="477.7" cy="266.8" r="1.9" fill="#801010"/>
<circle cx="481.6" cy="266.8" r="1.9" fill="#801010"/>
<circle cx="485.5" cy="266.9" r="1.9" fill="#801010"/>
<polyline points="295.2,198.1 299.1,213.6 303.0,221.3 306.8,225.6 310.7,228.2 314.6,229.8 318.5,231.3 322.4,232.8 326.3,234.4 330.1,235.9 334.0,236.6 337.9,237.3 341.8,238.0 345.7,238.7 349.6,239.4 353.4,239.9 357.3,240.4 361.2,240.9 365.1,241.4 369.0,242.0 372.9,242.2 376.7,242.5 380.6,242.7 384.5,243.0 388.4,243.2 392.3,243.5 396.2,243.8 400.1,244.0 403.9,244.3 407.8,244.5 411.7,244.8 415.6,245.1 419.5,245.3 423.4,245.6 427.2,245.8 431.1,246.1 435.0,246.3 438.9,246.6 442.8,246.9 446.7,247.1 450.5,247.4 454.4,247.6 458.3,247.9 462.2,248.1 466.1,248.4 470.0,248.7 473.8,248.9 477.7,249.2 481.6,249.4 485.5,249.7" fill="none" stroke="#102080" stroke-width="0.6"/>
<polygon points="295.2,195.7 297.4,198.1 295.2,200.5 293.0,198.1" fill="#102080"/>
<polygon points="299.1,211.2 301.3,213.6 299.1,216.0 296.9,213.6" fill="#102080"/>
<polygon points="303.0,218.9 305.2,221.3 303.0,223.7 300.8,221.3" fill="#102080"/>
<polygon points="306.8,223.2 309.0,225.6 306.8,228.0 304.6,225.6" fill="#102080"/>
<polygon points="310.7,225.8 312.9,228.2 310.7,230.6 308.5,228.2" fill="#102080"/>
<polygon points="314.6,227.4 316.8,229.8 314.6,232.2 312.4,229.8" fill="#102080"/>
<polygon points="318.5,228.9 320.7,231.3 318.5,233.7 316.3,231.3" fill="#102080"/>
<polygon points="322.4,230.4 324.6,232.8 322.4,235.2 320.2,232.8" fill="#102080"/>
<polygon points="326.3,232.0 328.5,234.4 326.3,236.8 324.1,234.4" fill="#102080"/>
<polygon points="330.1,233.5 332.3,235.9 330.1,238.3 327.9,235.9" fill="#102080"/>
<polygon points="334.0,234.2 336.2,236.6 334.0,239.0 331.8,236.6" fill="#102080"/>
<polygon points="337.9,234.9 340.1,237.3 337.9,239.7 335.7,237.3" fill="#102080"/>
<polygon points="341.8,235.6 344.0,238.0 341.8,240.4 339.6,238.0" fill="#102080"/>
<polygon points="345.7,236.3 347.9,238.7 345.7,241.1 343.5,238.7" fill="#102080"/>
<polygon points="349.6,237.0 351.8,239.4 349.6,241.8 347.4,239.4" fill="#102080"/>
<polygon points="353.4,237.5 355.6,239.9 353.4,242.3 351.2,239.9" fill="#102080"/>
<polygon points="357.3,238.0 359.5,240.4 357.3,242.8 355.1,240.4" fill="#102080"/>
<polygon points="361.2,238.5 363.4,240.9 361.2,243.3 359.0,240.9" fill="#102080"/>
<polygon points="365.1,239.0 367.3,241.4 365.1,243.8 362.9,241.4" fill="#102080"/>
<polygon points="369.0,239.6 371.2,242.0 369.0,244.4 366.8,242.0" fill="#102080"/>
<polygon points="372.9,239.8 375.1,242.2 372.9,244.6 370.7,242.2" fill="#102080"/>
<polygon points="376.7,240.1 378.9,242.5 376.7,244.9 374.5,242.5" fill="#102080"/>
<polygon points="380.6,240.3 382.8,242.7 380.6,245.1 378.4,242.7" fill="#102080"/>
<polygon points="384.5,240.6 386.7,243.0 384.5,245.4 382.3,243.0" fill="#102080"/>
<polygon points="388.4,240.8 390.6,243.2 388.4,245.6 386.2,243.2" fill="#102080"/>
<polygon points="392.3,241.1 394.5,243.5 392.3,245.9 390.1,243.5" fill="#102080"/>
<polygon points="396.2,241.4 398.4,243.8 396.2,246.2 394.0,243.8" fill="#102080"/>
<polygon points="400.1,241.6 402.3,244.0 400.1,246.4 397.9,244.0" fill="#102080"/>
<polygon points="403.9,241.9 406.1,244.3 403.9,246.7 401.7,244.3" fill="#102080"/>
<polygon points="407.8,242.1 410.0,244.5 407.8,246.9 405.6,244.5" fill="#102080"/>
<polygon points="411.7,242.4 413.9,244.8 411.7,247.2 409.5,244.8" fill="#102080"/>
<polygon points="415.6,242.7 417.8,245.1 415.6,247.5 413.4,245.1" fill="#102080"/>
<polygon points="419.5,242.9 421.7,245.3 419.5,247.7 417.3,245.3" fill="#102080"/>
<polygon points="423.4,243.2 425.6,245.6 423.4,248.0 421.2,245.6" fill="#102080"/>
<polygon points="427.2,243.4 429.4,245.8 427.2,248.2 425.0,245.8" fill="#102080"/>
<polygon points="431.1,243.7 433.3,246.1 431.1,248.5 428.9,246.1" fill="#102080"/>
<polygon points="435.0,243.9 437.2,246.3 435.0,248.7 432.8,246.3" fill="#102080"/>
<polygon points="438.9,244.2 441.1,246.6 438.9,249.0 436.7,246.6" fill="#102080"/>
<polygon points="442.8,244.5 445.0,246.9 442.8,249.3 440.6,246.9" fill="#102080"/>
<polygon points="446.7,244.7 448.9,247.1 446.7,249.5 444.5,247.1" fill="#102080"/>
<polygon points="450.5,245.0 452.7,247.4 450.5,249.8 448.3,247.4" fill="#102080"/>
<polygon points="454.4,245.2 456.6,247.6 454.4,250.0 452.2,247.6" fill="#102080"/>
<polygon points="458.3,245.5 460.5,247.9 458.3,250.3 456.1,247.9" fill="#102080"/>
<polygon points="462.2,245.7 464.4,248.1 462.2,250.5 460.0,248.1" fill="#102080"/>
<polygon points="466.1,246.0 468.3,248.4 466.1,250.8 463.9,248.4" fill="#102080"/>
<polygon points="470.0,246.3 472.2,248.7 470.0,251.1 467.8,248.7" fill="#102080"/>
<polygon points="473.8,246.5 476.0,248.9 473.8,251.3 471.6,248.9" fill="#102080"/>
<polygon points="477.7,246.8 479.9,249.2 477.7,251.6 475.5,249.2" fill="#102080"/>
<polygon points="481.6,247.0 483.8,249.4 481.6,251.8 479.4,249.4" fill="#102080"/>
<polygon points="485.5,247.3 487.7,249.7 485.5,252.1 483.3,249.7" fill="#102080"/>
<polyline points="295.2,190.4 299.1,212.7 303.0,218.8 306.8,222.6 310.7,226.5 314.6,227.9 318.5,229.2 322.4,230.6 326.3,232.0 330.1,233.4 334.0,234.0 337.9,234.6 341.8,235.2 345.7,235.8 349.6,236.4 353.4,237.0 357.3,237.6 361.2,238.2 365.1,238.8 369.0,239.4 372.9,239.7 376.7,240.1 380.6,240.4 384.5,240.8 388.4,241.1 392.3,241.4 396.2,241.8 400.1,242.1 403.9,242.5 407.8,242.8 411.7,243.1 415.6,243.3 419.5,243.6 423.4,243.8 427.2,244.1 431.1,244.4 435.0,244.6 438.9,244.9 442.8,245.1 446.7,245.4 450.5,245.7 454.4,245.9 458.3,246.2 462.2,246.4 466.1,246.7 470.0,246.9 473.8,247.2 477.7,247.5 481.6,247.7 485.5,248.0" fill="none" stroke="#808020" stroke-width="0.6"/>
<polygon points="297.5,190.4 293.3,188.2 293.3,192.6" fill="#808020"/>
<polygon points="301.4,212.7 297.2,210.5 297.2,214.9" fill="#808020"/>
<polygon points="305.3,218.8 301.1,216.6 301.1,221.0" fill="#808020"/>
<polygon points="309.1,222.6 304.9,220.4 304.9,224.8" fill="#808020"/>
<polygon points="313.0,226.5 308.8,224.3 308.8,228.7" fill="#808020"/>
<polygon points="316.9,227.9 312.7,225.7 312.7,230.1" fill="#808020"/>
<polygon points="320.8,229.2 316.6,227.0 316.6,231.4" fill="#808020"/>
<polygon points="324.7,230.6 320.5,228.4 320.5,232.8" fill="#808020"/>
<polygon points="328.6,232.0 324.4,229.8 324.4,234.2" fill="#808020"/>
<polygon points="332.4,233.4 328.2,231.2 328.2,235.6" fill="#808020"/>
<polygon points="336.3,234.0 332.1,231.8 332.1,236.2" fill="#808020"/>
<polygon points="340.2,234.6 336.0,232.4 336.0,236.8" fill="#808020"/>
<polygon points="344.1,235.2 339.9,233.0 339.9,237.4" fill="#808020"/>
<polygon points="348.0,235.8 343.8,233.6 343.8,238.0" fill="#808020"/>
<polygon points="351.9,236.4 347.7,234.2 347.7,238.6" fill="#808020"/>
<polygon points="355.7,237.0 351.5,234.8 351.5,239.2" fill="#808020"/>
<polygon points="359.6,237.6 355.4,235.4 355.4,239.8" fill="#808020"/>
<polygon points="363.5,238.2 359.3,236.0 359.3,240.4" fill="#808020"/>
<polygon points="367.4,238.8 363.2,236.6 363.2,241.0" fill="#808020"/>
<polygon points="371.3,239.4 367.1,237.2 367.1,241.6" fill="#808020"/>
<polygon points="375.2,239.7 371.0,237.5 371.0,241.9" fill="#808020"/>
<polygon points="379.0,240.1 374.8,237.9 374.8,242.3" fill="#808020"/>
<polygon points="382.9,240.4 378.7,238.2 378.7,242.6" fill="#808020"/>
<polygon points="386.8,240.8 382.6,238.6 382.6,243.0" fill="#808020"/>
<polygon points="390.7,241.1 386.5,238.9 386.5,243.3" fill="#808020"/>
<polygon points="394.6,241.4 390.4,239.2 390.4,243.6" fill="#808020"/>
<polygon points="398.5,241.8 394.3,239.6 394.3,244.0" fill="#808020"/>
<polygon points="402.4,242.1 398.2,239.9 398.2,244.3" fill="#808020"/>
<polygon points="406.2,242.5 402.0,240.3 402.0,244.7" fill="#808020"/>
<polygon points="410.1,242.8 405.9,240.6 405.9,245.0" fill="#808020"/>
<polygon points="414.0,243.1 409.8,240.9 409.8,245.3" fill="#808020"/>
<polygon points="417.9,243.3 413.7,241.1 413.7,245.5" fill="#808020"/>
<polygon points="421.8,243.6 417.6,241.4 417.6,245.8" fill="#808020"/>
<polygon points="425.7,243.8 421.5,241.6 421.5,246.0" fill="#808020"/>
<polygon points="429.5,244.1 425.3,241.9 425.3,246.3" fill="#808020"/>
<polygon points="433.4,244.4 429.2,242.2 429.2,246.6" fill="#808020"/>
<polygon points="437.3,244.6 433.1,242.4 433.1,246.8" fill="#808020"/>
<polygon points="441.2,244.9 437.0,242.7 437.0,247.1" fill="#808020"/>
<polygon points="445.1,245.1 440.9,242.9 440.9,247.3" fill="#808020"/>
<polygon points="449.0,245.4 444.8,243.2 444.8,247.6" fill="#808020"/>
<polygon points="452.8,245.7 448.6,243.5 448.6,247.9" fill="#808020"/>
<polygon points="456.7,245.9 452.5,243.7 452.5,248.1" fill="#808020"/>
<polygon points="460.6,246.2 456.4,244.0 456.4,248.4" fill="#808020"/>
<polygon points="464.5,246.4 460.3,244.2 460.3,248.6" fill="#808020"/>
<polygon points="468.4,246.7 464.2,244.5 464.2,248.9" fill="#808020"/>
<polygon points="472.3,246.9 468.1,244.7 468.1,249.1" fill="#808020"/>
<polygon points="476.1,247.2 471.9,245.0 471.9,249.4" fill="#808020"/>
<polygon points="480.0,247.5 475.8,245.3 475.8,249.7" fill="#808020"/>
<polygon points="483.9,247.7 479.7,245.5 479.7,249.9" fill="#808020"/>
<polygon points="487.8,248.0 483.6,245.8 483.6,250.2" fill="#808020"/>
<polyline points="295.2,180.1 299.1,210.2 303.0,217.0 306.8,221.3 310.7,225.6 314.6,227.0 318.5,228.4 322.4,229.8 326.3,231.1 330.1,232.5 334.0,233.1 337.9,233.7 341.8,234.3 345.7,234.9 349.6,235.5 353.4,236.1 357.3,236.7 361.2,237.3 365.1,237.9 369.0,238.5 372.9,238.9 376.7,239.2 380.6,239.6 384.5,239.9 388.4,240.2 392.3,240.6 396.2,240.9 400.1,241.3 403.9,241.6 407.8,242.0 411.7,242.2 415.6,242.5 419.5,242.7 423.4,243.0 427.2,243.2 431.1,243.5 435.0,243.8 438.9,244.0 442.8,244.3 446.7,244.5 450.5,244.8 454.4,245.1 458.3,245.3 462.2,245.6 466.1,245.8 470.0,246.1 473.8,246.3 477.7,246.6 481.6,246.9 485.5,247.1" fill="none" stroke="#d040b0" stroke-width="0.6"/>
<polygon points="292.9,180.1 297.1,177.9 297.1,182.3" fill="#d040b0"/>
<polygon points="296.8,210.2 301.0,208.0 301.0,212.4" fill="#d040b0"/>
<polygon points="300.7,217.0 304.9,214.8 304.9,219.2" fill="#d040b0"/>
<polygon points="304.5,221.3 308.7,219.1 308.7,223.5" fill="#d040b0"/>
<polygon points="308.4,225.6 312.6,223.4 312.6,227.8" fill="#d040b0"/>
<polygon points="312.3,227.0 316.5,224.8 316.5,229.2" fill="#d040b0"/>
<polygon points="316.2,228.4 320.4,226.2 320.4,230.6" fill="#d040b0"/>
<polygon points="320.1,229.8 324.3,227.6 324.3,232.0" fill="#d040b0"/>
<polygon points="324.0,231.1 328.2,228.9 328.2,233.3" fill="#d040b0"/>
<polygon points="327.8,232.5 332.0,230.3 332.0,234.7" fill="#d040b0"/>
<polygon points="331.7,233.1 335.9,230.9 335.9,235.3" fill="#d040b0"/>
<polygon points="335.6,233.7 339.8,231.5 339.8,235.9" fill="#d040b0"/>
<polygon points="339.5,234.3 343.7,232.1 343.7,236.5" fill="#d040b0"/>
<polygon points="343.4,234.9 347.6,232.7 347.6,237.1" fill="#d040b0"/>
<polygon points="347.3,235.5 351.5,233.3 351.5,237.7" fill="#d040b0"/>
<polygon points="351.1,236.1 355.3,233.9 355.3,238.3" fill="#d040b0"/>
<polygon points="355.0,236.7 359.2,234.5 359.2,238.9" fill="#d040b0"/>
<polygon points="358.9,237.3 363.1,235.1 363.1,239.5" fill="#d040b0"/>
<polygon points="362.8,237.9 367.0,235.7 367.0,240.1" fill="#d040b0"/>
<polygon points="366.7,238.5 370.9,236.3 370.9,240.7" fill="#d040b0"/>
<polygon points="370.6,238.9 374.8,236.7 374.8,241.1" fill="#d040b0"/>
<polygon points="374.4,239.2 378.6,237.0 378.6,241.4" fill="#d040b0"/>
<polygon points="378.3,239.6 382.5,237.4 382.5,241.8" fill="#d040b0"/>
<polygon points="382.2,239.9 386.4,237.7 386.4,242.1" fill="#d040b0"/>
<polygon points="386.1,240.2 390.3,238.0 390.3,242.4" fill="#d040b0"/>
<polygon points="390.0,240.6 394.2,238.4 394.2,242.8" fill="#d040b0"/>
<polygon points="393.9,240.9 398.1,238.7 398.1,243.1" fill="#d040b0"/>
<polygon points="397.8,241.3 402.0,239.1 402.0,243.5" fill="#d040b0"/>
<polygon points="401.6,241.6 405.8,239.4 405.8,243.8" fill="#d040b0"/>
<polygon points="405.5,242.0 409.7,239.8 409.7,244.2" fill="#d040b0"/>
<polygon points="409.4,242.2 413.6,240.0 413.6,244.4" fill="#d040b0"/>
<polygon points="413.3,242.5 417.5,240.3 417.5,244.7" fill="#d040b0"/>
<polygon points="417.2,242.7 421.4,240.5 421.4,244.9" fill="#d040b0"/>
<polygon points="421.1,243.0 425.3,240.8 425.3,245.2" fill="#d040b0"/>
<polygon points="424.9,243.2 429.1,241.0 429.1,245.4" fill="#d040b0"/>
<polygon points="428.8,243.5 433.0,241.3 433.0,245.7" fill="#d040b0"/>
<polygon points="432.7,243.8 436.9,241.6 436.9,246.0" fill="#d040b0"/>
<polygon points="436.6,244.0 440.8,241.8 440.8,246.2" fill="#d040b0"/>
<polygon points="440.5,244.3 444.7,242.1 444.7,246.5" fill="#d040b0"/>
<polygon points="444.4,244.5 448.6,242.3 448.6,246.7" fill="#d040b0"/>
<polygon points="448.2,244.8 452.4,242.6 452.4,247.0" fill="#d040b0"/>
<polygon points="452.1,245.1 456.3,242.9 456.3,247.3" fill="#d040b0"/>
<polygon points="456.0,245.3 460.2,243.1 460.2,247.5" fill="#d040b0"/>
<polygon points="459.9,245.6 464.1,243.4 464.1,247.8" fill="#d040b0"/>
<polygon points="463.8,245.8 468.0,243.6 468.0,248.0" fill="#d040b0"/>
<polygon points="467.7,246.1 471.9,243.9 471.9,248.3" fill="#d040b0"/>
<polygon points="471.5,246.3 475.7,244.1 475.7,248.5" fill="#d040b0"/>
<polygon points="475.4,246.6 479.6,244.4 479.6,248.8" fill="#d040b0"/>
<polygon points="479.3,246.9 483.5,244.7 483.5,249.1" fill="#d040b0"/>
<polygon points="483.2,247.1 487.4,244.9 487.4,249.3" fill="#d040b0"/>
<polyline points="295.2,175.8 299.1,208.4 303.0,215.3 306.8,220.5 310.7,223.9 314.6,225.6 318.5,227.3 322.4,228.5 326.3,229.6 330.1,230.8 334.0,231.5 337.9,232.2 341.8,232.8 345.7,233.5 349.6,234.2 353.4,234.9 357.3,235.6 361.2,236.3 365.1,237.0 369.0,237.7 372.9,238.0 376.7,238.3 380.6,238.7 384.5,239.0 388.4,239.4 392.3,239.7 396.2,240.1 400.1,240.4 403.9,240.8 407.8,241.1 411.7,241.4 415.6,241.6 419.5,241.9 423.4,242.1 427.2,242.4 431.1,242.6 435.0,242.9 438.9,243.2 442.8,243.4 446.7,243.7 450.5,243.9 454.4,244.2 458.3,244.4 462.2,244.7 466.1,245.0 470.0,245.2 473.8,245.5 477.7,245.7 481.6,246.0 485.5,246.3" fill="none" stroke="#108080" stroke-width="0.6"/>
<polygon points="295.2,178.1 293.0,173.9 297.4,173.9" fill="#108080"/>
<polygon points="299.1,210.7 296.9,206.5 301.3,206.5" fill="#108080"/>
<polygon points="303.0,217.6 300.8,213.4 305.2,213.4" fill="#108080"/>
<polygon points="306.8,222.8 304.6,218.6 309.0,218.6" fill="#108080"/>
<polygon points="310.7,226.2 308.5,222.0 312.9,222.0" fill="#108080"/>
<polygon points="314.6,227.9 312.4,223.7 316.8,223.7" fill="#108080"/>
<polygon points="318.5,229.6 316.3,225.4 320.7,225.4" fill="#108080"/>
<polygon points="322.4,230.8 320.2,226.6 324.6,226.6" fill="#108080"/>
<polygon points="326.3,231.9 324.1,227.7 328.5,227.7" fill="#108080"/>
<polygon points="330.1,233.1 327.9,228.9 332.3,228.9" fill="#108080"/>
<polygon points="334.0,233.8 331.8,229.6 336.2,229.6" fill="#108080"/>
<polygon points="337.9,234.5 335.7,230.3 340.1,230.3" fill="#108080"/>
<polygon points="341.8,235.1 339.6,230.9 344.0,230.9" fill="#108080"/>
<polygon points="345.7,235.8 343.5,231.6 347.9,231.6" fill="#108080"/>
<polygon points="349.6,236.5 347.4,232.3 351.8,232.3" fill="#108080"/>
<polygon points="353.4,237.2 351.2,233.0 355.6,233.0" fill="#108080"/>
<polygon points="357.3,237.9 355.1,233.7 359.5,233.7" fill="#108080"/>
<polygon points="361.2,238.6 359.0,234.4 363.4,234.4" fill="#108080"/>
<polygon points="365.1,239.3 362.9,235.1 367.3,235.1" fill="#108080"/>
<polygon points="369.0,240.0 366.8,235.8 371.2,235.8" fill="#108080"/>
<polygon points="372.9,240.3 370.7,236.1 375.1,236.1" fill="#108080"/>
<polygon points="376.7,240.6 374.5,236.4 378.9,236.4" fill="#108080"/>
<polygon points="380.6,241.0 378.4,236.8 382.8,236.8" fill="#108080"/>
<polygon points="384.5,241.3 382.3,237.1 386.7,237.1" fill="#108080"/>
<polygon points="388.4,241.7 386.2,237.5 390.6,237.5" fill="#108080"/>
<polygon points="392.3,242.0 390.1,237.8 394.5,237.8" fill="#108080"/>
<polygon points="396.2,242.4 394.0,238.2 398.4,238.2" fill="#108080"/>
<polygon points="400.1,242.7 397.9,238.5 402.3,238.5" fill="#108080"/>
<polygon points="403.9,243.1 401.7,238.9 406.1,238.9" fill="#108080"/>
<polygon points="407.8,243.4 405.6,239.2 410.0,239.2" fill="#108080"/>
<polygon points="411.7,243.7 409.5,239.5 413.9,239.5" fill="#108080"/>
<polygon points="415.6,243.9 413.4,239.7 417.8,239.7" fill="#108080"/>
<polygon points="419.5,244.2 417.3,240.0 421.7,240.0" fill="#108080"/>
<polygon points="423.4,244.4 421.2,240.2 425.6,240.2" fill="#108080"/>
<polygon points="427.2,244.7 425.0,240.5 429.4,240.5" fill="#108080"/>
<polygon points="431.1,244.9 428.9,240.7 433.3,240.7" fill="#108080"/>
<polygon points="435.0,245.2 432.8,241.0 437.2,241.0" fill="#108080"/>
<polygon points="438.9,245.5 436.7,241.3 441.1,241.3" fill="#108080"/>
<polygon points="442.8,245.7 440.6,241.5 445.0,241.5" fill="#108080"/>
<polygon points="446.7,246.0 444.5,241.8 448.9,241.8" fill="#108080"/>
<polygon points="450.5,246.2 448.3,242.0 452.7,242.0" fill="#108080"/>
<polygon points="454.4,246.5 452.2,242.3 456.6,242.3" fill="#108080"/>
<polygon points="458.3,246.7 456.1,242.5 460.5,242.5" fill="#108080"/>
<polygon points="462.2,247.0 460.0,242.8 464.4,242.8" fill="#108080"/>
<polygon points="466.1,247.3 463.9,243.1 468.3,243.1" fill="#108080"/>
<polygon points="470.0,247.5 467.8,243.3 472.2,243.3" fill="#108080"/>
<polygon points="473.8,247.8 471.6,243.6 476.0,243.6" fill="#108080"/>
<polygon points="477.7,248.0 475.5,243.8 479.9,243.8" fill="#108080"/>
<polygon points="481.6,248.3 479.4,244.1 483.8,244.1" fill="#108080"/>
<polygon points="485.5,248.6 483.3,244.4 487.7,244.4" fill="#108080"/>
<polyline points="295.2,165.5 299.1,191.2 303.0,199.8 306.8,208.4 310.7,213.6 314.6,217.0 318.5,218.8 322.4,220.5 326.3,223.0 330.1,221.3 334.0,222.2 337.9,223.0 341.8,224.3 345.7,225.6 349.6,225.9 353.4,226.2 357.3,226.5 361.2,226.8 365.1,227.1 369.0,227.3 372.9,227.7 376.7,228.0 380.6,228.4 384.5,228.7 388.4,229.1 392.3,229.4 396.2,229.8 400.1,230.1 403.9,230.4 407.8,230.8 411.7,231.5 415.6,232.2 419.5,232.8 423.4,233.5 427.2,234.2 431.1,235.1 435.0,235.9 438.9,236.8 442.8,237.7 446.7,238.5 450.5,239.0 454.4,239.6 458.3,240.1 462.2,240.6 466.1,241.1 470.0,241.6 473.8,242.1 477.7,242.6 481.6,243.2 485.5,243.7" fill="none" stroke="#2050c0" stroke-width="0.6"/>
<polygon points="295.2,163.2 293.0,167.4 297.4,167.4" fill="#2050c0"/>
<polygon points="299.1,188.9 296.9,193.2 301.3,193.2" fill="#2050c0"/>
<polygon points="303.0,197.5 300.8,201.7 305.2,201.7" fill="#2050c0"/>
<polygon points="306.8,206.1 304.6,210.3 309.0,210.3" fill="#2050c0"/>
<polygon points="310.7,211.3 308.5,215.5 312.9,215.5" fill="#2050c0"/>
<polygon points="314.6,214.7 312.4,218.9 316.8,218.9" fill="#2050c0"/>
<polygon points="318.5,216.5 316.3,220.7 320.7,220.7" fill="#2050c0"/>
<polygon points="322.4,218.2 320.2,222.4 324.6,222.4" fill="#2050c0"/>
<polygon points="326.3,220.7 324.1,224.9 328.5,224.9" fill="#2050c0"/>
<polygon points="330.1,219.0 327.9,223.2 332.3,223.2" fill="#2050c0"/>
<polygon points="334.0,219.9 331.8,224.1 336.2,224.1" fill="#2050c0"/>
<polygon points="337.9,220.7 335.7,224.9 340.1,224.9" fill="#2050c0"/>
<polygon points="341.8,222.0 339.6,226.2 344.0,226.2" fill="#2050c0"/>
<polygon points="345.7,223.3 343.5,227.5 347.9,227.5" fill="#2050c0"/>
<polygon points="349.6,223.6 347.4,227.8 351.8,227.8" fill="#2050c0"/>
<polygon points="353.4,223.9 351.2,228.1 355.6,228.1" fill="#2050c0"/>
<polygon points="357.3,224.2 355.1,228.4 359.5,228.4" fill="#2050c0"/>
<polygon points="361.2,224.5 359.0,228.7 363.4,228.7" fill="#2050c0"/>
<polygon points="365.1,224.8 362.9,229.0 367.3,229.0" fill="#2050c0"/>
<polygon points="369.0,225.0 366.8,229.2 371.2,229.2" fill="#2050c0"/>
<polygon points="372.9,225.4 370.7,229.6 375.1,229.6" fill="#2050c0"/>
<polygon points="376.7,225.7 374.5,229.9 378.9,229.9" fill="#2050c0"/>
<polygon points="380.6,226.1 378.4,230.3 382.8,230.3" fill="#2050c0"/>
<polygon points="384.5,226.4 382.3,230.6 386.7,230.6" fill="#2050c0"/>
<polygon points="388.4,226.8 386.2,231.0 390.6,231.0" fill="#2050c0"/>
<polygon points="392.3,227.1 390.1,231.3 394.5,231.3" fill="#2050c0"/>
<polygon points="396.2,227.5 394.0,231.7 398.4,231.7" fill="#2050c0"/>
<polygon points="400.1,227.8 397.9,232.0 402.3,232.0" fill="#2050c0"/>
<polygon points="403.9,228.1 401.7,232.3 406.1,232.3" fill="#2050c0"/>
<polygon points="407.8,228.5 405.6,232.7 410.0,232.7" fill="#2050c0"/>
<polygon points="411.7,229.2 409.5,233.4 413.9,233.4" fill="#2050c0"/>
<polygon points="415.6,229.9 413.4,234.1 417.8,234.1" fill="#2050c0"/>
<polygon points="419.5,230.5 417.3,234.7 421.7,234.7" fill="#2050c0"/>
<polygon points="423.4,231.2 421.2,235.4 425.6,235.4" fill="#2050c0"/>
<polygon points="427.2,231.9 425.0,236.1 429.4,236.1" fill="#2050c0"/>
<polygon points="431.1,232.8 428.9,237.0 433.3,237.0" fill="#2050c0"/>
<polygon points="435.0,233.6 432.8,237.8 437.2,237.8" fill="#2050c0"/>
<polygon points="438.9,234.5 436.7,238.7 441.1,238.7" fill="#2050c0"/>
<polygon points="442.8,235.4 440.6,239.6 445.0,239.6" fill="#2050c0"/>
<polygon points="446.7,236.2 444.5,240.4 448.9,240.4" fill="#2050c0"/>
<polygon points="450.5,236.7 448.3,240.9 452.7,240.9" fill="#2050c0"/>
<polygon points="454.4,237.3 452.2,241.5 456.6,241.5" fill="#2050c0"/>
<polygon points="458.3,237.8 456.1,242.0 460.5,242.0" fill="#2050c0"/>
<polygon points="462.2,238.3 460.0,242.5 464.4,242.5" fill="#2050c0"/>
<polygon points="466.1,238.8 463.9,243.0 468.3,243.0" fill="#2050c0"/>
<polygon points="470.0,239.3 467.8,243.5 472.2,243.5" fill="#2050c0"/>
<polygon points="473.8,239.8 471.6,244.0 476.0,244.0" fill="#2050c0"/>
<polygon points="477.7,240.3 475.5,244.5 479.9,244.5" fill="#2050c0"/>
<polygon points="481.6,240.9 479.4,245.1 483.8,245.1" fill="#2050c0"/>
<polygon points="485.5,241.4 483.3,245.6 487.7,245.6" fill="#2050c0"/>
<polyline points="295.2,155.2 299.1,182.7 303.0,189.5 306.8,195.5 310.7,199.8 314.6,203.3 318.5,203.3 322.4,205.0 326.3,208.4 330.1,209.3 334.0,210.2 337.9,211.0 341.8,214.0 345.7,217.0 349.6,217.0 353.4,215.3 357.3,218.8 361.2,226.5 365.1,223.9 369.0,220.5 372.9,220.5 376.7,220.5 380.6,221.3 384.5,222.2 388.4,224.8 392.3,225.2 396.2,225.6 400.1,225.2 403.9,224.8 407.8,225.6 411.7,228.2 415.6,230.8 419.5,233.4 423.4,232.9 427.2,232.5 431.1,234.2 435.0,235.9 438.9,236.2 442.8,236.5 446.7,236.8 450.5,237.4 454.4,237.9 458.3,238.5 462.2,235.9 466.1,238.5 470.0,239.4 473.8,240.2 477.7,236.8 481.6,238.1 485.5,239.4" fill="none" stroke="#f22" stroke-width="0.6"/>
<circle cx="295.2" cy="155.2" r="1.9" fill="#f22"/>
<circle cx="299.1" cy="182.7" r="1.9" fill="#f22"/>
<circle cx="303.0" cy="189.5" r="1.9" fill="#f22"/>
<circle cx="306.8" cy="195.5" r="1.9" fill="#f22"/>
<circle cx="310.7" cy="199.8" r="1.9" fill="#f22"/>
<circle cx="314.6" cy="203.3" r="1.9" fill="#f22"/>
<circle cx="318.5" cy="203.3" r="1.9" fill="#f22"/>
<circle cx="322.4" cy="205.0" r="1.9" fill="#f22"/>
<circle cx="326.3" cy="208.4" r="1.9" fill="#f22"/>
<circle cx="330.1" cy="209.3" r="1.9" fill="#f22"/>
<circle cx="334.0" cy="210.2" r="1.9" fill="#f22"/>
<circle cx="337.9" cy="211.0" r="1.9" fill="#f22"/>
<circle cx="341.8" cy="214.0" r="1.9" fill="#f22"/>
<circle cx="345.7" cy="217.0" r="1.9" fill="#f22"/>
<circle cx="349.6" cy="217.0" r="1.9" fill="#f22"/>
<circle cx="353.4" cy="215.3" r="1.9" fill="#f22"/>
<circle cx="357.3" cy="218.8" r="1.9" fill="#f22"/>
<circle cx="361.2" cy="226.5" r="1.9" fill="#f22"/>
<circle cx="365.1" cy="223.9" r="1.9" fill="#f22"/>
<circle cx="369.0" cy="220.5" r="1.9" fill="#f22"/>
<circle cx="372.9" cy="220.5" r="1.9" fill="#f22"/>
<circle cx="376.7" cy="220.5" r="1.9" fill="#f22"/>
<circle cx="380.6" cy="221.3" r="1.9" fill="#f22"/>
<circle cx="384.5" cy="222.2" r="1.9" fill="#f22"/>
<circle cx="388.4" cy="224.8" r="1.9" fill="#f22"/>
<circle cx="392.3" cy="225.2" r="1.9" fill="#f22"/>
<circle cx="396.2" cy="225.6" r="1.9" fill="#f22"/>
<circle cx="400.1" cy="225.2" r="1.9" fill="#f22"/>
<circle cx="403.9" cy="224.8" r="1.9" fill="#f22"/>
<circle cx="407.8" cy="225.6" r="1.9" fill="#f22"/>
<circle cx="411.7" cy="228.2" r="1.9" fill="#f22"/>
<circle cx="415.6" cy="230.8" r="1.9" fill="#f22"/>
<circle cx="419.5" cy="233.4" r="1.9" fill="#f22"/>
<circle cx="423.4" cy="232.9" r="1.9" fill="#f22"/>
<circle cx="427.2" cy="232.5" r="1.9" fill="#f22"/>
<circle cx="431.1" cy="234.2" r="1.9" fill="#f22"/>
<circle cx="435.0" cy="235.9" r="1.9" fill="#f22"/>
<circle cx="438.9" cy="236.2" r="1.9" fill="#f22"/>
<circle cx="442.8" cy="236.5" r="1.9" fill="#f22"/>
<circle cx="446.7" cy="236.8" r="1.9" fill="#f22"/>
<circle cx="450.5" cy="237.4" r="1.9" fill="#f22"/>
<circle cx="454.4" cy="237.9" r="1.9" fill="#f22"/>
<circle cx="458.3" cy="238.5" r="1.9" fill="#f22"/>
<circle cx="462.2" cy="235.9" r="1.9" fill="#f22"/>
<circle cx="466.1" cy="238.5" r="1.9" fill="#f22"/>
<circle cx="470.0" cy="239.4" r="1.9" fill="#f22"/>
<circle cx="473.8" cy="240.2" r="1.9" fill="#f22"/>
<circle cx="477.7" cy="236.8" r="1.9" fill="#f22"/>
<circle cx="481.6" cy="238.1" r="1.9" fill="#f22"/>
<circle cx="485.5" cy="239.4" r="1.9" fill="#f22"/>
<polyline points="295.2,132.8 299.1,152.6 303.0,157.7 306.8,162.0 310.7,163.7 314.6,167.2 318.5,169.8 322.4,172.3 326.3,174.9 330.1,176.6 334.0,178.4 337.9,180.1 341.8,183.1 345.7,186.1 349.6,186.5 353.4,187.0 357.3,188.7 361.2,190.4 365.1,190.8 369.0,191.2 372.9,192.5 376.7,193.8 380.6,194.4 384.5,195.0 388.4,195.5 392.3,196.1 396.2,196.7 400.1,197.3 403.9,198.1 407.8,199.0 411.7,199.6 415.6,200.1 419.5,200.7 423.4,200.7 427.2,200.7 431.1,201.6 435.0,202.4 438.9,203.3 442.8,204.1 446.7,205.0 450.5,205.3 454.4,205.7 458.3,206.0 462.2,206.4 466.1,206.7 470.0,207.1 473.8,207.4 477.7,207.8 481.6,208.1 485.5,208.4" fill="none" stroke="#000" stroke-width="0.6"/>
<rect x="293.3" y="130.9" width="3.8" height="3.8" fill="#000"/>
<rect x="297.2" y="150.7" width="3.8" height="3.8" fill="#000"/>
<rect x="301.1" y="155.8" width="3.8" height="3.8" fill="#000"/>
<rect x="304.9" y="160.1" width="3.8" height="3.8" fill="#000"/>
<rect x="308.8" y="161.8" width="3.8" height="3.8" fill="#000"/>
<rect x="312.7" y="165.3" width="3.8" height="3.8" fill="#000"/>
<rect x="316.6" y="167.9" width="3.8" height="3.8" fill="#000"/>
<rect x="320.5" y="170.4" width="3.8" height="3.8" fill="#000"/>
<rect x="324.4" y="173.0" width="3.8" height="3.8" fill="#000"/>
<rect x="328.2" y="174.7" width="3.8" height="3.8" fill="#000"/>
<rect x="332.1" y="176.5" width="3.8" height="3.8" fill="#000"/>
<rect x="336.0" y="178.2" width="3.8" height="3.8" fill="#000"/>
<rect x="339.9" y="181.2" width="3.8" height="3.8" fill="#000"/>
<rect x="343.8" y="184.2" width="3.8" height="3.8" fill="#000"/>
<rect x="347.7" y="184.6" width="3.8" height="3.8" fill="#000"/>
<rect x="351.5" y="185.1" width="3.8" height="3.8" fill="#000"/>
<rect x="355.4" y="186.8" width="3.8" height="3.8" fill="#000"/>
<rect x="359.3" y="188.5" width="3.8" height="3.8" fill="#000"/>
<rect x="363.2" y="188.9" width="3.8" height="3.8" fill="#000"/>
<rect x="367.1" y="189.3" width="3.8" height="3.8" fill="#000"/>
<rect x="371.0" y="190.6" width="3.8" height="3.8" fill="#000"/>
<rect x="374.8" y="191.9" width="3.8" height="3.8" fill="#000"/>
<rect x="378.7" y="192.5" width="3.8" height="3.8" fill="#000"/>
<rect x="382.6" y="193.1" width="3.8" height="3.8" fill="#000"/>
<rect x="386.5" y="193.6" width="3.8" height="3.8" fill="#000"/>
<rect x="390.4" y="194.2" width="3.8" height="3.8" fill="#000"/>
<rect x="394.3" y="194.8" width="3.8" height="3.8" fill="#000"/>
<rect x="398.2" y="195.4" width="3.8" height="3.8" fill="#000"/>
<rect x="402.0" y="196.2" width="3.8" height="3.8" fill="#000"/>
<rect x="405.9" y="197.1" width="3.8" height="3.8" fill="#000"/>
<rect x="409.8" y="197.7" width="3.8" height="3.8" fill="#000"/>
<rect x="413.7" y="198.2" width="3.8" height="3.8" fill="#000"/>
<rect x="417.6" y="198.8" width="3.8" height="3.8" fill="#000"/>
<rect x="421.5" y="198.8" width="3.8" height="3.8" fill="#000"/>
<rect x="425.3" y="198.8" width="3.8" height="3.8" fill="#000"/>
<rect x="429.2" y="199.7" width="3.8" height="3.8" fill="#000"/>
<rect x="433.1" y="200.5" width="3.8" height="3.8" fill="#000"/>
<rect x="437.0" y="201.4" width="3.8" height="3.8" fill="#000"/>
<rect x="440.9" y="202.2" width="3.8" height="3.8" fill="#000"/>
<rect x="444.8" y="203.1" width="3.8" height="3.8" fill="#000"/>
<rect x="448.6" y="203.4" width="3.8" height="3.8" fill="#000"/>
<rect x="452.5" y="203.8" width="3.8" height="3.8" fill="#000"/>
<rect x="456.4" y="204.1" width="3.8" height="3.8" fill="#000"/>
<rect x="460.3" y="204.5" width="3.8" height="3.8" fill="#000"/>
<rect x="464.2" y="204.8" width="3.8" height="3.8" fill="#000"/>
<rect x="468.1" y="205.2" width="3.8" height="3.8" fill="#000"/>
<rect x="471.9" y="205.5" width="3.8" height="3.8" fill="#000"/>
<rect x="475.8" y="205.9" width="3.8" height="3.8" fill="#000"/>
<rect x="479.7" y="206.2" width="3.8" height="3.8" fill="#000"/>
<rect x="483.6" y="206.5" width="3.8" height="3.8" fill="#000"/>
<line x1="413" y1="118.0" x2="428" y2="118.0" stroke="#000" stroke-width="0.6"/>
<rect x="418.6" y="116.1" width="3.8" height="3.8" fill="#000"/>
<text x="431" y="120.4" font-size="6.8" font-weight="bold" text-anchor="start" fill="#222" font-family="Liberation Sans, sans-serif" >S_C01</text>
<line x1="413" y1="127.1" x2="428" y2="127.1" stroke="#f22" stroke-width="0.6"/>
<circle cx="420.5" cy="127.1" r="1.9" fill="#f22"/>
<text x="431" y="129.5" font-size="6.8" font-weight="bold" text-anchor="start" fill="#222" font-family="Liberation Sans, sans-serif" >S_C02</text>
<line x1="413" y1="136.2" x2="428" y2="136.2" stroke="#2050c0" stroke-width="0.6"/>
<polygon points="420.5,133.9 418.3,138.1 422.7,138.1" fill="#2050c0"/>
<text x="431" y="138.6" font-size="6.8" font-weight="bold" text-anchor="start" fill="#222" font-family="Liberation Sans, sans-serif" >S_C03</text>
<line x1="413" y1="145.3" x2="428" y2="145.3" stroke="#108080" stroke-width="0.6"/>
<polygon points="420.5,147.6 418.3,143.4 422.7,143.4" fill="#108080"/>
<text x="431" y="147.70000000000002" font-size="6.8" font-weight="bold" text-anchor="start" fill="#222" font-family="Liberation Sans, sans-serif" >S_C04</text>
<line x1="413" y1="154.4" x2="428" y2="154.4" stroke="#d040b0" stroke-width="0.6"/>
<polygon points="418.2,154.4 422.4,152.2 422.4,156.6" fill="#d040b0"/>
<text x="431" y="156.8" font-size="6.8" font-weight="bold" text-anchor="start" fill="#222" font-family="Liberation Sans, sans-serif" >S_C05</text>
<line x1="413" y1="163.5" x2="428" y2="163.5" stroke="#808020" stroke-width="0.6"/>
<polygon points="422.8,163.5 418.6,161.3 418.6,165.7" fill="#808020"/>
<text x="431" y="165.9" font-size="6.8" font-weight="bold" text-anchor="start" fill="#222" font-family="Liberation Sans, sans-serif" >S_C06</text>
<line x1="413" y1="172.6" x2="428" y2="172.6" stroke="#102080" stroke-width="0.6"/>
<polygon points="420.5,170.2 422.7,172.6 420.5,175.0 418.3,172.6" fill="#102080"/>
<text x="431" y="175.0" font-size="6.8" font-weight="bold" text-anchor="start" fill="#222" font-family="Liberation Sans, sans-serif" >S_C07</text>
<line x1="413" y1="181.7" x2="428" y2="181.7" stroke="#801010" stroke-width="0.6"/>
<circle cx="420.5" cy="181.7" r="1.9" fill="#801010"/>
<text x="431" y="184.1" font-size="6.8" font-weight="bold" text-anchor="start" fill="#222" font-family="Liberation Sans, sans-serif" >MPC</text>
<line x1="413" y1="190.8" x2="428" y2="190.8" stroke="#f01890" stroke-width="0.6"/>
<circle cx="420.5" cy="190.8" r="1.9" fill="#f01890"/>
<text x="431" y="193.20000000000002" font-size="6.8" font-weight="bold" text-anchor="start" fill="#222" font-family="Liberation Sans, sans-serif" >WVA-1500</text>
<text x="4.6" y="325.6" font-size="30.5" font-weight="bold" font-family="Liberation Serif, serif" fill="#111">(c)</text>
<rect x="22.5" y="348.3" width="2" height="1.3" fill="#999"/><rect x="29" y="348.3" width="2" height="1.3" fill="#999"/>
<circle cx="68.8" cy="386.6" r="45.3" fill="url(#specW)" stroke="#000" stroke-width="1.6"/>
<ellipse cx="59.3" cy="352.1" rx="10" ry="7.5" fill="#fff" stroke="#000" stroke-width="0.9"/>
<ellipse cx="63.0" cy="367.1" rx="2.8" ry="4.4" fill="#fff" stroke="#000" stroke-width="0.9"/>
<ellipse cx="44.3" cy="367.40000000000003" rx="13.5" ry="10.5" fill="#fff" stroke="#000" stroke-width="0.9"/>
<ellipse cx="77.3" cy="366.6" rx="9.8" ry="10.5" fill="#fff" stroke="#000" stroke-width="0.9"/>
<ellipse cx="95.3" cy="369.3" rx="8.5" ry="10" fill="#fff" stroke="#000" stroke-width="0.9"/>
<ellipse cx="37.8" cy="388.90000000000003" rx="9.2" ry="10.3" fill="#fff" stroke="#000" stroke-width="0.9"/>
<ellipse cx="60.3" cy="386.1" rx="10.5" ry="8.5" fill="#fff" stroke="#000" stroke-width="0.9"/>
<ellipse cx="82.1" cy="390.40000000000003" rx="10.5" ry="10.8" fill="#fff" stroke="#000" stroke-width="0.9"/>
<ellipse cx="100.8" cy="389.6" rx="8.3" ry="10" fill="#fff" stroke="#000" stroke-width="0.9"/>
<ellipse cx="43.599999999999994" cy="411.3" rx="9.5" ry="10" fill="#fff" stroke="#000" stroke-width="0.9"/>
<ellipse cx="61.8" cy="404.40000000000003" rx="10.5" ry="8" fill="#fff" stroke="#000" stroke-width="0.9"/>
<ellipse cx="89.4" cy="408.8" rx="10.5" ry="7.8" fill="#fff" stroke="#000" stroke-width="0.9"/>
<ellipse cx="67.1" cy="422.1" rx="9.5" ry="7.8" fill="#fff" stroke="#000" stroke-width="0.9"/>
<polygon points="118.3,384.7 129,384.7 129,380.8 137.4,388.4 129,396.2 129,392 118.3,392" fill="#000"/>
<text x="120.3" y="405.7" font-size="7" font-weight="bold" fill="#333" textLength="18.6" lengthAdjust="spacingAndGlyphs" font-family="Liberation Sans, sans-serif" >Sulfur</text>
<text x="113.4" y="413.5" font-size="7" font-weight="bold" fill="#333" textLength="31.6" lengthAdjust="spacingAndGlyphs" font-family="Liberation Sans, sans-serif" >infiltration</text>
<text x="117" y="421.2" font-size="7" font-weight="bold" fill="#333" textLength="22.8" lengthAdjust="spacingAndGlyphs" font-family="Liberation Sans, sans-serif" >(155°C)</text>
<circle cx="191.8" cy="386.7" r="45.3" fill="url(#specW2)" stroke="#000" stroke-width="1.6"/>
<ellipse cx="182.3" cy="352.2" rx="10" ry="7.5" fill="#fff" stroke="#000" stroke-width="0.9"/>
<ellipse cx="181.5" cy="353.09999999999997" rx="8.5" ry="6.4" fill="#e8e020"/>
<ellipse cx="186.0" cy="367.2" rx="2.8" ry="4.4" fill="#fff" stroke="#000" stroke-width="0.9"/>
<ellipse cx="185.2" cy="368.09999999999997" rx="2.4" ry="3.7" fill="#e8e020"/>
<ellipse cx="167.3" cy="367.5" rx="13.5" ry="10.5" fill="#fff" stroke="#000" stroke-width="0.9"/>
<ellipse cx="166.5" cy="368.4" rx="11.5" ry="8.9" fill="#e8e020"/>
<ellipse cx="200.3" cy="366.7" rx="9.8" ry="10.5" fill="#fff" stroke="#000" stroke-width="0.9"/>
<ellipse cx="199.5" cy="367.59999999999997" rx="8.3" ry="8.9" fill="#e8e020"/>
<ellipse cx="218.3" cy="369.4" rx="8.5" ry="10" fill="#fff" stroke="#000" stroke-width="0.9"/>
<ellipse cx="217.5" cy="370.29999999999995" rx="7.2" ry="8.5" fill="#e8e020"/>
<ellipse cx="160.8" cy="389.0" rx="9.2" ry="10.3" fill="#fff" stroke="#000" stroke-width="0.9"/>
<ellipse cx="160.0" cy="389.9" rx="7.8" ry="8.8" fill="#e8e020"/>
<ellipse cx="183.3" cy="386.2" rx="10.5" ry="8.5" fill="#fff" stroke="#000" stroke-width="0.9"/>
<ellipse cx="182.5" cy="387.09999999999997" rx="8.9" ry="7.2" fill="#e8e020"/>
<ellipse cx="205.10000000000002" cy="390.5" rx="10.5" ry="10.8" fill="#fff" stroke="#000" stroke-width="0.9"/>
<ellipse cx="204.3" cy="391.4" rx="8.9" ry="9.2" fill="#e8e020"/>
<ellipse cx="223.8" cy="389.7" rx="8.3" ry="10" fill="#fff" stroke="#000" stroke-width="0.9"/>
<ellipse cx="223.0" cy="390.59999999999997" rx="7.1" ry="8.5" fill="#e8e020"/>
<ellipse cx="166.60000000000002" cy="411.4" rx="9.5" ry="10" fill="#fff" stroke="#000" stroke-width="0.9"/>
<ellipse cx="165.8" cy="412.29999999999995" rx="8.1" ry="8.5" fill="#e8e020"/>
<ellipse cx="184.8" cy="404.5" rx="10.5" ry="8" fill="#fff" stroke="#000" stroke-width="0.9"/>
<ellipse cx="184.0" cy="405.4" rx="8.9" ry="6.8" fill="#e8e020"/>
<ellipse cx="212.4" cy="408.9" rx="10.5" ry="7.8" fill="#fff" stroke="#000" stroke-width="0.9"/>
<ellipse cx="211.6" cy="409.79999999999995" rx="8.9" ry="6.6" fill="#e8e020"/>
<ellipse cx="190.10000000000002" cy="422.2" rx="9.5" ry="7.8" fill="#fff" stroke="#000" stroke-width="0.9"/>
<ellipse cx="189.3" cy="423.09999999999997" rx="8.1" ry="6.6" fill="#e8e020"/>
<text x="241.6" y="383" font-size="7" font-weight="bold" fill="#333" textLength="29.4" lengthAdjust="spacingAndGlyphs" font-family="Liberation Sans, sans-serif" >Lithiation</text>
<line x1="243.3" y1="388.7" x2="263.0" y2="388.7" stroke="#000" stroke-width="2.8"/>
<polygon points="269.6,388.7 263.0,392.0 263.0,385.4" fill="#000"/>
<rect x="272" y="337.2" width="227" height="97.8" fill="none" stroke="#b4b4b4" stroke-width="0.8"/>
<circle cx="322.8" cy="387.4" r="45" fill="url(#specR)" stroke="#000" stroke-width="1.6"/>
<ellipse cx="313.3" cy="352.9" rx="10" ry="7.5" fill="#fff" stroke="#000" stroke-width="0.9"/>
<ellipse cx="314.3" cy="355.0" rx="7.4" ry="5.1" fill="#1b3b22"/>
<path d="M308.3,350.6 q4.0,-4.5 9.0,-0.8" fill="none" stroke="#000" stroke-width="0.7"/>
<ellipse cx="317.0" cy="367.9" rx="2.8" ry="4.4" fill="#fff" stroke="#000" stroke-width="0.9"/>
<ellipse cx="317.3" cy="369.1" rx="2.1" ry="3.0" fill="#1b3b22"/>
<path d="M315.6,366.6 q1.1,-2.6 2.5,-0.4" fill="none" stroke="#000" stroke-width="0.7"/>
<ellipse cx="298.3" cy="368.2" rx="13.5" ry="10.5" fill="#fff" stroke="#000" stroke-width="0.9"/>
<ellipse cx="299.7" cy="371.1" rx="10.0" ry="7.1" fill="#1b3b22"/>
<path d="M291.6,365.1 q5.4,-6.3 12.2,-1.1" fill="none" stroke="#000" stroke-width="0.7"/>
<ellipse cx="331.3" cy="367.4" rx="9.8" ry="10.5" fill="#fff" stroke="#000" stroke-width="0.9"/>
<ellipse cx="332.3" cy="370.3" rx="7.3" ry="7.1" fill="#1b3b22"/>
<path d="M326.4,364.2 q3.9,-6.3 8.8,-1.1" fill="none" stroke="#000" stroke-width="0.7"/>
<ellipse cx="349.3" cy="370.09999999999997" rx="8.5" ry="10" fill="#fff" stroke="#000" stroke-width="0.9"/>
<ellipse cx="350.2" cy="372.9" rx="6.3" ry="6.8" fill="#1b3b22"/>
<path d="M345.1,367.1 q3.4,-6.0 7.7,-1.0" fill="none" stroke="#000" stroke-width="0.7"/>
<ellipse cx="291.8" cy="389.7" rx="9.2" ry="10.3" fill="#fff" stroke="#000" stroke-width="0.9"/>
<ellipse cx="292.7" cy="392.6" rx="6.8" ry="7.0" fill="#1b3b22"/>
<path d="M287.2,386.6 q3.7,-6.2 8.3,-1.0" fill="none" stroke="#000" stroke-width="0.7"/>
<ellipse cx="314.3" cy="386.9" rx="10.5" ry="8.5" fill="#fff" stroke="#000" stroke-width="0.9"/>
<ellipse cx="315.4" cy="389.3" rx="7.8" ry="5.8" fill="#1b3b22"/>
<path d="M309.1,384.3 q4.2,-5.1 9.5,-0.9" fill="none" stroke="#000" stroke-width="0.7"/>
<ellipse cx="336.1" cy="391.2" rx="10.5" ry="10.8" fill="#fff" stroke="#000" stroke-width="0.9"/>
<ellipse cx="337.2" cy="394.2" rx="7.8" ry="7.3" fill="#1b3b22"/>
<path d="M330.9,388.0 q4.2,-6.5 9.5,-1.1" fill="none" stroke="#000" stroke-width="0.7"/>
<ellipse cx="354.8" cy="390.4" rx="8.3" ry="10" fill="#fff" stroke="#000" stroke-width="0.9"/>
<ellipse cx="355.6" cy="393.2" rx="6.1" ry="6.8" fill="#1b3b22"/>
<path d="M350.7,387.4 q3.3,-6.0 7.5,-1.0" fill="none" stroke="#000" stroke-width="0.7"/>
<ellipse cx="297.6" cy="412.09999999999997" rx="9.5" ry="10" fill="#fff" stroke="#000" stroke-width="0.9"/>
<ellipse cx="298.6" cy="414.9" rx="7.0" ry="6.8" fill="#1b3b22"/>
<path d="M292.9,409.1 q3.8,-6.0 8.6,-1.0" fill="none" stroke="#000" stroke-width="0.7"/>
<ellipse cx="315.8" cy="405.2" rx="10.5" ry="8" fill="#fff" stroke="#000" stroke-width="0.9"/>
<ellipse cx="316.9" cy="407.4" rx="7.8" ry="5.4" fill="#1b3b22"/>
<path d="M310.6,402.8 q4.2,-4.8 9.5,-0.8" fill="none" stroke="#000" stroke-width="0.7"/>
<ellipse cx="343.40000000000003" cy="409.59999999999997" rx="10.5" ry="7.8" fill="#fff" stroke="#000" stroke-width="0.9"/>
<ellipse cx="344.5" cy="411.8" rx="7.8" ry="5.3" fill="#1b3b22"/>
<path d="M338.2,407.3 q4.2,-4.7 9.5,-0.8" fill="none" stroke="#000" stroke-width="0.7"/>
<ellipse cx="321.1" cy="422.9" rx="9.5" ry="7.8" fill="#fff" stroke="#000" stroke-width="0.9"/>
<ellipse cx="322.1" cy="425.1" rx="7.0" ry="5.3" fill="#1b3b22"/>
<path d="M316.4,420.6 q3.8,-4.7 8.6,-0.8" fill="none" stroke="#000" stroke-width="0.7"/>
<text x="367" y="376.3" font-size="7" font-weight="bold" fill="#333" textLength="35.6" lengthAdjust="spacingAndGlyphs" font-family="Liberation Sans, sans-serif" >Delithiation</text>
<line x1="371.2" y1="381.7" x2="391.4" y2="381.7" stroke="#000" stroke-width="2.8"/>
<polygon points="398,381.7 391.4,385.1 391.4,378.3" fill="#000"/>
<line x1="398" y1="393.5" x2="378.2" y2="393.5" stroke="#000" stroke-width="2.8"/>
<polygon points="371.6,393.5 378.2,390.1 378.2,396.9" fill="#000"/>
<text x="371" y="406.4" font-size="7" font-weight="bold" fill="#333" textLength="29.0" lengthAdjust="spacingAndGlyphs" font-family="Liberation Sans, sans-serif" >Lithiation</text>
<circle cx="448.8" cy="387.4" r="45.3" fill="url(#specO)" stroke="#000" stroke-width="1.6"/>
<ellipse cx="439.3" cy="352.9" rx="10" ry="7.5" fill="#fff" stroke="#000" stroke-width="0.9"/>
<ellipse cx="437.7" cy="354.4" rx="7.6" ry="5.7" fill="#ece42a"/>
<ellipse cx="443.0" cy="367.9" rx="2.8" ry="4.4" fill="#fff" stroke="#000" stroke-width="0.9"/>
<ellipse cx="442.6" cy="368.8" rx="2.1" ry="3.3" fill="#ece42a"/>
<ellipse cx="424.3" cy="368.2" rx="13.5" ry="10.5" fill="#fff" stroke="#000" stroke-width="0.9"/>
<ellipse cx="422.1" cy="370.3" rx="10.3" ry="8.0" fill="#ece42a"/>
<ellipse cx="457.3" cy="367.4" rx="9.8" ry="10.5" fill="#fff" stroke="#000" stroke-width="0.9"/>
<ellipse cx="455.7" cy="369.5" rx="7.4" ry="8.0" fill="#ece42a"/>
<ellipse cx="475.3" cy="370.09999999999997" rx="8.5" ry="10" fill="#fff" stroke="#000" stroke-width="0.9"/>
<ellipse cx="473.9" cy="372.1" rx="6.5" ry="7.6" fill="#ece42a"/>
<ellipse cx="417.8" cy="389.7" rx="9.2" ry="10.3" fill="#fff" stroke="#000" stroke-width="0.9"/>
<ellipse cx="416.3" cy="391.8" rx="7.0" ry="7.8" fill="#ece42a"/>
<ellipse cx="440.3" cy="386.9" rx="10.5" ry="8.5" fill="#fff" stroke="#000" stroke-width="0.9"/>
<ellipse cx="438.6" cy="388.6" rx="8.0" ry="6.5" fill="#ece42a"/>
<ellipse cx="462.1" cy="391.2" rx="10.5" ry="10.8" fill="#fff" stroke="#000" stroke-width="0.9"/>
<ellipse cx="460.4" cy="393.4" rx="8.0" ry="8.2" fill="#ece42a"/>
<ellipse cx="480.8" cy="390.4" rx="8.3" ry="10" fill="#fff" stroke="#000" stroke-width="0.9"/>
<ellipse cx="479.5" cy="392.4" rx="6.3" ry="7.6" fill="#ece42a"/>
<ellipse cx="423.6" cy="412.09999999999997" rx="9.5" ry="10" fill="#fff" stroke="#000" stroke-width="0.9"/>
<ellipse cx="422.1" cy="414.1" rx="7.2" ry="7.6" fill="#ece42a"/>
<ellipse cx="441.8" cy="405.2" rx="10.5" ry="8" fill="#fff" stroke="#000" stroke-width="0.9"/>
<ellipse cx="440.1" cy="406.8" rx="8.0" ry="6.1" fill="#ece42a"/>
<ellipse cx="469.40000000000003" cy="409.59999999999997" rx="10.5" ry="7.8" fill="#fff" stroke="#000" stroke-width="0.9"/>
<ellipse cx="467.7" cy="411.2" rx="8.0" ry="5.9" fill="#ece42a"/>
<ellipse cx="447.1" cy="422.9" rx="9.5" ry="7.8" fill="#fff" stroke="#000" stroke-width="0.9"/>
<ellipse cx="445.6" cy="424.5" rx="7.2" ry="5.9" fill="#ece42a"/>
<rect x="31" y="458.9" width="110.5" height="114.2" fill="#060606"/>
<rect x="105" y="459" width="36.5" height="56" fill="#000" filter="url(#redn)" opacity="0.75"/>
<circle cx="86" cy="516" r="48.6" fill="url(#sph)" clip-path="url(#bothalf)"/>
<circle cx="86.4" cy="516.5" r="48.2" fill="url(#specRed)" clip-path="url(#tophalf)"/>
<ellipse cx="86.4" cy="517" rx="41" ry="40" fill="url(#specT)" clip-path="url(#tophalf)"/>
<g fill="#f4f4f4" opacity="0.9"><circle cx="99.7" cy="483.4" r="0.64"/><circle cx="59.4" cy="487.5" r="0.84"/><circle cx="118.4" cy="498.2" r="0.71"/><circle cx="50.5" cy="504.7" r="0.75"/><circle cx="50.5" cy="505.0" r="0.82"/><circle cx="90.9" cy="480.3" r="0.79"/><circle cx="113.2" cy="492.2" r="0.90"/><circle cx="105.6" cy="484.4" r="0.58"/><circle cx="122.4" cy="503.3" r="0.55"/><circle cx="50.5" cy="497.3" r="0.80"/><circle cx="115.7" cy="489.6" r="0.77"/><circle cx="123.2" cy="504.7" r="0.78"/><circle cx="116.8" cy="491.7" r="0.93"/><circle cx="94.6" cy="478.5" r="0.52"/><circle cx="61.3" cy="488.8" r="0.54"/><circle cx="62.3" cy="489.2" r="0.64"/><circle cx="99.9" cy="481.7" r="0.69"/><circle cx="60.0" cy="490.1" r="0.97"/><circle cx="101.5" cy="481.0" r="0.59"/><circle cx="107.7" cy="486.7" r="0.69"/><circle cx="124.9" cy="505.9" r="0.78"/><circle cx="105.6" cy="481.6" r="0.89"/><circle cx="62.2" cy="489.6" r="0.66"/><circle cx="64.7" cy="486.7" r="0.97"/><circle cx="118.5" cy="496.3" r="0.83"/><circle cx="75.2" cy="478.2" r="0.73"/><circle cx="64.3" cy="486.7" r="0.78"/><circle cx="63.2" cy="485.5" r="0.95"/><circle cx="76.5" cy="481.3" r="1.00"/><circle cx="87.3" cy="480.7" r="0.52"/><circle cx="52.2" cy="496.7" r="0.90"/><circle cx="78.8" cy="481.6" r="0.69"/><circle cx="124.6" cy="506.7" r="0.99"/><circle cx="116.4" cy="495.9" r="0.86"/><circle cx="104.6" cy="482.8" r="0.63"/><circle cx="99.9" cy="483.0" r="0.72"/><circle cx="81.4" cy="476.8" r="0.94"/><circle cx="63.5" cy="485.8" r="0.59"/><circle cx="122.9" cy="498.1" r="0.65"/><circle cx="100.6" cy="480.7" r="0.58"/><circle cx="111.6" cy="487.2" r="0.89"/><circle cx="89.3" cy="481.2" r="0.66"/><circle cx="46.8" cy="504.6" r="0.94"/><circle cx="115.8" cy="492.8" r="0.53"/><circle cx="121.3" cy="494.8" r="0.54"/><circle cx="85.0" cy="480.8" r="0.88"/><circle cx="110.5" cy="489.0" r="0.74"/><circle cx="91.4" cy="480.1" r="0.94"/><circle cx="78.8" cy="480.8" r="0.77"/><circle cx="107.9" cy="486.6" r="0.66"/><circle cx="125.1" cy="506.4" r="0.72"/><circle cx="88.1" cy="480.6" r="0.61"/><circle cx="70.0" cy="481.7" r="0.62"/><circle cx="61.4" cy="490.1" r="0.82"/><circle cx="59.3" cy="486.4" r="0.93"/><circle cx="52.0" cy="501.0" r="0.83"/><circle cx="60.8" cy="490.2" r="0.97"/><circle cx="93.7" cy="479.5" r="0.89"/><circle cx="113.8" cy="491.5" r="0.55"/><circle cx="79.4" cy="479.7" r="0.73"/><circle cx="109.2" cy="484.7" r="0.99"/><circle cx="52.5" cy="498.2" r="0.67"/><circle cx="117.4" cy="495.3" r="0.60"/><circle cx="81.2" cy="479.4" r="0.64"/><circle cx="61.0" cy="485.0" r="0.72"/><circle cx="118.6" cy="494.4" r="0.53"/><circle cx="126.2" cy="506.6" r="0.98"/><circle cx="123.5" cy="499.4" r="0.58"/><circle cx="85.0" cy="480.1" r="0.70"/><circle cx="50.8" cy="501.8" r="0.99"/><circle cx="62.8" cy="484.6" r="0.73"/><circle cx="78.0" cy="477.3" r="1.00"/><circle cx="92.3" cy="478.0" r="0.58"/><circle cx="65.2" cy="482.0" r="0.79"/><circle cx="90.9" cy="477.7" r="0.53"/><circle cx="95.0" cy="479.6" r="0.93"/><circle cx="53.7" cy="491.7" r="0.54"/><circle cx="57.1" cy="490.6" r="0.84"/><circle cx="62.4" cy="488.9" r="0.95"/><circle cx="61.8" cy="486.5" r="0.81"/><circle cx="78.0" cy="479.1" r="0.76"/><circle cx="120.9" cy="501.5" r="0.86"/><circle cx="61.8" cy="487.7" r="0.84"/><circle cx="67.1" cy="484.6" r="0.88"/><circle cx="51.0" cy="500.4" r="1.00"/><circle cx="122.4" cy="507.3" r="0.61"/><circle cx="62.4" cy="484.0" r="0.94"/><circle cx="118.9" cy="496.4" r="0.58"/><circle cx="117.5" cy="491.8" r="0.81"/><circle cx="124.9" cy="505.6" r="0.50"/></g>
<rect x="40" y="514" width="92" height="2.5" fill="#30c0c0" opacity="0.8"/>
<path d="M38,513.6 q4,-7 9,-2 q2,2 6,2 L120,513.4 q6,-1 9,-4 q3,2 5,4" fill="none" stroke="#e8e040" stroke-width="1.1"/>
<line x1="38" y1="514" x2="134.5" y2="514" stroke="#e07a20" stroke-width="1.2"/>
<text x="71.1" y="468" font-size="9" font-weight="bold" fill="#fff" textLength="32.1" lengthAdjust="spacingAndGlyphs" font-family="Liberation Sans, sans-serif" >Carbon</text>
<text x="71.1" y="505.7" font-size="9.2" font-weight="bold" fill="#fff" textLength="26.5" lengthAdjust="spacingAndGlyphs" font-family="Liberation Sans, sans-serif" >Sulfur</text>
<text x="42.4" y="525.8" font-size="8.6" font-weight="bold" fill="#262626" textLength="83.9" lengthAdjust="spacingAndGlyphs" font-family="Liberation Sans, sans-serif" >Hierarchical porous</text>
<text x="70" y="537" font-size="8.6" font-weight="bold" fill="#262626" textLength="28.9" lengthAdjust="spacingAndGlyphs" font-family="Liberation Sans, sans-serif" >carbon</text>
<text x="113.4" y="565.8" font-size="7.2" font-weight="bold" fill="#fff" textLength="21.4" lengthAdjust="spacingAndGlyphs" font-family="Liberation Sans, sans-serif" >50&#160;&#160;nm</text>
<rect x="113.4" y="567.2" width="23" height="2.4" fill="#fff"/>
<line x1="189.9" y1="464.5" x2="498" y2="464.5" stroke="#777" stroke-width="0.8"/>
<line x1="189.9" y1="564.2" x2="498" y2="564.2" stroke="#222" stroke-width="0.9"/>
<line x1="189.9" y1="464.5" x2="189.9" y2="564.2" stroke="#222" stroke-width="0.9"/>
<line x1="498" y1="464.5" x2="498" y2="564.2" stroke="#2a6ab8" stroke-width="1.1"/>
<line x1="187.9" y1="564.2" x2="189.9" y2="564.2" stroke="#222" stroke-width="0.6"/>
<text x="186.9" y="566.6" font-size="6.8" font-weight="normal" text-anchor="end" fill="#222" font-family="Liberation Sans, sans-serif" >0</text>
<line x1="498" y1="564.2" x2="500" y2="564.2" stroke="#2a6ab8" stroke-width="0.6"/>
<text x="502" y="566.6" font-size="6.8" font-weight="normal" text-anchor="start" fill="#2a6ab8" font-family="Liberation Sans, sans-serif" >0</text>
<line x1="187.9" y1="544.3" x2="189.9" y2="544.3" stroke="#222" stroke-width="0.6"/>
<text x="186.9" y="546.66" font-size="6.8" font-weight="normal" text-anchor="end" fill="#222" font-family="Liberation Sans, sans-serif" >200</text>
<line x1="498" y1="544.3" x2="500" y2="544.3" stroke="#2a6ab8" stroke-width="0.6"/>
<text x="502" y="546.66" font-size="6.8" font-weight="normal" text-anchor="start" fill="#2a6ab8" font-family="Liberation Sans, sans-serif" >20</text>
<line x1="187.9" y1="524.3" x2="189.9" y2="524.3" stroke="#222" stroke-width="0.6"/>
<text x="186.9" y="526.72" font-size="6.8" font-weight="normal" text-anchor="end" fill="#222" font-family="Liberation Sans, sans-serif" >400</text>
<line x1="498" y1="524.3" x2="500" y2="524.3" stroke="#2a6ab8" stroke-width="0.6"/>
<text x="502" y="526.72" font-size="6.8" font-weight="normal" text-anchor="start" fill="#2a6ab8" font-family="Liberation Sans, sans-serif" >40</text>
<line x1="187.9" y1="504.4" x2="189.9" y2="504.4" stroke="#222" stroke-width="0.6"/>
<text x="186.9" y="506.78" font-size="6.8" font-weight="normal" text-anchor="end" fill="#222" font-family="Liberation Sans, sans-serif" >600</text>
<line x1="498" y1="504.4" x2="500" y2="504.4" stroke="#2a6ab8" stroke-width="0.6"/>
<text x="502" y="506.78" font-size="6.8" font-weight="normal" text-anchor="start" fill="#2a6ab8" font-family="Liberation Sans, sans-serif" >60</text>
<line x1="187.9" y1="484.4" x2="189.9" y2="484.4" stroke="#222" stroke-width="0.6"/>
<text x="186.9" y="486.84" font-size="6.8" font-weight="normal" text-anchor="end" fill="#222" font-family="Liberation Sans, sans-serif" >800</text>
<line x1="498" y1="484.4" x2="500" y2="484.4" stroke="#2a6ab8" stroke-width="0.6"/>
<text x="502" y="486.84" font-size="6.8" font-weight="normal" text-anchor="start" fill="#2a6ab8" font-family="Liberation Sans, sans-serif" >80</text>
<line x1="187.9" y1="464.5" x2="189.9" y2="464.5" stroke="#222" stroke-width="0.6"/>
<text x="186.9" y="466.9" font-size="6.8" font-weight="normal" text-anchor="end" fill="#222" font-family="Liberation Sans, sans-serif" >1000</text>
<line x1="498" y1="464.5" x2="500" y2="464.5" stroke="#2a6ab8" stroke-width="0.6"/>
<text x="502" y="466.9" font-size="6.8" font-weight="normal" text-anchor="start" fill="#2a6ab8" font-family="Liberation Sans, sans-serif" >100</text>
<line x1="189.9" y1="564.2" x2="189.9" y2="566.2" stroke="#222" stroke-width="0.6"/>
<text x="189.9" y="574.5" font-size="6.8" font-weight="normal" text-anchor="middle" fill="#222" font-family="Liberation Sans, sans-serif" >0</text>
<line x1="251.5" y1="564.2" x2="251.5" y2="566.2" stroke="#222" stroke-width="0.6"/>
<text x="251.52" y="574.5" font-size="6.8" font-weight="normal" text-anchor="middle" fill="#222" font-family="Liberation Sans, sans-serif" >100</text>
<line x1="313.1" y1="564.2" x2="313.1" y2="566.2" stroke="#222" stroke-width="0.6"/>
<text x="313.14" y="574.5" font-size="6.8" font-weight="normal" text-anchor="middle" fill="#222" font-family="Liberation Sans, sans-serif" >200</text>
<line x1="374.8" y1="564.2" x2="374.8" y2="566.2" stroke="#222" stroke-width="0.6"/>
<text x="374.76" y="574.5" font-size="6.8" font-weight="normal" text-anchor="middle" fill="#222" font-family="Liberation Sans, sans-serif" >300</text>
<line x1="436.4" y1="564.2" x2="436.4" y2="566.2" stroke="#222" stroke-width="0.6"/>
<text x="436.38" y="574.5" font-size="6.8" font-weight="normal" text-anchor="middle" fill="#222" font-family="Liberation Sans, sans-serif" >400</text>
<line x1="498.0" y1="564.2" x2="498.0" y2="566.2" stroke="#222" stroke-width="0.6"/>
<text x="498.0" y="574.5" font-size="6.8" font-weight="normal" text-anchor="middle" fill="#222" font-family="Liberation Sans, sans-serif" >500</text>
<text x="344" y="582.5" font-size="7.2" font-weight="bold" text-anchor="middle" fill="#222" font-family="Liberation Sans, sans-serif" >Cycle number</text>
<text transform="translate(168,557.3) rotate(-90)" font-size="6.8" fill="#222" textLength="80" lengthAdjust="spacingAndGlyphs" font-family="Liberation Sans, sans-serif">Specific capacity (mAh/g)</text>
<text transform="translate(511.8,464.9) rotate(90)" font-size="6.8" fill="#2a6ab8" textLength="77" lengthAdjust="spacingAndGlyphs" font-family="Liberation Sans, sans-serif">Columbic efficiency (%)</text>
<polyline points="189.9,469.4 191.1,467.6 192.4,466.7 193.6,466.7 194.8,466.7 196.1,466.7 197.3,466.7 198.5,466.7 199.8,466.7 201.0,466.7 202.2,466.7 203.5,466.7 204.7,466.7 205.9,466.7 207.2,466.7 208.4,466.7 209.6,466.8 210.9,466.8 212.1,466.8 213.3,466.8 214.5,466.8 215.8,466.8 217.0,466.8 218.2,466.8 219.5,466.8 220.7,466.8 221.9,466.8 223.2,466.8 224.4,466.8 225.6,466.8 226.9,466.8 228.1,466.8 229.3,466.8 230.6,466.8 231.8,466.8 233.0,466.8 234.3,466.8 235.5,466.8 236.7,466.8 238.0,466.8 239.2,466.8 240.4,466.8 241.7,466.8 242.9,466.8 244.1,466.9 245.4,466.9 246.6,466.9 247.8,466.9 249.1,466.9 250.3,466.9 251.5,466.9 252.8,466.9 254.0,466.9 255.2,466.9 256.4,466.9 257.7,466.9 258.9,466.9 260.1,466.9 261.4,466.9 262.6,466.9 263.8,466.9 265.1,466.9 266.3,466.9 267.5,466.9 268.8,466.9 270.0,466.9 271.2,466.9 272.5,466.9 273.7,466.9 274.9,466.9 276.2,466.9 277.4,466.9 278.6,467.0 279.9,467.0 281.1,467.0 282.3,467.0 283.6,467.0 284.8,467.0 286.0,467.0 287.3,467.0 288.5,467.0 289.7,467.0 291.0,467.0 292.2,467.0 293.4,467.0 294.7,467.0 295.9,467.0 297.1,467.0 298.4,467.0 299.6,467.0 300.8,467.0 302.0,467.0 303.3,467.0 304.5,467.0 305.7,467.0 307.0,467.0 308.2,467.0 309.4,467.0 310.7,467.0 311.9,467.0 313.1,467.1 314.4,467.1 315.6,467.1 316.8,467.1 318.1,467.1 319.3,467.1 320.5,467.1 321.8,467.1 323.0,467.1 324.2,467.1 325.5,467.1 326.7,467.1 327.9,467.1 329.2,467.1 330.4,467.1 331.6,467.1 332.9,467.1 334.1,467.1 335.3,467.1 336.6,467.1 337.8,467.1 339.0,467.1 340.3,467.1 341.5,467.1 342.7,467.1 344.0,467.1 345.2,467.1 346.4,467.1 347.6,467.2 348.9,467.2 350.1,467.2 351.3,467.2 352.6,467.2 353.8,467.2 355.0,467.2 356.3,467.2 357.5,467.2 358.7,467.2 360.0,467.2 361.2,467.2 362.4,467.2 363.7,467.2 364.9,467.2 366.1,467.2 367.4,467.2 368.6,467.2 369.8,467.2 371.1,467.2 372.3,467.2 373.5,467.2 374.8,467.2 376.0,467.2 377.2,467.2 378.5,467.2 379.7,467.2 380.9,467.2 382.2,467.3 383.4,467.3 384.6,467.3 385.9,467.3 387.1,467.3 388.3,467.3 389.5,467.3 390.8,467.3 392.0,467.3 393.2,467.3 394.5,467.3 395.7,467.3 396.9,467.3 398.2,467.3 399.4,467.3 400.6,467.3 401.9,467.3 403.1,467.3 404.3,467.3 405.6,467.3 406.8,467.3 408.0,467.3 409.3,467.3 410.5,467.3 411.7,467.3 413.0,467.3 414.2,467.3 415.4,467.4 416.7,467.4 417.9,467.4 419.1,467.4 420.4,467.4 421.6,467.4 422.8,467.4 424.1,467.4 425.3,467.4 426.5,467.4 427.8,467.4 429.0,467.4 430.2,467.4 431.5,467.4 432.7,467.4 433.9,467.4 435.1,467.4 436.4,467.4 437.6,467.4 438.8,467.4 440.1,467.4 441.3,467.4 442.5,467.4 443.8,467.4 445.0,467.4 446.2,467.4 447.5,467.4 448.7,467.4 449.9,467.5 451.2,467.5 452.4,467.5 453.6,467.5 454.9,467.5 456.1,467.5 457.3,467.5 458.6,467.5 459.8,467.5 461.0,467.5 462.3,467.5 463.5,467.5 464.7,467.5 466.0,467.5 467.2,467.5 468.4,467.5 469.7,467.5 470.9,467.5 472.1,467.5 473.4,467.5 474.6,467.5 475.8,467.5 477.0,467.5 478.3,467.5 479.5,467.5 480.7,467.5 482.0,467.5 483.2,467.5 484.4,467.6 485.7,467.6 486.9,467.6 488.1,467.6 489.4,467.6 490.6,467.6 491.8,467.6 493.1,467.6 494.3,467.6 495.5,467.6 496.8,467.6 498.0,467.6" fill="none" stroke="#1c50aa" stroke-width="3.4"/>
<polyline points="190.5,487.4 191.1,489.8 191.7,492.2 192.4,492.8 193.0,493.3 194.2,494.4 196.1,494.8 199.1,495.4 202.2,496.0 208.4,497.2 214.5,497.8 220.7,498.4 226.9,498.8 233.0,499.2 239.2,499.6 245.4,500.0 251.5,500.4 257.7,500.6 263.8,500.8 270.0,501.0 276.2,501.2 282.3,501.4 288.5,501.6 294.7,501.8 300.8,502.0 307.0,502.2 313.1,502.4 319.3,502.6 325.5,502.8 331.6,503.0 337.8,503.2 344.0,503.4 350.1,503.6 356.3,503.8 362.4,504.0 368.6,504.2 374.8,504.4 380.9,504.6 387.1,504.9 393.2,505.1 399.4,505.4 405.6,505.6 411.7,505.9 417.9,506.1 424.1,506.4 430.2,506.6 436.4,506.9 442.5,507.2 448.7,507.5 454.9,507.8 461.0,508.1 467.2,508.4 473.4,508.7 479.5,509.0 485.7,509.3 491.8,509.6 498.0,509.9" fill="none" stroke="#e02020" stroke-width="2.4"/>
<polyline points="190.5,487.4 191.1,489.8 191.7,492.2 192.4,492.8 193.0,493.3 194.2,494.4 196.1,494.8 199.1,495.4 202.2,496.0 208.4,497.2 214.5,497.8 220.7,498.4 226.9,498.8 233.0,499.2 239.2,499.6 245.4,500.0 251.5,500.4 257.7,500.6 263.8,500.8 270.0,501.0 276.2,501.2 282.3,501.4 288.5,501.6 294.7,501.8 300.8,502.0 307.0,502.2 313.1,502.4 319.3,502.6 325.5,502.8 331.6,503.0 337.8,503.2 344.0,503.4 350.1,503.6 356.3,503.8 362.4,504.0 368.6,504.2 374.8,504.4 380.9,504.6 387.1,504.9 393.2,505.1 399.4,505.4 405.6,505.6 411.7,505.9 417.9,506.1 424.1,506.4 430.2,506.6 436.4,506.9 442.5,507.2 448.7,507.5 454.9,507.8 461.0,508.1 467.2,508.4 473.4,508.7 479.5,509.0 485.7,509.3 491.8,509.6 498.0,509.9" fill="none" stroke="#000" stroke-width="2.4" transform="translate(0,1.1)"/>
<rect x="188.7" y="481.2" width="2.4" height="2.4" fill="#000"/>
<rect x="194.2" y="510.8" width="54.4" height="50" fill="#2e2e2e"/>
<g clip-path="url(#semin)"><circle cx="196" cy="512" r="14" fill="#6a6a6a"/><circle cx="250" cy="514" r="10" fill="#555"/><circle cx="197" cy="552" r="9" fill="#505050"/></g>
<circle cx="222.5" cy="535.8" r="24.4" fill="url(#semc)"/>
<rect x="206.7" y="520.8" width="33.3" height="28.4" fill="none" stroke="#d0d0d0" stroke-width="0.8"/>
<rect x="230" y="558" width="17.5" height="2.8" fill="#fff"/>
<rect x="250.8" y="510.8" width="49.5" height="50" fill="url(#specCK)"/>
<rect x="250.8" y="510.8" width="49.5" height="50" fill="url(#vig)"/>
<rect x="301.3" y="510.8" width="51.7" height="50" fill="url(#specSK)"/>
<rect x="301.3" y="510.8" width="51.7" height="50" fill="url(#vig)"/>
<text x="254.2" y="519.2" font-size="6.2" font-weight="bold" text-anchor="start" fill="#eee" font-family="Liberation Sans, sans-serif" >C&#160;&#160;K</text>
<text x="304.5" y="519.2" font-size="6.2" font-weight="bold" text-anchor="start" fill="#eee" font-family="Liberation Sans, sans-serif" >S&#160;&#160;K</text>
<line x1="439" y1="547.2" x2="456.3" y2="547.2" stroke="#999" stroke-width="0.7"/><rect x="445.8" y="545.2" width="4" height="4" fill="#e81818"/>
<text x="457.9" y="549.5" font-size="6.9" font-weight="normal" fill="#222" textLength="21.9" lengthAdjust="spacingAndGlyphs" font-family="Liberation Sans, sans-serif" >Charge</text>
<line x1="439" y1="555.6" x2="456.3" y2="555.6" stroke="#999" stroke-width="0.7"/><rect x="445.8" y="553.6" width="4" height="4" fill="#000"/>
<text x="457.9" y="558.6" font-size="6.9" font-weight="normal" fill="#222" textLength="29.7" lengthAdjust="spacingAndGlyphs" font-family="Liberation Sans, sans-serif" >Discharge</text>
<text x="491.2" y="27.8" font-size="30.5" font-weight="bold" font-family="Liberation Serif, serif" fill="#111">(b)</text>
<polygon points="608.1,83.1 574.7,102.4 541.3,83.1 541.3,44.5 574.7,25.2 608.1,44.5" fill="#2b86cc"/>
<circle cx="574.7" cy="63.8" r="8.4" fill="#fff"/>
<circle cx="574.7" cy="41.3" r="8.4" fill="#fff"/>
<circle cx="574.7" cy="86.3" r="8.4" fill="#fff"/>
<circle cx="554.3000000000001" cy="52.199999999999996" r="8.4" fill="#fff"/>
<circle cx="595.1" cy="52.199999999999996" r="8.4" fill="#fff"/>
<circle cx="554.3000000000001" cy="75.6" r="8.4" fill="#fff"/>
<circle cx="595.1" cy="75.6" r="8.4" fill="#fff"/>
<text x="559.1" y="118.4" font-size="10.6" font-weight="bold" fill="#333" textLength="34.6" lengthAdjust="spacingAndGlyphs" font-family="Liberation Sans, sans-serif" >SBA-15</text>
<text x="610" y="61.6" font-size="10.6" font-weight="bold" fill="#333" textLength="39.0" lengthAdjust="spacingAndGlyphs" font-family="Liberation Sans, sans-serif" >Sucrose</text>
<line x1="613" y1="68.8" x2="644.5" y2="68.8" stroke="#222" stroke-width="1.6"/>
<polygon points="649.5,68.8 644.5,72.0 644.5,65.6" fill="#222"/>
<circle cx="700.5" cy="62.7" r="47.6" fill="#f39a3c"/>
<polygon points="734.5,81.8 701.2,101.1 667.9,81.8 667.9,43.3 701.2,24.1 734.5,43.3" fill="#2b86cc"/>
<circle cx="701.2" cy="62.6" r="8.2" fill="#f39a3c"/>
<circle cx="701.2" cy="40.1" r="8.2" fill="#f39a3c"/>
<circle cx="701.2" cy="85.1" r="8.2" fill="#f39a3c"/>
<circle cx="680.8000000000001" cy="51.0" r="8.2" fill="#f39a3c"/>
<circle cx="721.6" cy="51.0" r="8.2" fill="#f39a3c"/>
<circle cx="680.8000000000001" cy="74.4" r="8.2" fill="#f39a3c"/>
<circle cx="721.6" cy="74.4" r="8.2" fill="#f39a3c"/>
<text x="662.5" y="127.3" font-size="10.6" font-weight="bold" fill="#333" textLength="87.8" lengthAdjust="spacingAndGlyphs" font-family="Liberation Sans, sans-serif" >Precursor/SBA-15</text>
<polygon points="767.3,54 762.5,62.5 772.1,62.5" fill="none" stroke="#222" stroke-width="1.1"/>
<line x1="752.5" y1="69.5" x2="779.0" y2="69.5" stroke="#222" stroke-width="1.6"/>
<polygon points="784,69.5 779.0,72.7 779.0,66.3" fill="#222"/>
<circle cx="835.9" cy="64.4" r="47.3" fill="#a9a9a9"/>
<polygon points="869.0,84.3 835.6,103.6 802.2,84.3 802.2,45.7 835.6,26.4 869.0,45.7" fill="#2b86cc"/>
<circle cx="835.6" cy="65" r="7.6" fill="#111"/>
<circle cx="835.6" cy="42.5" r="7.6" fill="#111"/>
<circle cx="835.6" cy="87.5" r="7.6" fill="#111"/>
<circle cx="815.2" cy="53.4" r="7.6" fill="#111"/>
<circle cx="856.0" cy="53.4" r="7.6" fill="#111"/>
<circle cx="815.2" cy="76.8" r="7.6" fill="#111"/>
<circle cx="856.0" cy="76.8" r="7.6" fill="#111"/>
<text x="804.4" y="126.9" font-size="10.6" font-weight="bold" fill="#333" textLength="76.2" lengthAdjust="spacingAndGlyphs" font-family="Liberation Sans, sans-serif" >Carbon/SBA-15</text>
<text x="895.5" y="61.6" font-size="10.2" font-weight="bold" fill="#333" textLength="12.5" lengthAdjust="spacingAndGlyphs" font-family="Liberation Sans, sans-serif" >HF</text>
<line x1="886.5" y1="69.5" x2="912.5" y2="69.5" stroke="#222" stroke-width="1.6"/>
<polygon points="917.5,69.5 912.5,72.7 912.5,66.3" fill="#222"/>
<circle cx="967.6" cy="64.5" r="47.7" fill="#a9a9a9"/>
<polygon points="1001.0,84.6 967.4,104.0 933.8,84.6 933.8,45.8 967.4,26.4 1001.0,45.8" fill="#fff"/>
<line x1="967.4" y1="65.2" x2="967.4" y2="42.7" stroke="#111" stroke-width="1.6"/>
<line x1="967.4" y1="65.2" x2="967.4" y2="87.7" stroke="#111" stroke-width="1.6"/>
<line x1="967.4" y1="65.2" x2="947.0" y2="53.6" stroke="#111" stroke-width="1.6"/>
<line x1="967.4" y1="65.2" x2="987.8" y2="53.6" stroke="#111" stroke-width="1.6"/>
<line x1="967.4" y1="65.2" x2="947.0" y2="77.0" stroke="#111" stroke-width="1.6"/>
<line x1="967.4" y1="65.2" x2="987.8" y2="77.0" stroke="#111" stroke-width="1.6"/>
<line x1="967.4" y1="42.7" x2="947.0" y2="53.6" stroke="#111" stroke-width="1.6"/>
<line x1="967.4" y1="42.7" x2="987.8" y2="53.6" stroke="#111" stroke-width="1.6"/>
<line x1="967.4" y1="87.7" x2="947.0" y2="77.0" stroke="#111" stroke-width="1.6"/>
<line x1="967.4" y1="87.7" x2="987.8" y2="77.0" stroke="#111" stroke-width="1.6"/>
<line x1="947.0" y1="53.6" x2="947.0" y2="77.0" stroke="#111" stroke-width="1.6"/>
<line x1="987.8" y1="53.6" x2="987.8" y2="77.0" stroke="#111" stroke-width="1.6"/>
<circle cx="967.4" cy="65.2" r="7.6" fill="#111"/>
<circle cx="967.4" cy="42.7" r="7.6" fill="#111"/>
<circle cx="967.4" cy="87.7" r="7.6" fill="#111"/>
<circle cx="947.0" cy="53.6" r="7.6" fill="#111"/>
<circle cx="987.8" cy="53.6" r="7.6" fill="#111"/>
<circle cx="947.0" cy="77.0" r="7.6" fill="#111"/>
<circle cx="987.8" cy="77.0" r="7.6" fill="#111"/>
<text x="914.6" y="123.4" font-size="10.8" font-weight="bold" fill="#333" textLength="96.8" lengthAdjust="spacingAndGlyphs" font-family="Liberation Sans, sans-serif" >Meso/Microporous</text>
<text x="918.5" y="137.5" font-size="10.8" font-weight="bold" fill="#333" textLength="91.1" lengthAdjust="spacingAndGlyphs" font-family="Liberation Sans, sans-serif" >Core/Shell Carbon</text>
<circle cx="777.2" cy="176" r="1.8" fill="#5a5a6a"/>
<text x="785.4" y="180.6" font-size="12.8" font-weight="bold" fill="#222" textLength="41.8" lengthAdjust="spacingAndGlyphs" font-family="Liberation Sans, sans-serif" >Lithium</text>
<circle cx="846.1" cy="176.0" r="4.8" fill="url(#ball)"/>
<text x="858.4" y="180.6" font-size="12.8" font-weight="bold" fill="#222" textLength="32.9" lengthAdjust="spacingAndGlyphs" font-family="Liberation Sans, sans-serif" >Sulfur</text>
<rect x="904.7" y="168.2" width="21.7" height="15.5" fill="url(#cyl)" rx="1"/>
<ellipse cx="925.9" cy="175.9" rx="2.8" ry="7.8" fill="#a8a8a8"/>
<text x="933.5" y="180.6" font-size="12.8" font-weight="bold" fill="#222" textLength="39.7" lengthAdjust="spacingAndGlyphs" font-family="Liberation Sans, sans-serif" >Carbon</text>
<rect x="609.5" y="199.5" width="93.5" height="16.0" fill="url(#cyl)" rx="1"/>
<ellipse cx="702.5" cy="207.5" rx="2.8" ry="8.0" fill="#a8a8a8"/>
<rect x="609.5" y="297" width="93.5" height="16.0" fill="url(#cyl)" rx="1"/>
<ellipse cx="702.5" cy="305.0" rx="2.8" ry="8.0" fill="#a8a8a8"/>
<path d="M573.0,209.0 L574.6,209.4 L576.2,209.8 L577.8,210.0 L579.3,210.0 L580.9,209.9 L582.5,209.6 L584.1,209.2 L585.7,208.6 L587.2,208.0 L588.8,207.4 L590.4,206.8 L592.0,206.2 L593.6,205.8 L595.2,205.4 L596.8,205.2 L598.3,205.2 L599.9,205.3 L601.5,205.6 L603.1,206.0 L604.7,206.6 L606.2,207.2 L607.8,207.8 L609.4,208.4 L611.0,209.0 L611.0,215.8 L609.4,215.2 L607.8,214.6 L606.2,214.0 L604.7,213.4 L603.1,212.8 L601.5,212.4 L599.9,212.1 L598.3,212.0 L596.8,212.0 L595.2,212.2 L593.6,212.6 L592.0,213.0 L590.4,213.6 L588.8,214.2 L587.2,214.8 L585.7,215.4 L584.1,216.0 L582.5,216.4 L580.9,216.7 L579.3,216.8 L577.8,216.8 L576.2,216.6 L574.6,216.2 L573.0,215.8Z" fill="url(#wav)"/>
<path d="M573.0,237.2 L574.6,237.6 L576.2,238.0 L577.8,238.2 L579.3,238.2 L580.9,238.1 L582.5,237.8 L584.1,237.4 L585.7,236.8 L587.2,236.2 L588.8,235.6 L590.4,235.0 L592.0,234.4 L593.6,234.0 L595.2,233.6 L596.8,233.4 L598.3,233.4 L599.9,233.5 L601.5,233.8 L603.1,234.2 L604.7,234.8 L606.2,235.4 L607.8,236.0 L609.4,236.6 L611.0,237.2 L611.0,244.0 L609.4,243.4 L607.8,242.8 L606.2,242.2 L604.7,241.6 L603.1,241.0 L601.5,240.6 L599.9,240.3 L598.3,240.2 L596.8,240.2 L595.2,240.4 L593.6,240.8 L592.0,241.2 L590.4,241.8 L588.8,242.4 L587.2,243.0 L585.7,243.6 L584.1,244.2 L582.5,244.6 L580.9,244.9 L579.3,245.0 L577.8,245.0 L576.2,244.8 L574.6,244.4 L573.0,244.0Z" fill="url(#wav)"/>
<path d="M573.0,264.3 L574.6,264.7 L576.2,265.1 L577.8,265.3 L579.3,265.3 L580.9,265.2 L582.5,264.9 L584.1,264.5 L585.7,263.9 L587.2,263.3 L588.8,262.7 L590.4,262.1 L592.0,261.5 L593.6,261.1 L595.2,260.7 L596.8,260.5 L598.3,260.5 L599.9,260.6 L601.5,260.9 L603.1,261.3 L604.7,261.9 L606.2,262.5 L607.8,263.1 L609.4,263.7 L611.0,264.3 L611.0,271.1 L609.4,270.5 L607.8,269.9 L606.2,269.3 L604.7,268.7 L603.1,268.1 L601.5,267.7 L599.9,267.4 L598.3,267.3 L596.8,267.3 L595.2,267.5 L593.6,267.9 L592.0,268.3 L590.4,268.9 L588.8,269.5 L587.2,270.1 L585.7,270.7 L584.1,271.3 L582.5,271.7 L580.9,272.0 L579.3,272.1 L577.8,272.1 L576.2,271.9 L574.6,271.5 L573.0,271.1Z" fill="url(#wav)"/>
<path d="M573.0,291.8 L574.6,292.2 L576.2,292.6 L577.8,292.8 L579.3,292.8 L580.9,292.7 L582.5,292.4 L584.1,292.0 L585.7,291.4 L587.2,290.8 L588.8,290.2 L590.4,289.6 L592.0,289.0 L593.6,288.6 L595.2,288.2 L596.8,288.0 L598.3,288.0 L599.9,288.1 L601.5,288.4 L603.1,288.8 L604.7,289.4 L606.2,290.0 L607.8,290.6 L609.4,291.2 L611.0,291.8 L611.0,298.6 L609.4,298.0 L607.8,297.4 L606.2,296.8 L604.7,296.2 L603.1,295.6 L601.5,295.2 L599.9,294.9 L598.3,294.8 L596.8,294.8 L595.2,295.0 L593.6,295.4 L592.0,295.8 L590.4,296.4 L588.8,297.0 L587.2,297.6 L585.7,298.2 L584.1,298.8 L582.5,299.2 L580.9,299.5 L579.3,299.6 L577.8,299.6 L576.2,299.4 L574.6,299.0 L573.0,298.6Z" fill="url(#wav)"/>
<path d="M704.0,211.1 L705.8,210.7 L707.5,210.4 L709.2,210.2 L711.0,210.2 L712.8,210.4 L714.5,210.7 L716.2,211.1 L718.0,211.7 L719.8,212.3 L721.5,212.9 L723.2,213.5 L725.0,214.1 L726.8,214.5 L728.5,214.8 L730.2,215.0 L732.0,215.0 L733.8,214.8 L735.5,214.5 L737.2,214.1 L739.0,213.5 L740.8,212.9 L742.5,212.3 L744.2,211.7 L746.0,211.1 L746.0,217.9 L744.2,218.5 L742.5,219.1 L740.8,219.7 L739.0,220.3 L737.2,220.9 L735.5,221.3 L733.8,221.6 L732.0,221.8 L730.2,221.8 L728.5,221.6 L726.8,221.3 L725.0,220.9 L723.2,220.3 L721.5,219.7 L719.8,219.1 L718.0,218.5 L716.2,217.9 L714.5,217.5 L712.8,217.2 L711.0,217.0 L709.2,217.0 L707.5,217.2 L705.8,217.5 L704.0,217.9Z" fill="url(#wav)"/>
<path d="M704.0,237.1 L705.8,236.7 L707.5,236.4 L709.2,236.2 L711.0,236.2 L712.8,236.4 L714.5,236.7 L716.2,237.1 L718.0,237.7 L719.8,238.3 L721.5,238.9 L723.2,239.5 L725.0,240.1 L726.8,240.5 L728.5,240.8 L730.2,241.0 L732.0,241.0 L733.8,240.8 L735.5,240.5 L737.2,240.1 L739.0,239.5 L740.8,238.9 L742.5,238.3 L744.2,237.7 L746.0,237.1 L746.0,243.9 L744.2,244.5 L742.5,245.1 L740.8,245.7 L739.0,246.3 L737.2,246.9 L735.5,247.3 L733.8,247.6 L732.0,247.8 L730.2,247.8 L728.5,247.6 L726.8,247.3 L725.0,246.9 L723.2,246.3 L721.5,245.7 L719.8,245.1 L718.0,244.5 L716.2,243.9 L714.5,243.5 L712.8,243.2 L711.0,243.0 L709.2,243.0 L707.5,243.2 L705.8,243.5 L704.0,243.9Z" fill="url(#wav)"/>
<path d="M704.0,266.1 L705.8,265.7 L707.5,265.4 L709.2,265.2 L711.0,265.2 L712.8,265.4 L714.5,265.7 L716.2,266.1 L718.0,266.7 L719.8,267.3 L721.5,267.9 L723.2,268.5 L725.0,269.1 L726.8,269.5 L728.5,269.8 L730.2,270.0 L732.0,270.0 L733.8,269.8 L735.5,269.5 L737.2,269.1 L739.0,268.5 L740.8,267.9 L742.5,267.3 L744.2,266.7 L746.0,266.1 L746.0,272.9 L744.2,273.5 L742.5,274.1 L740.8,274.7 L739.0,275.3 L737.2,275.9 L735.5,276.3 L733.8,276.6 L732.0,276.8 L730.2,276.8 L728.5,276.6 L726.8,276.3 L725.0,275.9 L723.2,275.3 L721.5,274.7 L719.8,274.1 L718.0,273.5 L716.2,272.9 L714.5,272.5 L712.8,272.2 L711.0,272.0 L709.2,272.0 L707.5,272.2 L705.8,272.5 L704.0,272.9Z" fill="url(#wav)"/>
<path d="M704.0,292.1 L705.8,291.7 L707.5,291.4 L709.2,291.2 L711.0,291.2 L712.8,291.4 L714.5,291.7 L716.2,292.1 L718.0,292.7 L719.8,293.3 L721.5,293.9 L723.2,294.5 L725.0,295.1 L726.8,295.5 L728.5,295.8 L730.2,296.0 L732.0,296.0 L733.8,295.8 L735.5,295.5 L737.2,295.1 L739.0,294.5 L740.8,293.9 L742.5,293.3 L744.2,292.7 L746.0,292.1 L746.0,298.9 L744.2,299.5 L742.5,300.1 L740.8,300.7 L739.0,301.3 L737.2,301.9 L735.5,302.3 L733.8,302.6 L732.0,302.8 L730.2,302.8 L728.5,302.6 L726.8,302.3 L725.0,301.9 L723.2,301.3 L721.5,300.7 L719.8,300.1 L718.0,299.5 L716.2,298.9 L714.5,298.5 L712.8,298.2 L711.0,298.0 L709.2,298.0 L707.5,298.2 L705.8,298.5 L704.0,298.9Z" fill="url(#wav)"/>
<polyline points="640.4,235.4 633.4,242.4 623.4,242.4 616.4,235.4 616.4,225.4 623.4,218.4 633.4,218.4 640.4,225.4 640.4,235.4" fill="none" stroke="#9a9a40" stroke-width="0.7"/>
<circle cx="640.4" cy="235.4" r="3.2" fill="url(#ball)"/>
<circle cx="633.4" cy="242.4" r="3.2" fill="url(#ball)"/>
<circle cx="623.4" cy="242.4" r="3.2" fill="url(#ball)"/>
<circle cx="616.4" cy="235.4" r="3.2" fill="url(#ball)"/>
<circle cx="616.4" cy="225.4" r="3.2" fill="url(#ball)"/>
<circle cx="623.4" cy="218.4" r="3.2" fill="url(#ball)"/>
<circle cx="633.4" cy="218.4" r="3.2" fill="url(#ball)"/>
<circle cx="640.4" cy="225.4" r="3.2" fill="url(#ball)"/>
<circle cx="640.4" cy="235.4" r="3.2" fill="url(#ball)"/>
<polyline points="675.0,236.7 668.0,243.7 658.0,243.7 651.0,236.7 651.0,226.7 658.0,219.7 668.0,219.7 675.0,226.7 675.0,236.7" fill="none" stroke="#9a9a40" stroke-width="0.7"/>
<circle cx="675.0" cy="236.7" r="3.2" fill="url(#ball)"/>
<circle cx="668.0" cy="243.7" r="3.2" fill="url(#ball)"/>
<circle cx="658.0" cy="243.7" r="3.2" fill="url(#ball)"/>
<circle cx="651.0" cy="236.7" r="3.2" fill="url(#ball)"/>
<circle cx="651.0" cy="226.7" r="3.2" fill="url(#ball)"/>
<circle cx="658.0" cy="219.7" r="3.2" fill="url(#ball)"/>
<circle cx="668.0" cy="219.7" r="3.2" fill="url(#ball)"/>
<circle cx="675.0" cy="226.7" r="3.2" fill="url(#ball)"/>
<circle cx="675.0" cy="236.7" r="3.2" fill="url(#ball)"/>
<polyline points="703.8,244.6 696.8,251.6 686.8,251.6 679.8,244.6 679.8,234.6 686.8,227.6 696.8,227.6 703.8,234.6 703.8,244.6" fill="none" stroke="#9a9a40" stroke-width="0.7"/>
<circle cx="703.8" cy="244.6" r="3.2" fill="url(#ball)"/>
<circle cx="696.8" cy="251.6" r="3.2" fill="url(#ball)"/>
<circle cx="686.8" cy="251.6" r="3.2" fill="url(#ball)"/>
<circle cx="679.8" cy="244.6" r="3.2" fill="url(#ball)"/>
<circle cx="679.8" cy="234.6" r="3.2" fill="url(#ball)"/>
<circle cx="686.8" cy="227.6" r="3.2" fill="url(#ball)"/>
<circle cx="696.8" cy="227.6" r="3.2" fill="url(#ball)"/>
<circle cx="703.8" cy="234.6" r="3.2" fill="url(#ball)"/>
<circle cx="703.8" cy="244.6" r="3.2" fill="url(#ball)"/>
<polyline points="639.3,283.7 632.3,290.7 622.3,290.7 615.3,283.7 615.3,273.7 622.3,266.7 632.3,266.7 639.3,273.7 639.3,283.7" fill="none" stroke="#9a9a40" stroke-width="0.7"/>
<circle cx="639.3" cy="283.7" r="3.2" fill="url(#ball)"/>
<circle cx="632.3" cy="290.7" r="3.2" fill="url(#ball)"/>
<circle cx="622.3" cy="290.7" r="3.2" fill="url(#ball)"/>
<circle cx="615.3" cy="283.7" r="3.2" fill="url(#ball)"/>
<circle cx="615.3" cy="273.7" r="3.2" fill="url(#ball)"/>
<circle cx="622.3" cy="266.7" r="3.2" fill="url(#ball)"/>
<circle cx="632.3" cy="266.7" r="3.2" fill="url(#ball)"/>
<circle cx="639.3" cy="273.7" r="3.2" fill="url(#ball)"/>
<circle cx="639.3" cy="283.7" r="3.2" fill="url(#ball)"/>
<polyline points="672.4,275.9 665.4,282.9 655.4,282.9 648.4,275.9 648.4,265.9 655.4,258.9 665.4,258.9 672.4,265.9 672.4,275.9" fill="none" stroke="#9a9a40" stroke-width="0.7"/>
<circle cx="672.4" cy="275.9" r="3.2" fill="url(#ball)"/>
<circle cx="665.4" cy="282.9" r="3.2" fill="url(#ball)"/>
<circle cx="655.4" cy="282.9" r="3.2" fill="url(#ball)"/>
<circle cx="648.4" cy="275.9" r="3.2" fill="url(#ball)"/>
<circle cx="648.4" cy="265.9" r="3.2" fill="url(#ball)"/>
<circle cx="655.4" cy="258.9" r="3.2" fill="url(#ball)"/>
<circle cx="665.4" cy="258.9" r="3.2" fill="url(#ball)"/>
<circle cx="672.4" cy="265.9" r="3.2" fill="url(#ball)"/>
<circle cx="672.4" cy="275.9" r="3.2" fill="url(#ball)"/>
<polyline points="703.8,283.7 696.8,290.7 686.8,290.7 679.8,283.7 679.8,273.7 686.8,266.7 696.8,266.7 703.8,273.7 703.8,283.7" fill="none" stroke="#9a9a40" stroke-width="0.7"/>
<circle cx="703.8" cy="283.7" r="3.2" fill="url(#ball)"/>
<circle cx="696.8" cy="290.7" r="3.2" fill="url(#ball)"/>
<circle cx="686.8" cy="290.7" r="3.2" fill="url(#ball)"/>
<circle cx="679.8" cy="283.7" r="3.2" fill="url(#ball)"/>
<circle cx="679.8" cy="273.7" r="3.2" fill="url(#ball)"/>
<circle cx="686.8" cy="266.7" r="3.2" fill="url(#ball)"/>
<circle cx="696.8" cy="266.7" r="3.2" fill="url(#ball)"/>
<circle cx="703.8" cy="273.7" r="3.2" fill="url(#ball)"/>
<circle cx="703.8" cy="283.7" r="3.2" fill="url(#ball)"/>
<polyline points="579.8,221.8 586.4,228.6 593.0,222.0 600.6,228.6" fill="none" stroke="#9a9a40" stroke-width="0.7"/>
<circle cx="579.8" cy="221.8" r="3.2" fill="url(#ball)"/>
<circle cx="586.4" cy="228.6" r="3.2" fill="url(#ball)"/>
<circle cx="593.0" cy="222.0" r="3.2" fill="url(#ball)"/>
<circle cx="600.6" cy="228.6" r="3.2" fill="url(#ball)"/>
<polyline points="578.0,246.6 585.0,253.6 591.0,247.6" fill="none" stroke="#9a9a40" stroke-width="0.7"/>
<circle cx="578.0" cy="246.6" r="3.2" fill="url(#ball)"/>
<circle cx="585.0" cy="253.6" r="3.2" fill="url(#ball)"/>
<circle cx="591.0" cy="247.6" r="3.2" fill="url(#ball)"/>
<polyline points="602.0,251.0 604.0,259.6" fill="none" stroke="#9a9a40" stroke-width="0.7"/>
<circle cx="602.0" cy="251.0" r="3.2" fill="url(#ball)"/>
<circle cx="604.0" cy="259.6" r="3.2" fill="url(#ball)"/>
<polyline points="578.0,275.0 585.0,282.0 592.0,275.0 599.0,281.0" fill="none" stroke="#9a9a40" stroke-width="0.7"/>
<circle cx="578.0" cy="275.0" r="3.2" fill="url(#ball)"/>
<circle cx="585.0" cy="282.0" r="3.2" fill="url(#ball)"/>
<circle cx="592.0" cy="275.0" r="3.2" fill="url(#ball)"/>
<circle cx="599.0" cy="281.0" r="3.2" fill="url(#ball)"/>
<polyline points="712.6,225.2 719.1,230.4 727.0,225.2 733.5,230.4" fill="none" stroke="#9a9a40" stroke-width="0.7"/>
<circle cx="712.6" cy="225.2" r="3.2" fill="url(#ball)"/>
<circle cx="719.1" cy="230.4" r="3.2" fill="url(#ball)"/>
<circle cx="727.0" cy="225.2" r="3.2" fill="url(#ball)"/>
<circle cx="733.5" cy="230.4" r="3.2" fill="url(#ball)"/>
<polyline points="716.5,251.3 721.8,255.2 728.3,251.3" fill="none" stroke="#9a9a40" stroke-width="0.7"/>
<circle cx="716.5" cy="251.3" r="3.2" fill="url(#ball)"/>
<circle cx="721.8" cy="255.2" r="3.2" fill="url(#ball)"/>
<circle cx="728.3" cy="251.3" r="3.2" fill="url(#ball)"/>
<polyline points="737.4,263.0 740.0,256.5" fill="none" stroke="#9a9a40" stroke-width="0.7"/>
<circle cx="737.4" cy="263.0" r="3.2" fill="url(#ball)"/>
<circle cx="740.0" cy="256.5" r="3.2" fill="url(#ball)"/>
<polyline points="714.0,281.3 720.4,285.2 729.6,281.3 737.4,286.5" fill="none" stroke="#9a9a40" stroke-width="0.7"/>
<circle cx="714.0" cy="281.3" r="3.2" fill="url(#ball)"/>
<circle cx="720.4" cy="285.2" r="3.2" fill="url(#ball)"/>
<circle cx="729.6" cy="281.3" r="3.2" fill="url(#ball)"/>
<circle cx="737.4" cy="286.5" r="3.2" fill="url(#ball)"/>
<text x="623.3" y="237.2" font-size="10.5" font-weight="bold" fill="#1a1a1a" font-family="Liberation Sans, sans-serif">S<tspan font-size="6.5" dy="2.5">8</tspan></text>
<text x="702" y="260" font-size="10.5" font-weight="bold" fill="#1a1a1a" font-family="Liberation Sans, sans-serif">S<tspan font-size="6.5" dy="3">2-4</tspan></text>
<text x="751.3" y="242.5" font-size="11.4" font-weight="bold" fill="#1e1e1e" textLength="53.4" lengthAdjust="spacingAndGlyphs" font-family="Liberation Sans, sans-serif" >Discharge</text>
<line x1="751" y1="249.7" x2="801.0" y2="249.7" stroke="#e06060" stroke-width="2"/>
<polygon points="806.5,249.7 801.0,252.9 801.0,246.5" fill="#e06060"/>
<line x1="807" y1="256.9" x2="756.5" y2="256.9" stroke="#22b0d0" stroke-width="2"/>
<polygon points="751,256.9 756.5,253.7 756.5,260.1" fill="#22b0d0"/>
<text x="758.5" y="271.7" font-size="11.4" font-weight="bold" fill="#1e1e1e" textLength="36.8" lengthAdjust="spacingAndGlyphs" font-family="Liberation Sans, sans-serif" >Charge</text>
<rect x="848.5" y="199.5" width="93.0" height="16.0" fill="url(#cyl)" rx="1"/>
<ellipse cx="941.0" cy="207.5" rx="2.8" ry="8.0" fill="#a8a8a8"/>
<rect x="849.5" y="297" width="92.0" height="16.0" fill="url(#cyl)" rx="1"/>
<ellipse cx="941.0" cy="305.0" rx="2.8" ry="8.0" fill="#a8a8a8"/>
<path d="M810.3,209.2 L812.0,209.6 L813.6,210.0 L815.3,210.2 L816.9,210.2 L818.6,210.1 L820.2,209.8 L821.9,209.4 L823.5,208.8 L825.2,208.2 L826.8,207.6 L828.5,207.0 L830.1,206.4 L831.8,206.0 L833.5,205.6 L835.1,205.4 L836.8,205.4 L838.4,205.5 L840.1,205.8 L841.7,206.2 L843.4,206.8 L845.0,207.4 L846.7,208.0 L848.3,208.6 L850.0,209.2 L850.0,216.0 L848.3,215.4 L846.7,214.8 L845.0,214.2 L843.4,213.6 L841.7,213.0 L840.1,212.6 L838.4,212.3 L836.8,212.2 L835.1,212.2 L833.5,212.4 L831.8,212.8 L830.1,213.2 L828.5,213.8 L826.8,214.4 L825.2,215.0 L823.5,215.6 L821.9,216.2 L820.2,216.6 L818.6,216.9 L816.9,217.0 L815.3,217.0 L813.6,216.8 L812.0,216.4 L810.3,216.0Z" fill="url(#wav)"/>
<path d="M810.3,237.9 L812.0,238.3 L813.6,238.7 L815.3,238.9 L816.9,238.9 L818.6,238.8 L820.2,238.5 L821.9,238.1 L823.5,237.5 L825.2,236.9 L826.8,236.3 L828.5,235.7 L830.1,235.1 L831.8,234.7 L833.5,234.3 L835.1,234.1 L836.8,234.1 L838.4,234.2 L840.1,234.5 L841.7,234.9 L843.4,235.5 L845.0,236.1 L846.7,236.7 L848.3,237.3 L850.0,237.9 L850.0,244.7 L848.3,244.1 L846.7,243.5 L845.0,242.9 L843.4,242.3 L841.7,241.7 L840.1,241.3 L838.4,241.0 L836.8,240.9 L835.1,240.9 L833.5,241.1 L831.8,241.5 L830.1,241.9 L828.5,242.5 L826.8,243.1 L825.2,243.7 L823.5,244.3 L821.9,244.9 L820.2,245.3 L818.6,245.6 L816.9,245.7 L815.3,245.7 L813.6,245.5 L812.0,245.1 L810.3,244.7Z" fill="url(#wav)"/>
<path d="M810.3,265.4 L812.0,265.8 L813.6,266.2 L815.3,266.4 L816.9,266.4 L818.6,266.3 L820.2,266.0 L821.9,265.6 L823.5,265.0 L825.2,264.4 L826.8,263.8 L828.5,263.2 L830.1,262.6 L831.8,262.2 L833.5,261.8 L835.1,261.6 L836.8,261.6 L838.4,261.7 L840.1,262.0 L841.7,262.4 L843.4,263.0 L845.0,263.6 L846.7,264.2 L848.3,264.8 L850.0,265.4 L850.0,272.2 L848.3,271.6 L846.7,271.0 L845.0,270.4 L843.4,269.8 L841.7,269.2 L840.1,268.8 L838.4,268.5 L836.8,268.4 L835.1,268.4 L833.5,268.6 L831.8,269.0 L830.1,269.4 L828.5,270.0 L826.8,270.6 L825.2,271.2 L823.5,271.8 L821.9,272.4 L820.2,272.8 L818.6,273.1 L816.9,273.2 L815.3,273.2 L813.6,273.0 L812.0,272.6 L810.3,272.2Z" fill="url(#wav)"/>
<path d="M810.3,290.9 L812.0,291.3 L813.6,291.7 L815.3,291.9 L816.9,291.9 L818.6,291.8 L820.2,291.5 L821.9,291.1 L823.5,290.5 L825.2,289.9 L826.8,289.3 L828.5,288.7 L830.1,288.1 L831.8,287.7 L833.5,287.3 L835.1,287.1 L836.8,287.1 L838.4,287.2 L840.1,287.5 L841.7,287.9 L843.4,288.5 L845.0,289.1 L846.7,289.7 L848.3,290.3 L850.0,290.9 L850.0,297.7 L848.3,297.1 L846.7,296.5 L845.0,295.9 L843.4,295.3 L841.7,294.7 L840.1,294.3 L838.4,294.0 L836.8,293.9 L835.1,293.9 L833.5,294.1 L831.8,294.5 L830.1,294.9 L828.5,295.5 L826.8,296.1 L825.2,296.7 L823.5,297.3 L821.9,297.9 L820.2,298.3 L818.6,298.6 L816.9,298.7 L815.3,298.7 L813.6,298.5 L812.0,298.1 L810.3,297.7Z" fill="url(#wav)"/>
<path d="M943.0,210.6 L944.7,210.2 L946.4,209.9 L948.1,209.7 L949.8,209.7 L951.5,209.9 L953.2,210.2 L955.0,210.6 L956.7,211.2 L958.4,211.8 L960.1,212.4 L961.8,213.0 L963.5,213.6 L965.2,214.0 L966.9,214.3 L968.6,214.5 L970.3,214.5 L972.0,214.3 L973.8,214.0 L975.5,213.6 L977.2,213.0 L978.9,212.4 L980.6,211.8 L982.3,211.2 L984.0,210.6 L984.0,217.4 L982.3,218.0 L980.6,218.6 L978.9,219.2 L977.2,219.8 L975.5,220.4 L973.8,220.8 L972.0,221.1 L970.3,221.3 L968.6,221.3 L966.9,221.1 L965.2,220.8 L963.5,220.4 L961.8,219.8 L960.1,219.2 L958.4,218.6 L956.7,218.0 L955.0,217.4 L953.2,217.0 L951.5,216.7 L949.8,216.5 L948.1,216.5 L946.4,216.7 L944.7,217.0 L943.0,217.4Z" fill="url(#wav)"/>
<path d="M943.0,237.1 L944.7,236.7 L946.4,236.4 L948.1,236.2 L949.8,236.2 L951.5,236.4 L953.2,236.7 L955.0,237.1 L956.7,237.7 L958.4,238.3 L960.1,238.9 L961.8,239.5 L963.5,240.1 L965.2,240.5 L966.9,240.8 L968.6,241.0 L970.3,241.0 L972.0,240.8 L973.8,240.5 L975.5,240.1 L977.2,239.5 L978.9,238.9 L980.6,238.3 L982.3,237.7 L984.0,237.1 L984.0,243.9 L982.3,244.5 L980.6,245.1 L978.9,245.7 L977.2,246.3 L975.5,246.9 L973.8,247.3 L972.0,247.6 L970.3,247.8 L968.6,247.8 L966.9,247.6 L965.2,247.3 L963.5,246.9 L961.8,246.3 L960.1,245.7 L958.4,245.1 L956.7,244.5 L955.0,243.9 L953.2,243.5 L951.5,243.2 L949.8,243.0 L948.1,243.0 L946.4,243.2 L944.7,243.5 L943.0,243.9Z" fill="url(#wav)"/>
<path d="M943.0,264.6 L944.7,264.2 L946.4,263.9 L948.1,263.7 L949.8,263.7 L951.5,263.9 L953.2,264.2 L955.0,264.6 L956.7,265.2 L958.4,265.8 L960.1,266.4 L961.8,267.0 L963.5,267.6 L965.2,268.0 L966.9,268.3 L968.6,268.5 L970.3,268.5 L972.0,268.3 L973.8,268.0 L975.5,267.6 L977.2,267.0 L978.9,266.4 L980.6,265.8 L982.3,265.2 L984.0,264.6 L984.0,271.4 L982.3,272.0 L980.6,272.6 L978.9,273.2 L977.2,273.8 L975.5,274.4 L973.8,274.8 L972.0,275.1 L970.3,275.3 L968.6,275.3 L966.9,275.1 L965.2,274.8 L963.5,274.4 L961.8,273.8 L960.1,273.2 L958.4,272.6 L956.7,272.0 L955.0,271.4 L953.2,271.0 L951.5,270.7 L949.8,270.5 L948.1,270.5 L946.4,270.7 L944.7,271.0 L943.0,271.4Z" fill="url(#wav)"/>
<path d="M943.0,291.1 L944.7,290.7 L946.4,290.4 L948.1,290.2 L949.8,290.2 L951.5,290.4 L953.2,290.7 L955.0,291.1 L956.7,291.7 L958.4,292.3 L960.1,292.9 L961.8,293.5 L963.5,294.1 L965.2,294.5 L966.9,294.8 L968.6,295.0 L970.3,295.0 L972.0,294.8 L973.8,294.5 L975.5,294.1 L977.2,293.5 L978.9,292.9 L980.6,292.3 L982.3,291.7 L984.0,291.1 L984.0,297.9 L982.3,298.5 L980.6,299.1 L978.9,299.7 L977.2,300.3 L975.5,300.9 L973.8,301.3 L972.0,301.6 L970.3,301.8 L968.6,301.8 L966.9,301.6 L965.2,301.3 L963.5,300.9 L961.8,300.3 L960.1,299.7 L958.4,299.1 L956.7,298.5 L955.0,297.9 L953.2,297.5 L951.5,297.2 L949.8,297.0 L948.1,297.0 L946.4,297.2 L944.7,297.5 L943.0,297.9Z" fill="url(#wav)"/>
<polyline points="868.6,219.7 870.8,230.3 880.3,228.2 883.5,237.1" fill="none" stroke="#9a9a40" stroke-width="0.7"/>
<circle cx="868.6" cy="219.7" r="3.2" fill="url(#ball)"/>
<circle cx="870.8" cy="230.3" r="3.2" fill="url(#ball)"/>
<circle cx="880.3" cy="228.2" r="3.2" fill="url(#ball)"/>
<circle cx="883.5" cy="237.1" r="3.2" fill="url(#ball)"/>
<polyline points="894.1,228.2 901.5,222.9 908.9,229.2 915.3,222.9 923.8,229.2 931.2,222.9" fill="none" stroke="#9a9a40" stroke-width="0.7"/>
<circle cx="894.1" cy="228.2" r="3.2" fill="url(#ball)"/>
<circle cx="901.5" cy="222.9" r="3.2" fill="url(#ball)"/>
<circle cx="908.9" cy="229.2" r="3.2" fill="url(#ball)"/>
<circle cx="915.3" cy="222.9" r="3.2" fill="url(#ball)"/>
<circle cx="923.8" cy="229.2" r="3.2" fill="url(#ball)"/>
<circle cx="931.2" cy="222.9" r="3.2" fill="url(#ball)"/>
<polyline points="884.6,250.5 892.0,244.1 899.4,250.5 906.8,243.0 914.2,249.4 921.2,242.0" fill="none" stroke="#9a9a40" stroke-width="0.7"/>
<circle cx="884.6" cy="250.5" r="3.2" fill="url(#ball)"/>
<circle cx="892.0" cy="244.1" r="3.2" fill="url(#ball)"/>
<circle cx="899.4" cy="250.5" r="3.2" fill="url(#ball)"/>
<circle cx="906.8" cy="243.0" r="3.2" fill="url(#ball)"/>
<circle cx="914.2" cy="249.4" r="3.2" fill="url(#ball)"/>
<circle cx="921.2" cy="242.0" r="3.2" fill="url(#ball)"/>
<polyline points="887.7,267.4 895.2,261.1 902.2,268.1 908.9,261.1 916.4,267.4 923.8,260.0" fill="none" stroke="#9a9a40" stroke-width="0.7"/>
<circle cx="887.7" cy="267.4" r="3.2" fill="url(#ball)"/>
<circle cx="895.2" cy="261.1" r="3.2" fill="url(#ball)"/>
<circle cx="902.2" cy="268.1" r="3.2" fill="url(#ball)"/>
<circle cx="908.9" cy="261.1" r="3.2" fill="url(#ball)"/>
<circle cx="916.4" cy="267.4" r="3.2" fill="url(#ball)"/>
<circle cx="923.8" cy="260.0" r="3.2" fill="url(#ball)"/>
<polyline points="882.4,288.6 889.9,282.3 897.3,288.6 904.7,281.6 912.1,287.6 919.6,280.8" fill="none" stroke="#9a9a40" stroke-width="0.7"/>
<circle cx="882.4" cy="288.6" r="3.2" fill="url(#ball)"/>
<circle cx="889.9" cy="282.3" r="3.2" fill="url(#ball)"/>
<circle cx="897.3" cy="288.6" r="3.2" fill="url(#ball)"/>
<circle cx="904.7" cy="281.6" r="3.2" fill="url(#ball)"/>
<circle cx="912.1" cy="287.6" r="3.2" fill="url(#ball)"/>
<circle cx="919.6" cy="280.8" r="3.2" fill="url(#ball)"/>
<polyline points="867.6,253.6 860.6,260.0 866.9,268.5 859.1,273.8" fill="none" stroke="#9a9a40" stroke-width="0.7"/>
<circle cx="867.6" cy="253.6" r="3.2" fill="url(#ball)"/>
<circle cx="860.6" cy="260.0" r="3.2" fill="url(#ball)"/>
<circle cx="866.9" cy="268.5" r="3.2" fill="url(#ball)"/>
<circle cx="859.1" cy="273.8" r="3.2" fill="url(#ball)"/>
<polyline points="814.5,220.8 822.0,228.2 835.8,225.0 842.1,232.4" fill="none" stroke="#9a9a40" stroke-width="0.7"/>
<circle cx="814.5" cy="220.8" r="3.2" fill="url(#ball)"/>
<circle cx="822.0" cy="228.2" r="3.2" fill="url(#ball)"/>
<circle cx="835.8" cy="225.0" r="3.2" fill="url(#ball)"/>
<circle cx="842.1" cy="232.4" r="3.2" fill="url(#ball)"/>
<polyline points="817.7,249.4 838.9,249.4" fill="none" stroke="#9a9a40" stroke-width="0.7"/>
<circle cx="817.7" cy="249.4" r="3.2" fill="url(#ball)"/>
<circle cx="838.9" cy="249.4" r="3.2" fill="url(#ball)"/>
<polyline points="836.8,258.9" fill="none" stroke="#9a9a40" stroke-width="0.7"/>
<circle cx="836.8" cy="258.9" r="3.2" fill="url(#ball)"/>
<polyline points="811.4,280.2 819.8,277.0 832.6,278.0 840.0,285.5" fill="none" stroke="#9a9a40" stroke-width="0.7"/>
<circle cx="811.4" cy="280.2" r="3.2" fill="url(#ball)"/>
<circle cx="819.8" cy="277.0" r="3.2" fill="url(#ball)"/>
<circle cx="832.6" cy="278.0" r="3.2" fill="url(#ball)"/>
<circle cx="840.0" cy="285.5" r="3.2" fill="url(#ball)"/>
<polyline points="951.4,225.0 958.8,232.4" fill="none" stroke="#9a9a40" stroke-width="0.7"/>
<circle cx="951.4" cy="225.0" r="3.2" fill="url(#ball)"/>
<circle cx="958.8" cy="232.4" r="3.2" fill="url(#ball)"/>
<polyline points="983.2,227.1" fill="none" stroke="#9a9a40" stroke-width="0.7"/>
<circle cx="983.2" cy="227.1" r="3.2" fill="url(#ball)"/>
<polyline points="975.8,235.6" fill="none" stroke="#9a9a40" stroke-width="0.7"/>
<circle cx="975.8" cy="235.6" r="3.2" fill="url(#ball)"/>
<polyline points="945.0,257.9 953.5,253.6" fill="none" stroke="#9a9a40" stroke-width="0.7"/>
<circle cx="945.0" cy="257.9" r="3.2" fill="url(#ball)"/>
<circle cx="953.5" cy="253.6" r="3.2" fill="url(#ball)"/>
<polyline points="966.2,260.0 974.7,251.5 982.1,257.9" fill="none" stroke="#9a9a40" stroke-width="0.7"/>
<circle cx="966.2" cy="260.0" r="3.2" fill="url(#ball)"/>
<circle cx="974.7" cy="251.5" r="3.2" fill="url(#ball)"/>
<circle cx="982.1" cy="257.9" r="3.2" fill="url(#ball)"/>
<polyline points="995.9,256.8" fill="none" stroke="#9a9a40" stroke-width="0.7"/>
<circle cx="995.9" cy="256.8" r="3.2" fill="url(#ball)"/>
<polyline points="947.1,281.2 956.7,281.2 967.3,281.6 974.7,287.6" fill="none" stroke="#9a9a40" stroke-width="0.7"/>
<circle cx="947.1" cy="281.2" r="3.2" fill="url(#ball)"/>
<circle cx="956.7" cy="281.2" r="3.2" fill="url(#ball)"/>
<circle cx="967.3" cy="281.6" r="3.2" fill="url(#ball)"/>
<circle cx="974.7" cy="287.6" r="3.2" fill="url(#ball)"/>
<circle cx="861.2" cy="221.8" r="1.7" fill="#5a5a66"/>
<circle cx="888.8" cy="226.1" r="1.7" fill="#5a5a66"/>
<circle cx="936.5" cy="227.8" r="1.7" fill="#5a5a66"/>
<circle cx="890.9" cy="236.7" r="1.7" fill="#5a5a66"/>
<circle cx="878.2" cy="247.7" r="1.7" fill="#5a5a66"/>
<circle cx="927.6" cy="246.9" r="1.7" fill="#5a5a66"/>
<circle cx="880.9" cy="265.3" r="1.7" fill="#5a5a66"/>
<circle cx="930.2" cy="264.7" r="1.7" fill="#5a5a66"/>
<circle cx="876.7" cy="286.5" r="1.7" fill="#5a5a66"/>
<circle cx="925.5" cy="285.0" r="1.7" fill="#5a5a66"/>
<circle cx="864.4" cy="246.9" r="1.7" fill="#5a5a66"/>
<circle cx="862.7" cy="280.8" r="1.7" fill="#5a5a66"/>
<circle cx="808.2" cy="223.9" r="1.7" fill="#5a5a66"/>
<circle cx="829.4" cy="225.0" r="1.7" fill="#5a5a66"/>
<circle cx="848.5" cy="229.2" r="1.7" fill="#5a5a66"/>
<circle cx="810.3" cy="249.8" r="1.7" fill="#5a5a66"/>
<circle cx="825.2" cy="249.8" r="1.7" fill="#5a5a66"/>
<circle cx="832.6" cy="249.8" r="1.7" fill="#5a5a66"/>
<circle cx="845.3" cy="249.4" r="1.7" fill="#5a5a66"/>
<circle cx="830.5" cy="258.9" r="1.7" fill="#5a5a66"/>
<circle cx="844.2" cy="258.9" r="1.7" fill="#5a5a66"/>
<circle cx="819.8" cy="268.5" r="1.7" fill="#5a5a66"/>
<circle cx="827.3" cy="281.2" r="1.7" fill="#5a5a66"/>
<circle cx="846.4" cy="281.6" r="1.7" fill="#5a5a66"/>
<circle cx="812.4" cy="287.6" r="1.7" fill="#5a5a66"/>
<circle cx="946.1" cy="228.6" r="1.7" fill="#5a5a66"/>
<circle cx="966.2" cy="228.6" r="1.7" fill="#5a5a66"/>
<circle cx="976.8" cy="227.1" r="1.7" fill="#5a5a66"/>
<circle cx="987.4" cy="228.2" r="1.7" fill="#5a5a66"/>
<circle cx="969.4" cy="235.6" r="1.7" fill="#5a5a66"/>
<circle cx="982.8" cy="235.6" r="1.7" fill="#5a5a66"/>
<circle cx="953.5" cy="246.9" r="1.7" fill="#5a5a66"/>
<circle cx="962.0" cy="256.2" r="1.7" fill="#5a5a66"/>
<circle cx="970.5" cy="253.6" r="1.7" fill="#5a5a66"/>
<circle cx="987.4" cy="253.6" r="1.7" fill="#5a5a66"/>
<circle cx="945.0" cy="264.2" r="1.7" fill="#5a5a66"/>
<circle cx="972.6" cy="264.2" r="1.7" fill="#5a5a66"/>
<circle cx="945.0" cy="288.0" r="1.7" fill="#5a5a66"/>
<circle cx="963.0" cy="285.5" r="1.7" fill="#5a5a66"/>
<circle cx="981.1" cy="283.3" r="1.7" fill="#5a5a66"/>
<line x1="874.2" y1="282" x2="823.4" y2="338.9" stroke="#c8601a" stroke-width="5"/>
<line x1="874.2" y1="282" x2="823.4" y2="338.9" stroke="#f5913a" stroke-width="3"/>
<polygon points="817.4,345.6 818.9,334.9 821.9,337.6 824.9,340.2 827.9,342.9" fill="#f5913a" stroke="#c8601a" stroke-width="0.6"/>
<line x1="961.4" y1="299.6" x2="941.7" y2="360.5" stroke="#c8601a" stroke-width="5"/>
<line x1="961.4" y1="299.6" x2="941.7" y2="360.5" stroke="#f5913a" stroke-width="3"/>
<polygon points="938.9,369.1 936.0,358.7 939.8,359.9 943.6,361.2 947.4,362.4" fill="#f5913a" stroke="#c8601a" stroke-width="0.6"/>
<line x1="617.6" y1="339" x2="617.6" y2="571" stroke="#1a1a1a" stroke-width="2"/>
<line x1="616.6" y1="570.2" x2="976" y2="570.2" stroke="#1a1a1a" stroke-width="2"/>
<line x1="617.5" y1="570.2" x2="623.5" y2="570.2" stroke="#1a1a1a" stroke-width="1.6"/>
<text x="613" y="575.8" font-size="16" font-weight="bold" text-anchor="end" fill="#1a1a1a" textLength="23" lengthAdjust="spacingAndGlyphs" font-family="Liberation Sans, sans-serif">1.0</text>
<line x1="617.5" y1="503.4" x2="623.5" y2="503.4" stroke="#1a1a1a" stroke-width="1.6"/>
<text x="613" y="509.0" font-size="16" font-weight="bold" text-anchor="end" fill="#1a1a1a" textLength="23" lengthAdjust="spacingAndGlyphs" font-family="Liberation Sans, sans-serif">1.5</text>
<line x1="617.5" y1="436.5" x2="623.5" y2="436.5" stroke="#1a1a1a" stroke-width="1.6"/>
<text x="613" y="442.1" font-size="16" font-weight="bold" text-anchor="end" fill="#1a1a1a" textLength="23" lengthAdjust="spacingAndGlyphs" font-family="Liberation Sans, sans-serif">2.0</text>
<line x1="617.5" y1="369.7" x2="623.5" y2="369.7" stroke="#1a1a1a" stroke-width="1.6"/>
<text x="613" y="375.3" font-size="16" font-weight="bold" text-anchor="end" fill="#1a1a1a" textLength="23" lengthAdjust="spacingAndGlyphs" font-family="Liberation Sans, sans-serif">2.5</text>
<line x1="617.5" y1="536.8" x2="621.5" y2="536.8" stroke="#1a1a1a" stroke-width="1.3"/>
<line x1="617.5" y1="469.9" x2="621.5" y2="469.9" stroke="#1a1a1a" stroke-width="1.3"/>
<line x1="617.5" y1="403.1" x2="621.5" y2="403.1" stroke="#1a1a1a" stroke-width="1.3"/>
<line x1="618.2" y1="570" x2="618.2" y2="564" stroke="#1a1a1a" stroke-width="1.6"/>
<text x="618.2" y="588.6" font-size="16" font-weight="bold" text-anchor="middle" fill="#1a1a1a" font-family="Liberation Sans, sans-serif" >0</text>
<line x1="689.6" y1="570" x2="689.6" y2="564" stroke="#1a1a1a" stroke-width="1.6"/>
<text x="689.6" y="588.6" font-size="16" font-weight="bold" text-anchor="middle" fill="#1a1a1a" font-family="Liberation Sans, sans-serif" >20</text>
<line x1="761.0" y1="570" x2="761.0" y2="564" stroke="#1a1a1a" stroke-width="1.6"/>
<text x="761.0" y="588.6" font-size="16" font-weight="bold" text-anchor="middle" fill="#1a1a1a" font-family="Liberation Sans, sans-serif" >40</text>
<line x1="832.4" y1="570" x2="832.4" y2="564" stroke="#1a1a1a" stroke-width="1.6"/>
<text x="832.4000000000001" y="588.6" font-size="16" font-weight="bold" text-anchor="middle" fill="#1a1a1a" font-family="Liberation Sans, sans-serif" >60</text>
<line x1="903.8" y1="570" x2="903.8" y2="564" stroke="#1a1a1a" stroke-width="1.6"/>
<text x="903.8" y="588.6" font-size="16" font-weight="bold" text-anchor="middle" fill="#1a1a1a" font-family="Liberation Sans, sans-serif" >80</text>
<line x1="975.2" y1="570" x2="975.2" y2="564" stroke="#1a1a1a" stroke-width="1.6"/>
<text x="975.2" y="588.6" font-size="16" font-weight="bold" text-anchor="middle" fill="#1a1a1a" font-family="Liberation Sans, sans-serif" >100</text>
<line x1="653.9" y1="570" x2="653.9" y2="566.5" stroke="#1a1a1a" stroke-width="1.3"/>
<line x1="725.3" y1="570" x2="725.3" y2="566.5" stroke="#1a1a1a" stroke-width="1.3"/>
<line x1="796.7" y1="570" x2="796.7" y2="566.5" stroke="#1a1a1a" stroke-width="1.3"/>
<line x1="868.1" y1="570" x2="868.1" y2="566.5" stroke="#1a1a1a" stroke-width="1.3"/>
<line x1="939.5" y1="570" x2="939.5" y2="566.5" stroke="#1a1a1a" stroke-width="1.3"/>
<text x="704.4" y="603.8" font-size="17" font-weight="bold" fill="#1a1a1a" textLength="185.8" lengthAdjust="spacingAndGlyphs" font-family="Liberation Sans, sans-serif">Depth of discharge (%)</text>
<text transform="translate(580.4,551.5) rotate(-90)" font-size="16" font-weight="bold" fill="#1a1a1a" textLength="167" lengthAdjust="spacingAndGlyphs" font-family="Liberation Sans, sans-serif">Voltage (V,  <tspan font-style="italic">vs</tspan> Li/Li<tspan font-size="9.5" dy="-7">+</tspan><tspan dy="7">)</tspan></text>
<path d="M718.2,431.2 L725.3,431.8 L743.2,431.8 L761.0,431.8 L778.9,432.1 L796.7,432.5 L811.0,433.8 L821.7,436.5 L827.0,440.5 L832.4,448.5 L837.8,460.6 L843.1,473.9 L848.5,482.0 L853.8,487.3 L864.5,492.0 L875.2,496.0 L889.5,500.7 L903.8,507.4 L918.1,514.0 L932.4,524.7 L946.6,536.8 L960.9,551.5 L973.8,566.2" fill="none" stroke="#62c6f2" stroke-width="11" stroke-linejoin="round"/>
<path d="M718.2,431.2 L725.3,431.8 L743.2,431.8 L761.0,431.8 L778.9,432.1 L796.7,432.5 L811.0,433.8 L821.7,436.5 L827.0,440.5 L832.4,448.5 L837.8,460.6 L843.1,473.9 L848.5,482.0 L853.8,487.3 L864.5,492.0 L875.2,496.0 L889.5,500.7 L903.8,507.4 L918.1,514.0 L932.4,524.7 L946.6,536.8 L960.9,551.5 L973.8,566.2" fill="none" stroke="#1560cc" stroke-width="2.4" stroke-linejoin="round"/>
<path d="M618.2,375.0 L619.6,383.0 L621.8,388.4 L625.3,391.0 L632.5,393.7 L643.2,395.1 L653.9,396.4 L664.6,398.4 L673.5,401.7 L678.9,405.1 L686.0,409.8 L696.7,416.4 L707.5,424.5 L718.2,431.2" fill="none" stroke="#f26a6e" stroke-width="11" stroke-linejoin="round"/>
<path d="M618.2,375.0 L619.6,383.0 L621.8,388.4 L625.3,391.0 L632.5,393.7 L643.2,395.1 L653.9,396.4 L664.6,398.4 L673.5,401.7 L678.9,405.1 L686.0,409.8 L696.7,416.4 L707.5,424.5 L718.2,431.2" fill="none" stroke="#7a1a5a" stroke-width="2.6" stroke-linejoin="round"/>
<ellipse cx="677.1" cy="403.7" rx="3.5" ry="5" fill="#e82030" transform="rotate(-30 677.1 403.7)"/>
<line x1="848.7" y1="370" x2="848.7" y2="570" stroke="#222" stroke-width="1.3" stroke-dasharray="4,2.5"/>
<line x1="976" y1="398" x2="976" y2="570" stroke="#222" stroke-width="1.3" stroke-dasharray="4,2.5"/>
<line x1="620.5" y1="376.5" x2="843" y2="376.5" stroke="#222" stroke-width="1.4"/>
<polyline points="625.5,373.0 619.5,376.5 625.5,380.0" fill="none" stroke="#222" stroke-width="1.4"/>
<polyline points="838,373.0 844,376.5 838,380.0" fill="none" stroke="#222" stroke-width="1.4"/>
<line x1="853" y1="407.6" x2="972" y2="407.6" stroke="#222" stroke-width="1.4"/>
<polyline points="858,404.1 852,407.6 858,411.1" fill="none" stroke="#222" stroke-width="1.4"/>
<polyline points="967,404.1 973,407.6 967,411.1" fill="none" stroke="#222" stroke-width="1.4"/>
<text x="625.5" y="362.8" font-size="14.4" font-weight="bold" fill="#222" textLength="38.0" lengthAdjust="spacingAndGlyphs" font-family="Liberation Sans, sans-serif">Core:</text>
<text x="669" y="362.8" font-size="14.4" font-weight="normal" fill="#2a2a2a" textLength="6.7" lengthAdjust="spacingAndGlyphs" font-family="Liberation Sans, sans-serif">S</text>
<text x="676.6" y="368" font-size="10.5" font-weight="normal" fill="#2a2a2a" textLength="7.1" lengthAdjust="spacingAndGlyphs" font-family="Liberation Sans, sans-serif">8</text>
<line x1="684.9" y1="357.9" x2="698.4" y2="357.9" stroke="#333" stroke-width="1.3"/>
<polyline points="694,353.5 699,357.9 694,362.29999999999995" fill="none" stroke="#333" stroke-width="1.3"/>
<text x="700.2" y="362.8" font-size="14.4" font-weight="normal" fill="#2a2a2a" textLength="11.0" lengthAdjust="spacingAndGlyphs" font-family="Liberation Sans, sans-serif">Li</text>
<text x="712.4" y="368" font-size="10.5" font-weight="normal" fill="#2a2a2a" textLength="5.6" lengthAdjust="spacingAndGlyphs" font-family="Liberation Sans, sans-serif">2</text>
<text x="718.6" y="362.8" font-size="14.4" font-weight="normal" fill="#2a2a2a" textLength="6.7" lengthAdjust="spacingAndGlyphs" font-family="Liberation Sans, sans-serif">S</text>
<text x="727.1" y="368" font-size="10.5" font-weight="normal" fill="#2a2a2a" textLength="45.3" lengthAdjust="spacingAndGlyphs" font-family="Liberation Sans, sans-serif">n(6&lt;n&lt;8)</text>
<line x1="773.7" y1="357.5" x2="787.1" y2="357.5" stroke="#333" stroke-width="1.3"/>
<polyline points="782.7,353.1 787.7,357.5 782.7,361.9" fill="none" stroke="#333" stroke-width="1.3"/>
<text x="789.6" y="362.8" font-size="14.4" font-weight="normal" fill="#2a2a2a" textLength="11.6" lengthAdjust="spacingAndGlyphs" font-family="Liberation Sans, sans-serif">Li</text>
<text x="801.8" y="368" font-size="10.5" font-weight="normal" fill="#2a2a2a" textLength="5.5" lengthAdjust="spacingAndGlyphs" font-family="Liberation Sans, sans-serif">2</text>
<text x="808" y="362.8" font-size="14.4" font-weight="normal" fill="#2a2a2a" textLength="7.3" lengthAdjust="spacingAndGlyphs" font-family="Liberation Sans, sans-serif">S</text>
<text x="816.5" y="368" font-size="10.5" font-weight="normal" fill="#2a2a2a" textLength="44.1" lengthAdjust="spacingAndGlyphs" font-family="Liberation Sans, sans-serif">n(1&lt;n&lt;4)</text>
<text x="853.9" y="391.1" font-size="15" font-weight="bold" fill="#222" textLength="41.2" lengthAdjust="spacingAndGlyphs" font-family="Liberation Sans, sans-serif">Shell:</text>
<text x="900.4" y="391.1" font-size="15" font-weight="normal" fill="#2a2a2a" textLength="7.4" lengthAdjust="spacingAndGlyphs" font-family="Liberation Sans, sans-serif">S</text>
<text x="908.8" y="396" font-size="10.5" font-weight="normal" fill="#2a2a2a" textLength="15.6" lengthAdjust="spacingAndGlyphs" font-family="Liberation Sans, sans-serif">2-4</text>
<line x1="925.9" y1="386.2" x2="939.0" y2="386.2" stroke="#333" stroke-width="1.3"/>
<polyline points="934.6,381.8 939.6,386.2 934.6,390.59999999999997" fill="none" stroke="#333" stroke-width="1.3"/>
<text x="942.8" y="391.1" font-size="15" font-weight="normal" fill="#2a2a2a" textLength="10.7" lengthAdjust="spacingAndGlyphs" font-family="Liberation Sans, sans-serif">Li</text>
<text x="953.9" y="396" font-size="10.5" font-weight="normal" fill="#2a2a2a" textLength="5.1" lengthAdjust="spacingAndGlyphs" font-family="Liberation Sans, sans-serif">2</text>
<text x="960.2" y="391.1" font-size="15" font-weight="normal" fill="#2a2a2a" textLength="13.1" lengthAdjust="spacingAndGlyphs" font-family="Liberation Sans, sans-serif">S/</text>
<text x="976.5" y="391.1" font-size="15" font-weight="normal" fill="#2a2a2a" textLength="11.1" lengthAdjust="spacingAndGlyphs" font-family="Liberation Sans, sans-serif">Li</text>
<text x="988.4" y="396" font-size="10.5" font-weight="normal" fill="#2a2a2a" textLength="4.4" lengthAdjust="spacingAndGlyphs" font-family="Liberation Sans, sans-serif">2</text>
<text x="994" y="391.1" font-size="15" font-weight="normal" fill="#2a2a2a" textLength="7.5" lengthAdjust="spacingAndGlyphs" font-family="Liberation Sans, sans-serif">S</text>
<text x="1002.7" y="396" font-size="10.5" font-weight="normal" fill="#2a2a2a" textLength="5.6" lengthAdjust="spacingAndGlyphs" font-family="Liberation Sans, sans-serif">2</text>
<text x="873.3" y="440.9" font-size="16" font-weight="bold" fill="#2a86d0" textLength="80.2" lengthAdjust="spacingAndGlyphs" font-family="Liberation Sans, sans-serif">Solid-Solid</text>
<text x="639" y="509" font-size="16" font-weight="bold" fill="#2a86d0" textLength="136" lengthAdjust="spacingAndGlyphs" font-family="Liberation Sans, sans-serif">Solid-<tspan fill="#e8303a">Liquid</tspan>-Solid</text>
<line x1="705.9" y1="489.8" x2="681.9" y2="433.1" stroke="#e83040" stroke-width="1.1" stroke-dasharray="2.5,1.5"/>
<polygon points="679.6,427.6 684.7,432.0 681.2,431.3 679.2,434.3" fill="#e83040"/>
<line x1="756" y1="489.8" x2="765.1" y2="454.9" stroke="#3a8ad0" stroke-width="1.1" stroke-dasharray="2.5,1.5"/>
<polygon points="766.6,449.1 768.0,455.7 765.6,453.0 762.2,454.2" fill="#3a8ad0"/>
<line x1="914.9" y1="450" x2="913.2" y2="494.8" stroke="#3a8ad0" stroke-width="1.1" stroke-dasharray="2.5,1.5"/>
<polygon points="913,500.8 910.2,494.7 913.1,496.8 916.2,494.9" fill="#3a8ad0"/>
</svg></body></html>
